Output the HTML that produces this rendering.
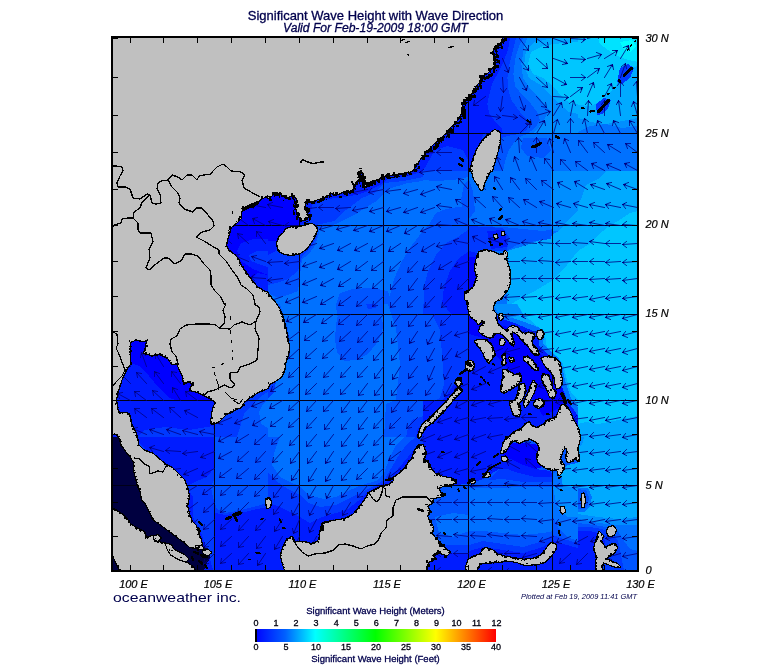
<!DOCTYPE html>
<html lang="en"><head><meta charset="utf-8"><title>Significant Wave Height with Wave Direction</title>
<style>html,body{margin:0;padding:0;background:#fff}body{width:775px;height:665px;overflow:hidden;position:relative}svg{display:block;position:absolute;left:0;top:0}text{font-family:"Liberation Sans",Arial,sans-serif}.t{fill:#00004c}.b{stroke:#00004c;stroke-width:.3px}.ax{font-size:11px;font-style:italic;fill:#000;stroke:#000;stroke-width:.2px}.lg{font-size:9.5px;fill:#00004c;stroke:#00004c;stroke-width:.3px}.ln{font-size:9px;fill:#000010;stroke:#000010;stroke-width:.3px}</style></head><body>
<svg width="775" height="665" viewBox="0 0 775 665">
<defs><clipPath id="mc"><rect x="113" y="38" width="524" height="532"/></clipPath>
<linearGradient id="cb" x1="0" x2="1" y1="0" y2="0">
<stop offset="0" stop-color="#0000ff"/>
<stop offset="0.125" stop-color="#0060ff"/>
<stop offset="0.25" stop-color="#00ffff"/>
<stop offset="0.5" stop-color="#00ff00"/>
<stop offset="0.75" stop-color="#ffff00"/>
<stop offset="1" stop-color="#ff0000"/>
</linearGradient></defs>
<rect width="775" height="665" fill="#fff"/>
<g clip-path="url(#mc)" shape-rendering="crispEdges">
<rect x="111" y="36" width="528" height="536" fill="#0055ff"/>
<svg x="113" y="38" width="155" height="133" viewBox="0 0 775 665" preserveAspectRatio="none">
<rect width="775" height="665" fill="#001cff"/>
</svg>
<svg x="113" y="171" width="155" height="133" viewBox="0 0 775 665" preserveAspectRatio="none">
<rect width="775" height="665" fill="#0000ff"/>
<path d="M775 340L700 340L640 360L620 400L640 450L700 490L775 520Z" fill="#001cff"/>
<path d="M775 400L720 400L680 420L690 450L740 470L775 480Z" fill="#0039ff"/>
<path d="M775 520L720 510L690 545L720 580L775 610Z" fill="#001cff"/>
</svg>
<svg x="113" y="304" width="155" height="133" viewBox="0 0 775 665" preserveAspectRatio="none">
<rect width="775" height="665" fill="#0000ff"/>
<path d="M0 300L85 295L130 310L180 360L230 420L280 470L330 485L510 485L510 665L0 665Z" fill="#001cff"/>
<path d="M120 665L160 630L260 615L380 630L500 610L510 665Z" fill="#0039ff"/>
<path d="M510 420L775 420L775 665L510 665Z" fill="#0039ff"/>
<path d="M775 440L740 460L700 500L660 540L640 600L620 665L775 665Z" fill="#0055ff"/>
<path d="M775 480L750 500L730 540L740 600L775 620Z" fill="#0071ff"/>
</svg>
<svg x="113" y="437" width="155" height="133" viewBox="0 0 775 665" preserveAspectRatio="none">
<rect width="775" height="665" fill="#0039ff"/>
<path d="M100 0L510 0L510 150L470 200L420 220L380 240L300 200L200 100Z" fill="#001cff"/>
<path d="M510 0L775 0L775 330L700 350L620 370L560 380L520 360L500 300L490 250L510 200Z" fill="#0055ff"/>
<path d="M510 380L560 390L640 380L720 360L775 350L775 665L510 665Z" fill="#001cff"/>
<path d="M370 250L400 300L400 400L440 480L470 560L500 665L400 665L380 400Z" fill="#001cff"/>
<path d="M0 0L120 0L130 100L150 250L200 400L300 480L400 550L440 545L480 560L488 600L465 640L455 665L0 665Z" fill="#000040"/>
</svg>
<svg x="268" y="38" width="155" height="133" viewBox="0 0 775 665" preserveAspectRatio="none">
<rect width="775" height="665" fill="#001cff"/>
</svg>
<svg x="268" y="171" width="155" height="133" viewBox="0 0 775 665" preserveAspectRatio="none">
<rect width="775" height="665" fill="#0071ff"/>
<path d="M0 0L775 0L775 50L700 60L600 90L550 145L440 215L340 265L260 285L250 330L230 380L200 420L170 440L160 520L150 600L100 620L0 640Z" fill="#0055ff"/>
<path d="M0 0L775 0L775 30L680 50L580 60L530 110L470 135L390 195L330 250L250 268L245 330L210 390L170 425L150 500L100 540L40 560L0 570Z" fill="#0039ff"/>
<path d="M0 0L775 0L700 25L600 40L560 70L500 100L440 120L380 130L300 140L220 170L210 250L160 270L100 300L60 330L40 400L0 420Z" fill="#001cff"/>
<path d="M0 100L150 100L175 250L150 270L100 290L60 330L40 350L0 350Z" fill="#0000ff"/>
<path d="M775 300L720 370L670 450L630 540L610 620L605 665L775 665Z" fill="#0055ff"/>
<path d="M340 665L360 610L420 590L520 585L600 600L620 665Z" fill="#0055ff"/>
<path d="M0 665L0 610L40 630L60 665Z" fill="#0071ff"/>
</svg>
<svg x="268" y="304" width="155" height="133" viewBox="0 0 775 665" preserveAspectRatio="none">
<rect width="775" height="665" fill="#0071ff"/>
<path d="M350 55L420 50L500 40L560 50L575 100L570 150L540 200L500 250L440 280L380 285L345 240L335 180L340 100Z" fill="#0055ff"/>
<path d="M345 60L340 0L575 0L575 50Z" fill="#0055ff"/>
<path d="M490 0L540 0L540 20L500 25Z" fill="#0039ff"/>
<path d="M600 0L775 0L775 665L580 665L590 500L640 480L660 300L640 120Z" fill="#0055ff"/>
<path d="M775 560L720 580L700 620L690 665L775 665Z" fill="#0039ff"/>
<path d="M775 600L750 620L740 665L775 665Z" fill="#001cff"/>
<path d="M0 380L60 360L90 300L110 220L100 120L80 60L60 0L0 0Z" fill="#0055ff"/>
<path d="M0 400L40 390L30 440L0 470Z" fill="#0039ff"/>
</svg>
<svg x="268" y="437" width="155" height="133" viewBox="0 0 775 665" preserveAspectRatio="none">
<rect width="775" height="665" fill="#0071ff"/>
<path d="M0 0L60 0L30 80L20 140L60 200L120 230L160 245L200 290L280 310L340 300L400 270L470 240L540 220L580 180L610 100L640 40L680 0L775 0L775 665L0 665Z" fill="#0055ff"/>
<path d="M0 180L40 220L100 260L160 290L200 330L260 350L340 340L400 310L460 280L520 250L580 215L620 150L660 80L700 30L740 0L775 0L775 665L0 665Z" fill="#0039ff"/>
<path d="M0 330L60 350L120 380L160 400L210 430L270 400L340 380L400 360L450 320L490 280L540 250L600 220L650 160L700 100L740 50L775 665L0 665Z" fill="#001cff"/>
</svg>
<svg x="423" y="38" width="155" height="133" viewBox="0 0 775 665" preserveAspectRatio="none">
<rect width="775" height="665" fill="#008eff"/>
<path d="M515 60L560 20L650 0L775 0L775 380L730 370L680 330L630 280L580 230L530 200L505 140Z" fill="#00aaff"/>
<path d="M540 70L600 40L650 30L775 20L775 330L740 330L700 300L650 240L600 200L550 180L525 130Z" fill="#00c6ff"/>
<path d="M0 0L520 0L505 50L492 130L500 200L540 260L590 310L630 360L600 420L560 470L520 500L500 560L510 620L530 665L0 665Z" fill="#0071ff"/>
<path d="M380 480L775 480L775 665L380 665Z" fill="#0071ff"/>
<path d="M0 0L500 0L480 40L462 100L452 180L460 240L500 290L540 330L570 370L585 410L560 450L520 480L470 500L430 560L410 620L400 665L0 665Z" fill="#0055ff"/>
<path d="M500 500L620 500L640 560L600 600L520 590L490 550Z" fill="#0055ff"/>
<path d="M0 0L465 0L450 60L432 130L422 200L427 260L442 310L470 350L500 390L530 420L520 460L480 480L420 490L390 500L0 665Z" fill="#0039ff"/>
<path d="M0 0L435 0L425 60L402 120L372 180L345 230L332 280L322 330L332 380L362 420L392 450L400 480L300 480L280 560L250 665L0 665Z" fill="#001cff"/>
<path d="M0 665L60 560L120 540L200 560L230 620L230 665Z" fill="#0039ff"/>
</svg>
<svg x="423" y="171" width="155" height="133" viewBox="0 0 775 665" preserveAspectRatio="none">
<rect width="775" height="665" fill="#0071ff"/>
<path d="M640 0L775 0L775 300L640 300Z" fill="#008eff"/>
<path d="M420 400L520 370L600 340L680 300L740 230L775 200L775 665L420 665Z" fill="#00aaff"/>
<path d="M775 400L720 470L650 545L560 600L475 645L440 665L775 665Z" fill="#00c6ff"/>
<path d="M230 275L300 275L400 280L500 290L600 300L650 290L640 340L560 350L470 370L420 400L230 400Z" fill="#0055ff"/>
<path d="M230 180L175 180L115 190L65 210L35 260L0 300L0 665L230 665Z" fill="#0055ff"/>
<path d="M230 40L205 70L190 140L200 200L230 240L260 200L250 100Z" fill="#0055ff"/>
<path d="M0 0L230 0L230 30L150 45L60 50L0 45Z" fill="#0055ff"/>
<path d="M230 290L175 330L115 360L65 420L25 500L5 580L5 665L230 665Z" fill="#0039ff"/>
<path d="M230 275L400 285L430 330L420 400L280 405L230 420Z" fill="#0039ff"/>
<path d="M230 400L175 440L135 500L105 580L95 665L270 665L270 410Z" fill="#001cff"/>
<path d="M225 430L265 430L265 620L225 620Z" fill="#0000ff"/>
<path d="M320 300L410 295L420 380L340 390Z" fill="#001cff"/>
</svg>
<svg x="423" y="304" width="155" height="133" viewBox="0 0 775 665" preserveAspectRatio="none">
<rect width="775" height="665" fill="#001cff"/>
<path d="M0 0L225 0L225 300L160 400L100 480L0 480Z" fill="#0039ff"/>
<path d="M0 50L45 50L85 130L95 250L105 400L85 470L60 485L0 485Z" fill="#0055ff"/>
<path d="M100 0L230 0L230 50L140 50Z" fill="#001cff"/>
<path d="M100 480L225 300L225 665L0 665L0 600Z" fill="#001cff"/>
<path d="M230 60L440 120L600 260L700 400L720 500L600 560L500 400L400 300L300 170L230 150Z" fill="#0000ff"/>
<path d="M350 0L775 0L775 520L740 470L710 380L690 280L640 240L600 200L610 130L560 110L480 80L420 60L370 40Z" fill="#00aaff"/>
<path d="M350 0L400 0L420 60L480 80L560 110L610 130L600 200L640 240L690 280L710 380L740 470L775 520L775 560L720 480L690 400L670 300L620 250L580 210L585 150L540 130L470 100L410 80L360 50Z" fill="#0071ff"/>
<path d="M350 0L470 0L500 50L440 70L380 50Z" fill="#008eff"/>
<path d="M470 -5L775 -5L775 480L740 440L720 380L700 300L660 250L620 220L610 150L570 110L500 50Z" fill="#00c6ff"/>
</svg>
<svg x="423" y="437" width="155" height="133" viewBox="0 0 775 665" preserveAspectRatio="none">
<rect width="775" height="665" fill="#0055ff"/>
<path d="M0 0L420 0L400 80L420 110L380 160L300 210L230 235L150 240L0 240Z" fill="#001cff"/>
<path d="M400 40L440 30L520 30L580 40L600 150L560 160L500 140L440 110L400 100Z" fill="#0000ff"/>
<path d="M400 100L440 110L500 140L560 160L640 170L650 200L560 200L480 180L420 160L380 160Z" fill="#001cff"/>
<path d="M380 160L420 160L480 180L560 200L650 200L650 225L500 225L400 210L330 215Z" fill="#0039ff"/>
<path d="M230 255L650 250L650 470L600 480L500 490L400 480L300 470L230 470Z" fill="#0071ff"/>
<path d="M60 400L150 380L230 390L230 470L150 500L80 480Z" fill="#0071ff"/>
<path d="M650 180L775 150L775 520L720 500L680 460L650 400Z" fill="#0071ff"/>
<path d="M650 250L775 250L775 400L720 400L670 350Z" fill="#008eff"/>
<path d="M690 180L720 140L775 130L775 250L700 250Z" fill="#00aaff"/>
<path d="M230 540L300 520L400 535L500 550L600 520L650 490L700 510L775 530L775 665L230 665Z" fill="#0039ff"/>
<path d="M230 570L300 550L400 565L500 580L600 550L650 515L700 535L775 555L775 665L230 665Z" fill="#001cff"/>
<path d="M0 540L230 540L230 665L0 665Z" fill="#0039ff"/>
<path d="M0 580L230 580L230 665L0 665Z" fill="#001cff"/>
</svg>
<svg x="578" y="38" width="155" height="133" viewBox="0 0 775 665" preserveAspectRatio="none">
<rect width="775" height="665" fill="#00aaff"/>
<path d="M0 0L300 0L300 140L260 150L220 200L170 260L110 320L60 340L0 335Z" fill="#00c6ff"/>
<path d="M100 0L300 0L300 120L250 110L200 90L150 60L110 30Z" fill="#00e3ff"/>
<path d="M210 20L270 10L290 40L260 70L230 60Z" fill="#00ffff"/>
<path d="M0 400L60 420L140 430L200 420L300 400L300 665L0 665Z" fill="#008eff"/>
<path d="M0 470L60 440L140 430L220 450L300 440L300 665L0 665Z" fill="#0071ff"/>
<path d="M210 150L250 130L280 150L260 200L220 230L195 220Z" fill="#0039ff"/>
<path d="M90 330L130 300L165 310L150 350L120 380L95 385Z" fill="#0039ff"/>
</svg>
<svg x="578" y="171" width="155" height="133" viewBox="0 0 775 665" preserveAspectRatio="none">
<rect width="775" height="665" fill="#00aaff"/>
<path d="M0 0L140 0L100 40L40 70L20 130L0 170Z" fill="#008eff"/>
<path d="M300 200L260 210L200 250L150 280L100 320L50 370L0 400L0 665L300 665Z" fill="#00c6ff"/>
</svg>
<svg x="578" y="304" width="155" height="133" viewBox="0 0 775 665" preserveAspectRatio="none">
<rect width="775" height="665" fill="#00c6ff"/>
<path d="M0 600L40 590L100 600L200 580L300 560L300 665L0 665Z" fill="#00aaff"/>
</svg>
<svg x="578" y="437" width="155" height="133" viewBox="0 0 775 665" preserveAspectRatio="none">
<rect width="775" height="665" fill="#00aaff"/>
<path d="M0 385L100 400L200 410L300 400L300 665L0 665Z" fill="#008eff"/>
<path d="M0 410L100 430L200 440L300 440L300 665L0 665Z" fill="#0071ff"/>
<path d="M0 430L80 440L140 450L200 470L230 520L260 560L300 570L300 665L0 665Z" fill="#0055ff"/>
<path d="M0 450L60 450L120 460L170 480L200 520L210 560L220 620L230 665L0 665Z" fill="#0039ff"/>
<path d="M0 470L60 470L100 480L130 500L140 560L120 620L100 665L0 665Z" fill="#001cff"/>
<path d="M-40 250L-10 255L50 255L70 300L60 350L30 375L-40 380Z" fill="#0071ff"/>
<path d="M-10 260L40 265L55 300L50 340L30 360L-10 360Z" fill="#0055ff"/>
<path d="M0 0L30 0L20 40L0 50Z" fill="#008eff"/>
</svg>
<path d="M214.5 38V570M299.5 38V570M383.5 38V570M468.5 38V570M552.5 38V570M113 485.5H637M113 400.5H637M113 314.5H637M113 225.5H637M113 133.5H637" stroke="#000018" stroke-width="1" fill="none"/>
</g>
<g clip-path="url(#mc)" shape-rendering="crispEdges">
<path d="M119.5 398.5L117.5 393.5M122.5 392.5L117.5 393.5M130.5 400.5L117.5 393.5M120.5 377.5L119.5 372.5M124.5 373.5L119.5 372.5M130.5 383.5L119.5 372.5M123.5 357.5L124.5 352.5M128.5 354.5L124.5 352.5M130.5 366.5L124.5 352.5M134.5 432.5L132.5 428.5M137.5 427.5L132.5 428.5M146.5 434.5L132.5 428.5M135.5 413.5L134.5 408.5M139.5 408.5L134.5 408.5M146.5 417.5L134.5 408.5M135.5 396.5L134.5 391.5M139.5 391.5L134.5 391.5M146.5 400.5L134.5 391.5M137.5 377.5L136.5 372.5M141.5 373.5L136.5 372.5M146.5 383.5L136.5 372.5M140.5 357.5L141.5 352.5M145.5 355.5L141.5 352.5M146.5 366.5L141.5 352.5M152.5 451.5L149.5 447.5M154.5 445.5L149.5 447.5M163.5 451.5L149.5 447.5M152.5 433.5L149.5 429.5M154.5 428.5L149.5 429.5M163.5 434.5L149.5 429.5M152.5 413.5L151.5 408.5M156.5 408.5L151.5 408.5M163.5 417.5L151.5 408.5M153.5 395.5L152.5 390.5M157.5 391.5L152.5 390.5M163.5 400.5L152.5 390.5M154.5 376.5L154.5 371.5M159.5 373.5L154.5 371.5M163.5 383.5L154.5 371.5M155.5 358.5L155.5 353.5M160.5 355.5L155.5 353.5M163.5 366.5L155.5 353.5M169.5 472.5L165.5 470.5M169.5 467.5L165.5 470.5M180.5 468.5L165.5 470.5M169.5 453.5L165.5 450.5M169.5 447.5L165.5 450.5M180.5 451.5L165.5 450.5M169.5 433.5L166.5 429.5M171.5 427.5L166.5 429.5M180.5 434.5L166.5 429.5M170.5 412.5L169.5 407.5M174.5 407.5L169.5 407.5M180.5 417.5L169.5 407.5M172.5 392.5L172.5 387.5M177.5 389.5L172.5 387.5M180.5 400.5L172.5 387.5M171.5 376.5L171.5 371.5M176.5 372.5L171.5 371.5M180.5 383.5L171.5 371.5M191.5 529.5L186.5 529.5M187.5 524.5L186.5 529.5M197.5 519.5L186.5 529.5M190.5 511.5L185.5 511.5M187.5 506.5L185.5 511.5M197.5 502.5L185.5 511.5M189.5 493.5L184.5 493.5M186.5 488.5L184.5 493.5M197.5 485.5L184.5 493.5M188.5 475.5L183.5 474.5M186.5 470.5L183.5 474.5M197.5 468.5L183.5 474.5M186.5 455.5L182.5 453.5M186.5 450.5L182.5 453.5M197.5 451.5L182.5 453.5M185.5 434.5L182.5 430.5M187.5 428.5L182.5 430.5M197.5 434.5L182.5 430.5M186.5 414.5L184.5 410.5M189.5 409.5L184.5 410.5M197.5 417.5L184.5 410.5M186.5 396.5L185.5 391.5M190.5 391.5L185.5 391.5M197.5 400.5L185.5 391.5M208.5 580.5L203.5 581.5M204.5 576.5L203.5 581.5M214.5 570.5L203.5 581.5M208.5 563.5L203.5 564.5M204.5 559.5L203.5 564.5M214.5 553.5L203.5 564.5M208.5 546.5L203.5 547.5M204.5 542.5L203.5 547.5M214.5 536.5L203.5 547.5M208.5 528.5L203.5 529.5M204.5 524.5L203.5 529.5M214.5 519.5L203.5 529.5M208.5 511.5L203.5 512.5M204.5 507.5L203.5 512.5M214.5 502.5L203.5 512.5M207.5 494.5L202.5 494.5M204.5 489.5L202.5 494.5M214.5 485.5L202.5 494.5M206.5 476.5L201.5 475.5M203.5 471.5L201.5 475.5M214.5 468.5L201.5 475.5M205.5 458.5L200.5 457.5M203.5 453.5L200.5 457.5M214.5 451.5L200.5 457.5M202.5 435.5L199.5 431.5M204.5 429.5L199.5 431.5M214.5 434.5L199.5 431.5M225.5 580.5L220.5 581.5M221.5 576.5L220.5 581.5M231.5 570.5L220.5 581.5M225.5 562.5L220.5 563.5M221.5 558.5L220.5 563.5M231.5 553.5L220.5 563.5M225.5 545.5L220.5 546.5M221.5 541.5L220.5 546.5M231.5 536.5L220.5 546.5M225.5 528.5L220.5 529.5M221.5 524.5L220.5 529.5M231.5 519.5L220.5 529.5M225.5 511.5L220.5 512.5M221.5 507.5L220.5 512.5M231.5 502.5L220.5 512.5M225.5 494.5L220.5 495.5M221.5 490.5L220.5 495.5M231.5 485.5L220.5 495.5M224.5 477.5L219.5 477.5M220.5 472.5L219.5 477.5M231.5 468.5L219.5 477.5M223.5 459.5L218.5 458.5M220.5 453.5L218.5 458.5M231.5 451.5L218.5 458.5M223.5 442.5L218.5 441.5M220.5 436.5L218.5 441.5M231.5 434.5L218.5 441.5M222.5 424.5L217.5 423.5M220.5 419.5L217.5 423.5M231.5 417.5L217.5 423.5M221.5 238.5L220.5 233.5M225.5 234.5L220.5 233.5M231.5 243.5L220.5 233.5M243.5 580.5L238.5 581.5M238.5 576.5L238.5 581.5M248.5 570.5L238.5 581.5M243.5 563.5L238.5 564.5M238.5 559.5L238.5 564.5M248.5 553.5L238.5 564.5M243.5 546.5L238.5 547.5M238.5 542.5L238.5 547.5M248.5 536.5L238.5 547.5M243.5 529.5L238.5 530.5M239.5 525.5L238.5 530.5M248.5 519.5L238.5 530.5M242.5 512.5L237.5 513.5M238.5 508.5L237.5 513.5M248.5 502.5L237.5 513.5M242.5 494.5L237.5 495.5M238.5 490.5L237.5 495.5M248.5 485.5L237.5 495.5M241.5 478.5L236.5 478.5M237.5 473.5L236.5 478.5M248.5 468.5L236.5 478.5M242.5 461.5L237.5 461.5M238.5 456.5L237.5 461.5M248.5 451.5L237.5 461.5M240.5 442.5L235.5 442.5M237.5 437.5L235.5 442.5M248.5 434.5L235.5 442.5M239.5 424.5L234.5 423.5M237.5 419.5L234.5 423.5M248.5 417.5L234.5 423.5M239.5 407.5L234.5 406.5M237.5 402.5L234.5 406.5M248.5 400.5L234.5 406.5M237.5 259.5L234.5 255.5M239.5 254.5L234.5 255.5M248.5 261.5L234.5 255.5M238.5 238.5L237.5 233.5M242.5 234.5L237.5 233.5M248.5 243.5L237.5 233.5M238.5 221.5L236.5 216.5M241.5 216.5L236.5 216.5M248.5 225.5L236.5 216.5M261.5 580.5L256.5 582.5M256.5 577.5L256.5 582.5M265.5 570.5L256.5 582.5M262.5 563.5L257.5 565.5M257.5 560.5L257.5 565.5M265.5 553.5L257.5 565.5M261.5 547.5L256.5 548.5M256.5 543.5L256.5 548.5M265.5 536.5L256.5 548.5M260.5 529.5L255.5 530.5M256.5 525.5L255.5 530.5M265.5 519.5L255.5 530.5M259.5 495.5L254.5 496.5M255.5 491.5L254.5 496.5M265.5 485.5L254.5 496.5M259.5 478.5L254.5 479.5M255.5 474.5L254.5 479.5M265.5 468.5L254.5 479.5M260.5 461.5L255.5 462.5M256.5 457.5L255.5 462.5M265.5 451.5L255.5 462.5M259.5 444.5L254.5 444.5M255.5 439.5L254.5 444.5M265.5 434.5L254.5 444.5M257.5 426.5L252.5 425.5M254.5 420.5L252.5 425.5M265.5 417.5L252.5 425.5M256.5 407.5L251.5 406.5M254.5 402.5L251.5 406.5M265.5 400.5L251.5 406.5M254.5 280.5L250.5 277.5M254.5 274.5L250.5 277.5M265.5 278.5L250.5 277.5M254.5 260.5L251.5 256.5M256.5 255.5L251.5 256.5M265.5 261.5L251.5 256.5M256.5 236.5L256.5 231.5M261.5 232.5L256.5 231.5M265.5 243.5L256.5 231.5M254.5 223.5L252.5 218.5M257.5 217.5L252.5 218.5M265.5 225.5L252.5 218.5M253.5 208.5L250.5 204.5M255.5 202.5L250.5 204.5M265.5 207.5L250.5 204.5M278.5 580.5L273.5 582.5M273.5 577.5L273.5 582.5M282.5 570.5L273.5 582.5M279.5 547.5L274.5 549.5M274.5 544.5L274.5 549.5M282.5 536.5L274.5 549.5M279.5 529.5L274.5 531.5M274.5 526.5L274.5 531.5M282.5 519.5L274.5 531.5M278.5 512.5L273.5 514.5M273.5 509.5L273.5 514.5M282.5 502.5L273.5 514.5M278.5 496.5L273.5 497.5M273.5 492.5L273.5 497.5M282.5 485.5L273.5 497.5M277.5 478.5L272.5 479.5M272.5 474.5L272.5 479.5M282.5 468.5L272.5 479.5M277.5 461.5L272.5 462.5M273.5 457.5L272.5 462.5M282.5 451.5L272.5 462.5M276.5 443.5L271.5 444.5M272.5 439.5L271.5 444.5M282.5 434.5L271.5 444.5M275.5 426.5L270.5 426.5M271.5 421.5L270.5 426.5M282.5 417.5L270.5 426.5M274.5 408.5L269.5 408.5M271.5 403.5L269.5 408.5M282.5 400.5L269.5 408.5M275.5 391.5L270.5 391.5M272.5 386.5L270.5 391.5M282.5 383.5L270.5 391.5M273.5 302.5L268.5 301.5M271.5 297.5L268.5 301.5M282.5 296.5L268.5 301.5M271.5 282.5L267.5 280.5M271.5 277.5L267.5 280.5M282.5 278.5L267.5 280.5M271.5 265.5L267.5 262.5M271.5 259.5L267.5 262.5M282.5 261.5L267.5 262.5M271.5 225.5L268.5 221.5M273.5 219.5L268.5 221.5M282.5 225.5L268.5 221.5M270.5 208.5L267.5 204.5M272.5 202.5L267.5 204.5M282.5 207.5L267.5 204.5M297.5 547.5L292.5 549.5M291.5 544.5L292.5 549.5M299.5 536.5L292.5 549.5M297.5 531.5L293.5 533.5M292.5 528.5L293.5 533.5M299.5 519.5L293.5 533.5M297.5 513.5L292.5 515.5M291.5 510.5L292.5 515.5M299.5 502.5L292.5 515.5M296.5 496.5L291.5 498.5M291.5 493.5L291.5 498.5M299.5 485.5L291.5 498.5M296.5 478.5L291.5 480.5M291.5 475.5L291.5 480.5M299.5 468.5L291.5 480.5M295.5 461.5L290.5 463.5M290.5 458.5L290.5 463.5M299.5 451.5L290.5 463.5M294.5 444.5L289.5 445.5M290.5 440.5L289.5 445.5M299.5 434.5L289.5 445.5M293.5 426.5L288.5 427.5M289.5 422.5L288.5 427.5M299.5 417.5L288.5 427.5M293.5 409.5L288.5 410.5M289.5 405.5L288.5 410.5M299.5 400.5L288.5 410.5M293.5 392.5L288.5 393.5M289.5 388.5L288.5 393.5M299.5 383.5L288.5 393.5M293.5 376.5L288.5 377.5M289.5 372.5L288.5 377.5M299.5 366.5L288.5 377.5M293.5 358.5L288.5 358.5M289.5 353.5L288.5 358.5M299.5 348.5L288.5 358.5M292.5 340.5L287.5 340.5M288.5 335.5L287.5 340.5M299.5 331.5L287.5 340.5M291.5 322.5L286.5 321.5M288.5 316.5L286.5 321.5M299.5 314.5L286.5 321.5M290.5 303.5L285.5 302.5M287.5 298.5L285.5 302.5M299.5 296.5L285.5 302.5M290.5 284.5L285.5 283.5M288.5 279.5L285.5 283.5M299.5 278.5L285.5 283.5M288.5 265.5L284.5 263.5M288.5 260.5L284.5 263.5M299.5 261.5L284.5 263.5M288.5 228.5L284.5 225.5M288.5 222.5L284.5 225.5M299.5 225.5L284.5 225.5M314.5 547.5L309.5 549.5M308.5 544.5L309.5 549.5M316.5 536.5L309.5 549.5M313.5 530.5L309.5 532.5M308.5 527.5L309.5 532.5M316.5 519.5L309.5 532.5M313.5 513.5L309.5 515.5M308.5 510.5L309.5 515.5M316.5 502.5L309.5 515.5M313.5 496.5L308.5 498.5M307.5 493.5L308.5 498.5M316.5 485.5L308.5 498.5M313.5 479.5L308.5 481.5M308.5 476.5L308.5 481.5M316.5 468.5L308.5 481.5M312.5 461.5L307.5 463.5M307.5 458.5L307.5 463.5M316.5 451.5L307.5 463.5M311.5 445.5L306.5 446.5M306.5 441.5L306.5 446.5M316.5 434.5L306.5 446.5M311.5 427.5L306.5 428.5M307.5 423.5L306.5 428.5M316.5 417.5L306.5 428.5M311.5 410.5L306.5 411.5M307.5 406.5L306.5 411.5M316.5 400.5L306.5 411.5M310.5 393.5L305.5 394.5M306.5 389.5L305.5 394.5M316.5 383.5L305.5 394.5M310.5 376.5L305.5 377.5M306.5 372.5L305.5 377.5M316.5 366.5L305.5 377.5M310.5 358.5L305.5 358.5M306.5 353.5L305.5 358.5M316.5 348.5L305.5 358.5M309.5 340.5L304.5 340.5M305.5 335.5L304.5 340.5M316.5 331.5L304.5 340.5M308.5 322.5L303.5 322.5M305.5 317.5L303.5 322.5M316.5 314.5L303.5 322.5M307.5 303.5L302.5 302.5M304.5 298.5L302.5 302.5M316.5 296.5L302.5 302.5M307.5 285.5L302.5 284.5M305.5 280.5L302.5 284.5M316.5 278.5L302.5 284.5M307.5 267.5L302.5 266.5M305.5 262.5L302.5 266.5M316.5 261.5L302.5 266.5M307.5 249.5L302.5 248.5M305.5 244.5L302.5 248.5M316.5 243.5L302.5 248.5M306.5 230.5L301.5 228.5M304.5 224.5L301.5 228.5M316.5 225.5L301.5 228.5M305.5 211.5L301.5 209.5M305.5 206.5L301.5 209.5M316.5 207.5L301.5 209.5M331.5 530.5L326.5 532.5M325.5 527.5L326.5 532.5M333.5 519.5L326.5 532.5M330.5 513.5L326.5 515.5M325.5 510.5L326.5 515.5M333.5 502.5L326.5 515.5M330.5 496.5L326.5 498.5M325.5 493.5L326.5 498.5M333.5 485.5L326.5 498.5M330.5 479.5L325.5 481.5M325.5 476.5L325.5 481.5M333.5 468.5L325.5 481.5M330.5 461.5L325.5 463.5M325.5 458.5L325.5 463.5M333.5 451.5L325.5 463.5M329.5 445.5L324.5 446.5M324.5 441.5L324.5 446.5M333.5 434.5L324.5 446.5M329.5 428.5L324.5 429.5M324.5 424.5L324.5 429.5M333.5 417.5L324.5 429.5M328.5 410.5L323.5 411.5M323.5 406.5L323.5 411.5M333.5 400.5L323.5 411.5M328.5 393.5L323.5 394.5M324.5 389.5L323.5 394.5M333.5 383.5L323.5 394.5M328.5 376.5L323.5 377.5M324.5 372.5L323.5 377.5M333.5 366.5L323.5 377.5M327.5 357.5L322.5 358.5M323.5 353.5L322.5 358.5M333.5 348.5L322.5 358.5M327.5 340.5L322.5 341.5M323.5 336.5L322.5 341.5M333.5 331.5L322.5 341.5M326.5 323.5L321.5 323.5M323.5 318.5L321.5 323.5M333.5 314.5L321.5 323.5M325.5 304.5L320.5 304.5M322.5 299.5L320.5 304.5M333.5 296.5L320.5 304.5M325.5 286.5L320.5 285.5M322.5 281.5L320.5 285.5M333.5 278.5L320.5 285.5M324.5 268.5L319.5 267.5M321.5 263.5L319.5 267.5M333.5 261.5L319.5 267.5M324.5 249.5L319.5 248.5M322.5 244.5L319.5 248.5M333.5 243.5L319.5 248.5M324.5 231.5L319.5 229.5M322.5 225.5L319.5 229.5M333.5 225.5L319.5 229.5M322.5 210.5L318.5 207.5M322.5 204.5L318.5 207.5M333.5 207.5L318.5 207.5M347.5 513.5L342.5 515.5M342.5 510.5L342.5 515.5M350.5 502.5L342.5 515.5M346.5 495.5L341.5 497.5M341.5 492.5L341.5 497.5M350.5 485.5L341.5 497.5M346.5 479.5L341.5 480.5M341.5 475.5L341.5 480.5M350.5 468.5L341.5 480.5M346.5 462.5L341.5 463.5M341.5 458.5L341.5 463.5M350.5 451.5L341.5 463.5M346.5 445.5L341.5 446.5M341.5 441.5L341.5 446.5M350.5 434.5L341.5 446.5M346.5 428.5L341.5 429.5M341.5 424.5L341.5 429.5M350.5 417.5L341.5 429.5M346.5 411.5L341.5 412.5M341.5 407.5L341.5 412.5M350.5 400.5L341.5 412.5M345.5 393.5L340.5 394.5M340.5 389.5L340.5 394.5M350.5 383.5L340.5 394.5M345.5 376.5L340.5 377.5M341.5 372.5L340.5 377.5M350.5 366.5L340.5 377.5M345.5 358.5L340.5 359.5M341.5 354.5L340.5 359.5M350.5 348.5L340.5 359.5M344.5 340.5L339.5 341.5M340.5 336.5L339.5 341.5M350.5 331.5L339.5 341.5M343.5 324.5L338.5 324.5M339.5 319.5L338.5 324.5M350.5 314.5L338.5 324.5M343.5 305.5L338.5 305.5M340.5 300.5L338.5 305.5M350.5 296.5L338.5 305.5M343.5 286.5L338.5 286.5M340.5 281.5L338.5 286.5M350.5 278.5L338.5 286.5M342.5 270.5L337.5 269.5M339.5 264.5L337.5 269.5M350.5 261.5L337.5 269.5M342.5 251.5L337.5 250.5M339.5 246.5L337.5 250.5M350.5 243.5L337.5 250.5M341.5 231.5L336.5 229.5M339.5 225.5L336.5 229.5M350.5 225.5L336.5 229.5M339.5 211.5L335.5 208.5M339.5 205.5L335.5 208.5M350.5 207.5L335.5 208.5M362.5 496.5L357.5 497.5M357.5 492.5L357.5 497.5M367.5 485.5L357.5 497.5M361.5 478.5L356.5 479.5M357.5 474.5L356.5 479.5M367.5 468.5L356.5 479.5M363.5 462.5L358.5 463.5M358.5 458.5L358.5 463.5M367.5 451.5L358.5 463.5M363.5 444.5L358.5 446.5M358.5 441.5L358.5 446.5M367.5 434.5L358.5 446.5M363.5 428.5L358.5 429.5M358.5 424.5L358.5 429.5M367.5 417.5L358.5 429.5M363.5 411.5L358.5 412.5M358.5 407.5L358.5 412.5M367.5 400.5L358.5 412.5M363.5 394.5L358.5 395.5M358.5 390.5L358.5 395.5M367.5 383.5L358.5 395.5M362.5 376.5L357.5 377.5M357.5 372.5L357.5 377.5M367.5 366.5L357.5 377.5M362.5 358.5L357.5 359.5M357.5 354.5L357.5 359.5M367.5 348.5L357.5 359.5M362.5 341.5L357.5 342.5M358.5 337.5L357.5 342.5M367.5 331.5L357.5 342.5M361.5 324.5L356.5 325.5M357.5 320.5L356.5 325.5M367.5 314.5L356.5 325.5M361.5 305.5L356.5 306.5M357.5 301.5L356.5 306.5M367.5 296.5L356.5 306.5M361.5 287.5L356.5 288.5M357.5 283.5L356.5 288.5M367.5 278.5L356.5 288.5M360.5 270.5L355.5 270.5M356.5 265.5L355.5 270.5M367.5 261.5L355.5 270.5M359.5 251.5L354.5 250.5M356.5 246.5L354.5 250.5M367.5 243.5L354.5 250.5M358.5 231.5L353.5 230.5M356.5 226.5L353.5 230.5M367.5 225.5L353.5 230.5M357.5 212.5L352.5 210.5M355.5 206.5L352.5 210.5M367.5 207.5L352.5 210.5M357.5 194.5L352.5 192.5M355.5 188.5L352.5 192.5M367.5 189.5L352.5 192.5M377.5 477.5L372.5 478.5M373.5 473.5L372.5 478.5M383.5 468.5L372.5 478.5M377.5 460.5L372.5 461.5M373.5 456.5L372.5 461.5M383.5 451.5L372.5 461.5M378.5 444.5L373.5 445.5M374.5 440.5L373.5 445.5M383.5 434.5L373.5 445.5M378.5 427.5L373.5 428.5M374.5 423.5L373.5 428.5M383.5 417.5L373.5 428.5M379.5 411.5L374.5 412.5M374.5 407.5L374.5 412.5M383.5 400.5L374.5 412.5M379.5 394.5L374.5 395.5M374.5 390.5L374.5 395.5M383.5 383.5L374.5 395.5M379.5 377.5L374.5 378.5M374.5 373.5L374.5 378.5M383.5 366.5L374.5 378.5M378.5 359.5L373.5 360.5M373.5 355.5L373.5 360.5M383.5 348.5L373.5 360.5M378.5 341.5L373.5 342.5M373.5 337.5L373.5 342.5M383.5 331.5L373.5 342.5M378.5 324.5L373.5 325.5M374.5 320.5L373.5 325.5M383.5 314.5L373.5 325.5M377.5 305.5L372.5 306.5M373.5 301.5L372.5 306.5M383.5 296.5L372.5 306.5M377.5 288.5L372.5 288.5M373.5 283.5L372.5 288.5M383.5 278.5L372.5 288.5M376.5 270.5L371.5 270.5M372.5 265.5L371.5 270.5M383.5 261.5L371.5 270.5M375.5 251.5L370.5 251.5M372.5 246.5L370.5 251.5M383.5 243.5L370.5 251.5M374.5 232.5L369.5 231.5M371.5 227.5L369.5 231.5M383.5 225.5L369.5 231.5M374.5 213.5L369.5 211.5M372.5 207.5L369.5 211.5M383.5 207.5L369.5 211.5M373.5 194.5L368.5 192.5M371.5 188.5L368.5 192.5M383.5 189.5L368.5 192.5M393.5 477.5L388.5 477.5M390.5 472.5L388.5 477.5M400.5 468.5L388.5 477.5M393.5 460.5L388.5 460.5M390.5 455.5L388.5 460.5M400.5 451.5L388.5 460.5M394.5 444.5L389.5 444.5M390.5 439.5L389.5 444.5M400.5 434.5L389.5 444.5M394.5 427.5L389.5 428.5M390.5 423.5L389.5 428.5M400.5 417.5L389.5 428.5M396.5 410.5L391.5 412.5M391.5 407.5L391.5 412.5M400.5 400.5L391.5 412.5M396.5 394.5L391.5 395.5M391.5 390.5L391.5 395.5M400.5 383.5L391.5 395.5M397.5 377.5L392.5 379.5M392.5 374.5L392.5 379.5M400.5 366.5L392.5 379.5M396.5 358.5L391.5 360.5M391.5 355.5L391.5 360.5M400.5 348.5L391.5 360.5M396.5 341.5L391.5 343.5M391.5 338.5L391.5 343.5M400.5 331.5L391.5 343.5M396.5 325.5L391.5 326.5M391.5 321.5L391.5 326.5M400.5 314.5L391.5 326.5M395.5 306.5L390.5 307.5M390.5 302.5L390.5 307.5M400.5 296.5L390.5 307.5M395.5 288.5L390.5 289.5M390.5 284.5L390.5 289.5M400.5 278.5L390.5 289.5M394.5 270.5L389.5 271.5M390.5 266.5L389.5 271.5M400.5 261.5L389.5 271.5M393.5 251.5L388.5 251.5M390.5 246.5L388.5 251.5M400.5 243.5L388.5 251.5M391.5 232.5L386.5 231.5M388.5 227.5L386.5 231.5M400.5 225.5L386.5 231.5M391.5 213.5L386.5 211.5M389.5 207.5L386.5 211.5M400.5 207.5L386.5 211.5M389.5 193.5L385.5 191.5M389.5 188.5L385.5 191.5M400.5 189.5L385.5 191.5M411.5 427.5L406.5 428.5M407.5 423.5L406.5 428.5M417.5 417.5L406.5 428.5M412.5 410.5L407.5 411.5M408.5 406.5L407.5 411.5M417.5 400.5L407.5 411.5M412.5 393.5L407.5 394.5M408.5 389.5L407.5 394.5M417.5 383.5L407.5 394.5M413.5 376.5L408.5 378.5M408.5 373.5L408.5 378.5M417.5 366.5L408.5 378.5M414.5 358.5L409.5 360.5M409.5 355.5L409.5 360.5M417.5 348.5L409.5 360.5M414.5 341.5L409.5 343.5M409.5 338.5L409.5 343.5M417.5 331.5L409.5 343.5M413.5 325.5L408.5 326.5M408.5 321.5L408.5 326.5M417.5 314.5L408.5 326.5M412.5 306.5L407.5 307.5M407.5 302.5L407.5 307.5M417.5 296.5L407.5 307.5M413.5 289.5L408.5 290.5M408.5 285.5L408.5 290.5M417.5 278.5L408.5 290.5M412.5 271.5L407.5 272.5M408.5 267.5L407.5 272.5M417.5 261.5L407.5 272.5M410.5 252.5L405.5 252.5M406.5 247.5L405.5 252.5M417.5 243.5L405.5 252.5M409.5 234.5L404.5 233.5M406.5 228.5L404.5 233.5M417.5 225.5L404.5 233.5M408.5 213.5L403.5 212.5M406.5 208.5L403.5 212.5M417.5 207.5L403.5 212.5M408.5 195.5L403.5 193.5M406.5 189.5L403.5 193.5M417.5 189.5L403.5 193.5M407.5 175.5L402.5 173.5M405.5 169.5L402.5 173.5M417.5 170.5L402.5 173.5M423.5 573.5L419.5 570.5M423.5 567.5L419.5 570.5M434.5 570.5L419.5 570.5M423.5 523.5L419.5 520.5M423.5 517.5L419.5 520.5M434.5 519.5L419.5 520.5M423.5 505.5L419.5 502.5M423.5 499.5L419.5 502.5M434.5 502.5L419.5 502.5M425.5 475.5L420.5 473.5M423.5 469.5L420.5 473.5M434.5 468.5L420.5 473.5M425.5 457.5L420.5 456.5M423.5 452.5L420.5 456.5M434.5 451.5L420.5 456.5M425.5 441.5L420.5 440.5M423.5 436.5L420.5 440.5M434.5 434.5L420.5 440.5M428.5 410.5L423.5 410.5M424.5 405.5L423.5 410.5M434.5 400.5L423.5 410.5M430.5 393.5L425.5 395.5M425.5 390.5L425.5 395.5M434.5 383.5L425.5 395.5M432.5 378.5L428.5 380.5M427.5 375.5L428.5 380.5M434.5 366.5L428.5 380.5M432.5 359.5L427.5 361.5M426.5 356.5L427.5 361.5M434.5 348.5L427.5 361.5M432.5 342.5L427.5 344.5M426.5 339.5L427.5 344.5M434.5 331.5L427.5 344.5M430.5 325.5L425.5 326.5M425.5 321.5L425.5 326.5M434.5 314.5L425.5 326.5M429.5 306.5L424.5 307.5M425.5 302.5L424.5 307.5M434.5 296.5L424.5 307.5M428.5 288.5L423.5 289.5M424.5 284.5L423.5 289.5M434.5 278.5L423.5 289.5M427.5 270.5L422.5 270.5M424.5 265.5L422.5 270.5M434.5 261.5L422.5 270.5M426.5 252.5L421.5 251.5M423.5 246.5L421.5 251.5M434.5 243.5L421.5 251.5M425.5 232.5L420.5 231.5M423.5 227.5L420.5 231.5M434.5 225.5L420.5 231.5M425.5 213.5L420.5 212.5M423.5 208.5L420.5 212.5M434.5 207.5L420.5 212.5M425.5 196.5L420.5 194.5M423.5 190.5L420.5 194.5M434.5 189.5L420.5 194.5M423.5 174.5L419.5 172.5M423.5 169.5L419.5 172.5M434.5 170.5L419.5 172.5M423.5 156.5L419.5 153.5M423.5 150.5L419.5 153.5M434.5 152.5L419.5 153.5M440.5 573.5L436.5 570.5M440.5 567.5L436.5 570.5M451.5 570.5L436.5 570.5M440.5 556.5L436.5 553.5M440.5 550.5L436.5 553.5M451.5 553.5L436.5 553.5M440.5 538.5L436.5 535.5M440.5 532.5L436.5 535.5M451.5 536.5L436.5 535.5M440.5 522.5L436.5 519.5M440.5 516.5L436.5 519.5M451.5 519.5L436.5 519.5M440.5 505.5L436.5 502.5M440.5 499.5L436.5 502.5M451.5 502.5L436.5 502.5M440.5 488.5L436.5 485.5M440.5 482.5L436.5 485.5M451.5 485.5L436.5 485.5M442.5 474.5L437.5 473.5M440.5 469.5L437.5 473.5M451.5 468.5L437.5 473.5M442.5 458.5L437.5 457.5M440.5 453.5L437.5 457.5M451.5 451.5L437.5 457.5M442.5 440.5L437.5 439.5M440.5 435.5L437.5 439.5M451.5 434.5L437.5 439.5M442.5 423.5L437.5 422.5M440.5 418.5L437.5 422.5M451.5 417.5L437.5 422.5M449.5 394.5L444.5 396.5M443.5 391.5L444.5 396.5M451.5 383.5L444.5 396.5M448.5 377.5L444.5 379.5M443.5 374.5L444.5 379.5M451.5 366.5L444.5 379.5M447.5 358.5L442.5 360.5M442.5 355.5L442.5 360.5M451.5 348.5L442.5 360.5M444.5 340.5L439.5 340.5M441.5 335.5L439.5 340.5M451.5 331.5L439.5 340.5M445.5 324.5L440.5 325.5M441.5 320.5L440.5 325.5M451.5 314.5L440.5 325.5M446.5 306.5L441.5 307.5M442.5 302.5L441.5 307.5M451.5 296.5L441.5 307.5M445.5 287.5L440.5 288.5M441.5 283.5L440.5 288.5M451.5 278.5L440.5 288.5M443.5 269.5L438.5 269.5M440.5 264.5L438.5 269.5M451.5 261.5L438.5 269.5M441.5 248.5L436.5 246.5M439.5 242.5L436.5 246.5M451.5 243.5L436.5 246.5M440.5 227.5L436.5 224.5M440.5 221.5L436.5 224.5M451.5 225.5L436.5 224.5M440.5 209.5L436.5 205.5M440.5 203.5L436.5 205.5M451.5 207.5L436.5 205.5M439.5 190.5L436.5 186.5M441.5 184.5L436.5 186.5M451.5 189.5L436.5 186.5M440.5 173.5L436.5 170.5M440.5 167.5L436.5 170.5M451.5 170.5L436.5 170.5M440.5 155.5L436.5 152.5M440.5 149.5L436.5 152.5M451.5 152.5L436.5 152.5M440.5 137.5L436.5 135.5M440.5 131.5L436.5 135.5M451.5 133.5L436.5 135.5M457.5 556.5L453.5 553.5M457.5 550.5L453.5 553.5M468.5 553.5L453.5 553.5M457.5 537.5L453.5 534.5M457.5 532.5L453.5 534.5M468.5 536.5L453.5 534.5M457.5 522.5L453.5 519.5M457.5 516.5L453.5 519.5M468.5 519.5L453.5 519.5M457.5 505.5L453.5 502.5M457.5 499.5L453.5 502.5M468.5 502.5L453.5 502.5M459.5 474.5L454.5 472.5M457.5 468.5L454.5 472.5M468.5 468.5L454.5 472.5M459.5 458.5L454.5 457.5M457.5 453.5L454.5 457.5M468.5 451.5L454.5 457.5M459.5 440.5L454.5 439.5M457.5 435.5L454.5 439.5M468.5 434.5L454.5 439.5M459.5 423.5L454.5 421.5M457.5 417.5L454.5 421.5M468.5 417.5L454.5 421.5M460.5 408.5L455.5 407.5M457.5 402.5L455.5 407.5M468.5 400.5L455.5 407.5M459.5 390.5L454.5 389.5M457.5 385.5L454.5 389.5M468.5 383.5L454.5 389.5M460.5 357.5L455.5 356.5M457.5 351.5L455.5 356.5M468.5 348.5L455.5 356.5M459.5 337.5L454.5 335.5M457.5 331.5L454.5 335.5M468.5 331.5L454.5 335.5M462.5 288.5L457.5 289.5M458.5 284.5L457.5 289.5M468.5 278.5L457.5 289.5M459.5 267.5L454.5 266.5M457.5 262.5L454.5 266.5M468.5 261.5L454.5 266.5M456.5 244.5L453.5 240.5M458.5 238.5L453.5 240.5M468.5 243.5L453.5 240.5M457.5 223.5L454.5 219.5M459.5 218.5L454.5 219.5M468.5 225.5L454.5 219.5M457.5 204.5L455.5 199.5M460.5 199.5L455.5 199.5M468.5 207.5L455.5 199.5M458.5 183.5L458.5 178.5M463.5 179.5L458.5 178.5M468.5 189.5L458.5 178.5M474.5 573.5L470.5 570.5M474.5 567.5L470.5 570.5M485.5 570.5L470.5 570.5M474.5 538.5L470.5 535.5M474.5 532.5L470.5 535.5M485.5 536.5L470.5 535.5M474.5 522.5L470.5 519.5M474.5 516.5L470.5 519.5M485.5 519.5L470.5 519.5M474.5 505.5L470.5 502.5M474.5 499.5L470.5 502.5M485.5 502.5L470.5 502.5M474.5 489.5L470.5 486.5M474.5 483.5L470.5 486.5M485.5 485.5L470.5 486.5M475.5 473.5L470.5 471.5M473.5 467.5L470.5 471.5M485.5 468.5L470.5 471.5M476.5 458.5L471.5 457.5M474.5 453.5L471.5 457.5M485.5 451.5L471.5 457.5M476.5 441.5L471.5 439.5M474.5 435.5L471.5 439.5M485.5 434.5L471.5 439.5M475.5 422.5L470.5 420.5M473.5 416.5L470.5 420.5M485.5 417.5L470.5 420.5M476.5 406.5L471.5 405.5M474.5 401.5L471.5 405.5M485.5 400.5L471.5 405.5M476.5 390.5L471.5 389.5M474.5 385.5L471.5 389.5M485.5 383.5L471.5 389.5M477.5 374.5L472.5 373.5M474.5 369.5L472.5 373.5M485.5 366.5L472.5 373.5M474.5 241.5L472.5 236.5M477.5 235.5L472.5 236.5M485.5 243.5L472.5 236.5M474.5 223.5L471.5 219.5M476.5 218.5L471.5 219.5M485.5 225.5L471.5 219.5M475.5 202.5L474.5 197.5M479.5 197.5L474.5 197.5M485.5 207.5L474.5 197.5M476.5 183.5L475.5 178.5M480.5 179.5L475.5 178.5M485.5 189.5L475.5 178.5M494.5 139.5L495.5 144.5M490.5 143.5L495.5 144.5M485.5 133.5L495.5 144.5M496.5 114.5L500.5 117.5M496.5 119.5L500.5 117.5M485.5 115.5L500.5 117.5M478.5 105.5L473.5 105.5M474.5 100.5L473.5 105.5M485.5 96.5L473.5 105.5M491.5 573.5L487.5 570.5M491.5 567.5L487.5 570.5M502.5 570.5L487.5 570.5M491.5 555.5L487.5 552.5M491.5 549.5L487.5 552.5M502.5 553.5L487.5 552.5M491.5 537.5L487.5 534.5M491.5 532.5L487.5 534.5M502.5 536.5L487.5 534.5M491.5 521.5L487.5 518.5M491.5 515.5L487.5 518.5M502.5 519.5L487.5 518.5M491.5 505.5L487.5 502.5M491.5 499.5L487.5 502.5M502.5 502.5L487.5 502.5M491.5 488.5L487.5 485.5M491.5 482.5L487.5 485.5M502.5 485.5L487.5 485.5M491.5 470.5L487.5 466.5M491.5 464.5L487.5 466.5M502.5 468.5L487.5 466.5M491.5 439.5L487.5 437.5M490.5 433.5L487.5 437.5M502.5 434.5L487.5 437.5M491.5 421.5L487.5 418.5M491.5 415.5L487.5 418.5M502.5 417.5L487.5 418.5M493.5 406.5L488.5 404.5M491.5 400.5L488.5 404.5M502.5 400.5L488.5 404.5M493.5 373.5L488.5 372.5M491.5 368.5L488.5 372.5M502.5 366.5L488.5 372.5M493.5 355.5L488.5 354.5M491.5 350.5L488.5 354.5M502.5 348.5L488.5 354.5M491.5 242.5L488.5 238.5M493.5 237.5L488.5 238.5M502.5 243.5L488.5 238.5M491.5 223.5L489.5 218.5M494.5 217.5L489.5 218.5M502.5 225.5L489.5 218.5M493.5 201.5L492.5 196.5M497.5 197.5L492.5 196.5M502.5 207.5L492.5 196.5M494.5 181.5L494.5 176.5M499.5 178.5L494.5 176.5M502.5 189.5L494.5 176.5M495.5 161.5L496.5 156.5M500.5 159.5L496.5 156.5M502.5 170.5L496.5 156.5M497.5 141.5L499.5 137.5M503.5 140.5L499.5 137.5M502.5 152.5L499.5 137.5M513.5 114.5L517.5 117.5M513.5 119.5L517.5 117.5M502.5 115.5L517.5 117.5M503.5 107.5L500.5 111.5M498.5 107.5L500.5 111.5M502.5 96.5L500.5 111.5M506.5 88.5L503.5 92.5M500.5 88.5L503.5 92.5M502.5 77.5L503.5 92.5M509.5 67.5L508.5 72.5M504.5 70.5L508.5 72.5M502.5 58.5L508.5 72.5M508.5 574.5L504.5 572.5M508.5 568.5L504.5 572.5M519.5 570.5L504.5 572.5M508.5 556.5L504.5 553.5M508.5 550.5L504.5 553.5M519.5 553.5L504.5 553.5M508.5 538.5L504.5 535.5M508.5 532.5L504.5 535.5M519.5 536.5L504.5 535.5M508.5 522.5L504.5 519.5M508.5 516.5L504.5 519.5M519.5 519.5L504.5 519.5M508.5 505.5L504.5 502.5M508.5 499.5L504.5 502.5M519.5 502.5L504.5 502.5M508.5 487.5L504.5 483.5M508.5 481.5L504.5 483.5M519.5 485.5L504.5 483.5M508.5 465.5L506.5 461.5M511.5 460.5L506.5 461.5M519.5 468.5L506.5 461.5M508.5 449.5L506.5 444.5M511.5 443.5L506.5 444.5M519.5 451.5L506.5 444.5M508.5 421.5L504.5 419.5M508.5 416.5L504.5 419.5M519.5 417.5L504.5 419.5M510.5 389.5L505.5 387.5M508.5 383.5L505.5 387.5M519.5 383.5L505.5 387.5M510.5 373.5L505.5 371.5M508.5 367.5L505.5 371.5M519.5 366.5L505.5 371.5M509.5 354.5L504.5 352.5M507.5 348.5L504.5 352.5M519.5 348.5L504.5 352.5M508.5 319.5L504.5 316.5M508.5 313.5L504.5 316.5M519.5 314.5L504.5 316.5M508.5 300.5L504.5 297.5M508.5 294.5L504.5 297.5M519.5 296.5L504.5 297.5M508.5 282.5L504.5 279.5M508.5 276.5L504.5 279.5M519.5 278.5L504.5 279.5M508.5 264.5L504.5 261.5M508.5 258.5L504.5 261.5M519.5 261.5L504.5 261.5M507.5 244.5L504.5 240.5M509.5 238.5L504.5 240.5M519.5 243.5L504.5 240.5M508.5 223.5L505.5 219.5M510.5 218.5L505.5 219.5M519.5 225.5L505.5 219.5M509.5 202.5L508.5 197.5M513.5 198.5L508.5 197.5M519.5 207.5L508.5 197.5M510.5 182.5L510.5 177.5M515.5 179.5L510.5 177.5M519.5 189.5L510.5 177.5M513.5 161.5L514.5 156.5M518.5 159.5L514.5 156.5M519.5 170.5L514.5 156.5M515.5 141.5L518.5 137.5M521.5 141.5L518.5 137.5M519.5 152.5L518.5 137.5M525.5 123.5L530.5 122.5M529.5 127.5L530.5 122.5M519.5 133.5L530.5 122.5M530.5 119.5L531.5 124.5M526.5 124.5L531.5 124.5M519.5 115.5L531.5 124.5M525.5 105.5L524.5 110.5M520.5 107.5L524.5 110.5M519.5 96.5L524.5 110.5M527.5 85.5L526.5 90.5M522.5 88.5L526.5 90.5M519.5 77.5L526.5 90.5M528.5 65.5L528.5 70.5M523.5 68.5L528.5 70.5M519.5 58.5L528.5 70.5M528.5 45.5L528.5 50.5M523.5 49.5L528.5 50.5M519.5 38.5L528.5 50.5M527.5 577.5L522.5 576.5M525.5 572.5L522.5 576.5M536.5 570.5L522.5 576.5M527.5 559.5L522.5 557.5M525.5 553.5L522.5 557.5M536.5 553.5L522.5 557.5M525.5 538.5L521.5 535.5M525.5 532.5L521.5 535.5M536.5 536.5L521.5 535.5M525.5 521.5L521.5 518.5M525.5 515.5L521.5 518.5M536.5 519.5L521.5 518.5M525.5 505.5L521.5 502.5M525.5 499.5L521.5 502.5M536.5 502.5L521.5 502.5M525.5 488.5L521.5 485.5M525.5 482.5L521.5 485.5M536.5 485.5L521.5 485.5M526.5 463.5L525.5 458.5M530.5 459.5L525.5 458.5M536.5 468.5L525.5 458.5M526.5 446.5L525.5 441.5M530.5 442.5L525.5 441.5M536.5 451.5L525.5 441.5M525.5 420.5L521.5 417.5M525.5 414.5L521.5 417.5M536.5 417.5L521.5 417.5M525.5 335.5L521.5 333.5M525.5 330.5L521.5 333.5M536.5 331.5L521.5 333.5M525.5 318.5L521.5 316.5M525.5 313.5L521.5 316.5M536.5 314.5L521.5 316.5M525.5 300.5L521.5 297.5M525.5 294.5L521.5 297.5M536.5 296.5L521.5 297.5M525.5 281.5L521.5 278.5M525.5 275.5L521.5 278.5M536.5 278.5L521.5 278.5M525.5 263.5L521.5 260.5M525.5 257.5L521.5 260.5M536.5 261.5L521.5 260.5M525.5 245.5L521.5 242.5M525.5 239.5L521.5 242.5M536.5 243.5L521.5 242.5M525.5 225.5L522.5 221.5M527.5 219.5L522.5 221.5M536.5 225.5L522.5 221.5M525.5 204.5L523.5 199.5M528.5 199.5L523.5 199.5M536.5 207.5L523.5 199.5M526.5 183.5L525.5 178.5M530.5 179.5L525.5 178.5M536.5 189.5L525.5 178.5M529.5 161.5L530.5 156.5M534.5 158.5L530.5 156.5M536.5 170.5L530.5 156.5M533.5 141.5L536.5 137.5M539.5 141.5L536.5 137.5M536.5 152.5L536.5 137.5M539.5 122.5L544.5 120.5M545.5 125.5L544.5 120.5M536.5 133.5L544.5 120.5M545.5 109.5L550.5 111.5M547.5 115.5L550.5 111.5M536.5 115.5L550.5 111.5M545.5 102.5L546.5 107.5M541.5 106.5L546.5 107.5M536.5 96.5L546.5 107.5M546.5 82.5L547.5 87.5M542.5 86.5L547.5 87.5M536.5 77.5L547.5 87.5M546.5 63.5L547.5 68.5M542.5 68.5L547.5 68.5M536.5 58.5L547.5 68.5M547.5 42.5L548.5 47.5M543.5 47.5L548.5 47.5M536.5 38.5L548.5 47.5M545.5 578.5L540.5 578.5M542.5 573.5L540.5 578.5M553.5 570.5L540.5 578.5M544.5 542.5L539.5 541.5M542.5 537.5L539.5 541.5M553.5 536.5L539.5 541.5M542.5 523.5L538.5 521.5M542.5 518.5L538.5 521.5M553.5 519.5L538.5 521.5M542.5 506.5L538.5 503.5M542.5 500.5L538.5 503.5M553.5 502.5L538.5 503.5M542.5 488.5L538.5 485.5M542.5 482.5L538.5 485.5M553.5 485.5L538.5 485.5M542.5 404.5L538.5 402.5M542.5 398.5L538.5 402.5M553.5 400.5L538.5 402.5M543.5 388.5L538.5 386.5M541.5 382.5L538.5 386.5M553.5 383.5L538.5 386.5M542.5 352.5L538.5 350.5M542.5 346.5L538.5 350.5M553.5 348.5L538.5 350.5M542.5 335.5L538.5 333.5M542.5 329.5L538.5 333.5M553.5 331.5L538.5 333.5M542.5 319.5L538.5 317.5M541.5 313.5L538.5 317.5M553.5 314.5L538.5 317.5M542.5 300.5L538.5 298.5M542.5 295.5L538.5 298.5M553.5 296.5L538.5 298.5M542.5 281.5L538.5 278.5M542.5 275.5L538.5 278.5M553.5 278.5L538.5 278.5M542.5 263.5L538.5 260.5M542.5 257.5L538.5 260.5M553.5 261.5L538.5 260.5M542.5 245.5L538.5 242.5M542.5 239.5L538.5 242.5M553.5 243.5L538.5 242.5M541.5 226.5L538.5 222.5M543.5 220.5L538.5 222.5M553.5 225.5L538.5 222.5M542.5 205.5L539.5 201.5M544.5 200.5L539.5 201.5M553.5 207.5L539.5 201.5M542.5 185.5L541.5 180.5M546.5 180.5L541.5 180.5M553.5 189.5L541.5 180.5M544.5 163.5L544.5 158.5M549.5 159.5L544.5 158.5M553.5 170.5L544.5 158.5M547.5 143.5L549.5 138.5M553.5 141.5L549.5 138.5M553.5 152.5L549.5 138.5M553.5 122.5L557.5 119.5M559.5 124.5L557.5 119.5M553.5 133.5L557.5 119.5M556.5 104.5L561.5 102.5M562.5 107.5L561.5 102.5M553.5 115.5L561.5 102.5M564.5 94.5L568.5 97.5M564.5 100.5L568.5 97.5M553.5 96.5L568.5 97.5M564.5 80.5L566.5 84.5M561.5 85.5L566.5 84.5M553.5 77.5L566.5 84.5M564.5 59.5L567.5 63.5M562.5 64.5L567.5 63.5M553.5 58.5L567.5 63.5M564.5 39.5L567.5 43.5M562.5 44.5L567.5 43.5M553.5 38.5L567.5 43.5M563.5 579.5L558.5 579.5M559.5 574.5L558.5 579.5M570.5 570.5L558.5 579.5M564.5 562.5L559.5 563.5M560.5 558.5L559.5 563.5M570.5 553.5L559.5 563.5M561.5 543.5L556.5 542.5M558.5 538.5L556.5 542.5M570.5 536.5L556.5 542.5M560.5 525.5L555.5 523.5M558.5 519.5L555.5 523.5M570.5 519.5L555.5 523.5M559.5 506.5L555.5 503.5M559.5 500.5L555.5 503.5M570.5 502.5L555.5 503.5M559.5 489.5L555.5 486.5M559.5 483.5L555.5 486.5M570.5 485.5L555.5 486.5M559.5 472.5L555.5 469.5M559.5 466.5L555.5 469.5M570.5 468.5L555.5 469.5M559.5 404.5L555.5 402.5M559.5 398.5L555.5 402.5M570.5 400.5L555.5 402.5M560.5 388.5L555.5 386.5M558.5 382.5L555.5 386.5M570.5 383.5L555.5 386.5M560.5 371.5L555.5 369.5M558.5 365.5L555.5 369.5M570.5 366.5L555.5 369.5M560.5 353.5L555.5 351.5M558.5 347.5L555.5 351.5M570.5 348.5L555.5 351.5M559.5 336.5L555.5 334.5M558.5 330.5L555.5 334.5M570.5 331.5L555.5 334.5M559.5 319.5L555.5 317.5M558.5 313.5L555.5 317.5M570.5 314.5L555.5 317.5M559.5 300.5L555.5 298.5M559.5 294.5L555.5 298.5M570.5 296.5L555.5 298.5M559.5 281.5L555.5 278.5M559.5 275.5L555.5 278.5M570.5 278.5L555.5 278.5M559.5 265.5L555.5 262.5M559.5 259.5L555.5 262.5M570.5 261.5L555.5 262.5M559.5 246.5L555.5 243.5M559.5 240.5L555.5 243.5M570.5 243.5L555.5 243.5M558.5 226.5L555.5 222.5M560.5 220.5L555.5 222.5M570.5 225.5L555.5 222.5M559.5 207.5L556.5 203.5M561.5 201.5L556.5 203.5M570.5 207.5L556.5 203.5M559.5 187.5L557.5 182.5M562.5 181.5L557.5 182.5M570.5 189.5L557.5 182.5M560.5 164.5L560.5 159.5M565.5 160.5L560.5 159.5M570.5 170.5L560.5 159.5M563.5 143.5L564.5 138.5M568.5 140.5L564.5 138.5M570.5 152.5L564.5 138.5M567.5 122.5L570.5 118.5M573.5 122.5L570.5 118.5M570.5 133.5L570.5 118.5M569.5 103.5L573.5 100.5M575.5 105.5L573.5 100.5M570.5 115.5L573.5 100.5M577.5 87.5L582.5 87.5M580.5 92.5L582.5 87.5M570.5 96.5L582.5 87.5M581.5 74.5L585.5 77.5M581.5 80.5L585.5 77.5M570.5 77.5L585.5 77.5M581.5 56.5L585.5 59.5M581.5 62.5L585.5 59.5M570.5 58.5L585.5 59.5M581.5 36.5L585.5 39.5M581.5 42.5L585.5 39.5M570.5 38.5L585.5 39.5M581.5 580.5L576.5 580.5M577.5 575.5L576.5 580.5M587.5 570.5L576.5 580.5M581.5 563.5L576.5 564.5M577.5 559.5L576.5 564.5M587.5 553.5L576.5 564.5M579.5 544.5L574.5 543.5M576.5 539.5L574.5 543.5M587.5 536.5L574.5 543.5M576.5 523.5L572.5 521.5M576.5 518.5L572.5 521.5M587.5 519.5L572.5 521.5M576.5 506.5L572.5 504.5M576.5 501.5L572.5 504.5M587.5 502.5L572.5 504.5M576.5 490.5L572.5 487.5M576.5 484.5L572.5 487.5M587.5 485.5L572.5 487.5M576.5 472.5L572.5 470.5M576.5 467.5L572.5 470.5M587.5 468.5L572.5 470.5M576.5 455.5L572.5 453.5M576.5 449.5L572.5 453.5M587.5 451.5L572.5 453.5M576.5 438.5L572.5 436.5M576.5 432.5L572.5 436.5M587.5 434.5L572.5 436.5M576.5 421.5L572.5 419.5M576.5 415.5L572.5 419.5M587.5 417.5L572.5 419.5M577.5 405.5L572.5 403.5M575.5 399.5L572.5 403.5M587.5 400.5L572.5 403.5M577.5 388.5L572.5 386.5M575.5 382.5L572.5 386.5M587.5 383.5L572.5 386.5M577.5 371.5L572.5 369.5M575.5 365.5L572.5 369.5M587.5 366.5L572.5 369.5M577.5 353.5L572.5 351.5M575.5 347.5L572.5 351.5M587.5 348.5L572.5 351.5M577.5 336.5L572.5 334.5M575.5 330.5L572.5 334.5M587.5 331.5L572.5 334.5M577.5 319.5L572.5 317.5M575.5 313.5L572.5 317.5M587.5 314.5L572.5 317.5M576.5 300.5L572.5 298.5M576.5 294.5L572.5 298.5M587.5 296.5L572.5 298.5M576.5 281.5L572.5 278.5M576.5 275.5L572.5 278.5M587.5 278.5L572.5 278.5M576.5 264.5L572.5 261.5M576.5 258.5L572.5 261.5M587.5 261.5L572.5 261.5M576.5 245.5L572.5 242.5M576.5 239.5L572.5 242.5M587.5 243.5L572.5 242.5M576.5 226.5L572.5 223.5M576.5 221.5L572.5 223.5M587.5 225.5L572.5 223.5M576.5 207.5L573.5 203.5M578.5 201.5L573.5 203.5M587.5 207.5L573.5 203.5M576.5 186.5L574.5 181.5M579.5 180.5L574.5 181.5M587.5 189.5L574.5 181.5M576.5 166.5L575.5 161.5M580.5 161.5L575.5 161.5M587.5 170.5L575.5 161.5M578.5 145.5L578.5 140.5M583.5 141.5L578.5 140.5M587.5 152.5L578.5 140.5M582.5 123.5L584.5 118.5M588.5 121.5L584.5 118.5M587.5 133.5L584.5 118.5M585.5 104.5L588.5 100.5M591.5 104.5L588.5 100.5M587.5 115.5L588.5 100.5M589.5 84.5L593.5 82.5M594.5 87.5L593.5 82.5M587.5 96.5L593.5 82.5M594.5 68.5L599.5 68.5M597.5 73.5L599.5 68.5M587.5 77.5L599.5 68.5M596.5 52.5L601.5 54.5M598.5 58.5L601.5 54.5M587.5 58.5L601.5 54.5M596.5 32.5L601.5 34.5M598.5 38.5L601.5 34.5M587.5 38.5L601.5 34.5M596.5 578.5L591.5 577.5M593.5 573.5L591.5 577.5M604.5 570.5L591.5 577.5M595.5 543.5L590.5 541.5M593.5 537.5L590.5 541.5M604.5 536.5L590.5 541.5M594.5 524.5L589.5 522.5M592.5 518.5L589.5 522.5M604.5 519.5L589.5 522.5M593.5 506.5L589.5 504.5M593.5 501.5L589.5 504.5M604.5 502.5L589.5 504.5M593.5 489.5L589.5 487.5M593.5 484.5L589.5 487.5M604.5 485.5L589.5 487.5M593.5 472.5L589.5 470.5M593.5 467.5L589.5 470.5M604.5 468.5L589.5 470.5M593.5 455.5L589.5 453.5M593.5 449.5L589.5 453.5M604.5 451.5L589.5 453.5M593.5 438.5L589.5 436.5M593.5 432.5L589.5 436.5M604.5 434.5L589.5 436.5M593.5 422.5L589.5 420.5M592.5 416.5L589.5 420.5M604.5 417.5L589.5 420.5M594.5 405.5L589.5 403.5M592.5 399.5L589.5 403.5M604.5 400.5L589.5 403.5M594.5 388.5L589.5 386.5M592.5 382.5L589.5 386.5M604.5 383.5L589.5 386.5M594.5 371.5L589.5 369.5M592.5 365.5L589.5 369.5M604.5 366.5L589.5 369.5M594.5 353.5L589.5 351.5M592.5 347.5L589.5 351.5M604.5 348.5L589.5 351.5M594.5 336.5L589.5 334.5M592.5 330.5L589.5 334.5M604.5 331.5L589.5 334.5M594.5 319.5L589.5 317.5M592.5 313.5L589.5 317.5M604.5 314.5L589.5 317.5M594.5 301.5L589.5 299.5M592.5 295.5L589.5 299.5M604.5 296.5L589.5 299.5M593.5 282.5L589.5 279.5M593.5 276.5L589.5 279.5M604.5 278.5L589.5 279.5M593.5 264.5L589.5 261.5M593.5 258.5L589.5 261.5M604.5 261.5L589.5 261.5M593.5 244.5L589.5 241.5M593.5 239.5L589.5 241.5M604.5 243.5L589.5 241.5M592.5 226.5L589.5 222.5M594.5 220.5L589.5 222.5M604.5 225.5L589.5 222.5M592.5 208.5L589.5 204.5M594.5 202.5L589.5 204.5M604.5 207.5L589.5 204.5M593.5 188.5L590.5 184.5M595.5 183.5L590.5 184.5M604.5 189.5L590.5 184.5M593.5 168.5L591.5 163.5M596.5 162.5L591.5 163.5M604.5 170.5L591.5 163.5M594.5 147.5L593.5 142.5M598.5 142.5L593.5 142.5M604.5 152.5L593.5 142.5M596.5 125.5L597.5 120.5M601.5 122.5L597.5 120.5M604.5 133.5L597.5 120.5M601.5 104.5L604.5 100.5M607.5 104.5L604.5 100.5M604.5 115.5L604.5 100.5M607.5 85.5L611.5 83.5M612.5 88.5L611.5 83.5M604.5 96.5L611.5 83.5M607.5 66.5L612.5 64.5M613.5 69.5L612.5 64.5M604.5 77.5L612.5 64.5M612.5 50.5L617.5 50.5M615.5 55.5L617.5 50.5M604.5 58.5L617.5 50.5M611.5 29.5L616.5 29.5M614.5 34.5L616.5 29.5M604.5 38.5L616.5 29.5M611.5 576.5L606.5 574.5M609.5 570.5L606.5 574.5M620.5 570.5L606.5 574.5M611.5 559.5L606.5 557.5M609.5 553.5L606.5 557.5M620.5 553.5L606.5 557.5M609.5 540.5L605.5 538.5M609.5 534.5L605.5 538.5M620.5 536.5L605.5 538.5M609.5 523.5L605.5 521.5M609.5 517.5L605.5 521.5M620.5 519.5L605.5 521.5M609.5 506.5L605.5 504.5M609.5 500.5L605.5 504.5M620.5 502.5L605.5 504.5M609.5 489.5L605.5 487.5M609.5 484.5L605.5 487.5M620.5 485.5L605.5 487.5M609.5 472.5L605.5 470.5M609.5 466.5L605.5 470.5M620.5 468.5L605.5 470.5M609.5 455.5L605.5 453.5M609.5 449.5L605.5 453.5M620.5 451.5L605.5 453.5M609.5 438.5L605.5 436.5M609.5 432.5L605.5 436.5M620.5 434.5L605.5 436.5M610.5 422.5L605.5 420.5M608.5 416.5L605.5 420.5M620.5 417.5L605.5 420.5M610.5 405.5L605.5 403.5M608.5 399.5L605.5 403.5M620.5 400.5L605.5 403.5M610.5 388.5L605.5 386.5M608.5 382.5L605.5 386.5M620.5 383.5L605.5 386.5M610.5 371.5L605.5 369.5M608.5 365.5L605.5 369.5M620.5 366.5L605.5 369.5M610.5 353.5L605.5 351.5M608.5 347.5L605.5 351.5M620.5 348.5L605.5 351.5M610.5 336.5L605.5 334.5M608.5 330.5L605.5 334.5M620.5 331.5L605.5 334.5M610.5 319.5L605.5 317.5M608.5 313.5L605.5 317.5M620.5 314.5L605.5 317.5M609.5 300.5L605.5 298.5M609.5 294.5L605.5 298.5M620.5 296.5L605.5 298.5M609.5 282.5L605.5 279.5M609.5 276.5L605.5 279.5M620.5 278.5L605.5 279.5M609.5 265.5L605.5 262.5M609.5 259.5L605.5 262.5M620.5 261.5L605.5 262.5M609.5 246.5L605.5 243.5M609.5 240.5L605.5 243.5M620.5 243.5L605.5 243.5M609.5 226.5L605.5 223.5M609.5 221.5L605.5 223.5M620.5 225.5L605.5 223.5M608.5 208.5L605.5 204.5M610.5 202.5L605.5 204.5M620.5 207.5L605.5 204.5M609.5 187.5L606.5 183.5M611.5 182.5L606.5 183.5M620.5 189.5L606.5 183.5M608.5 168.5L606.5 164.5M611.5 163.5L606.5 164.5M620.5 170.5L606.5 164.5M609.5 149.5L607.5 144.5M612.5 144.5L607.5 144.5M620.5 152.5L607.5 144.5M612.5 125.5L613.5 120.5M618.5 122.5L613.5 120.5M620.5 133.5L613.5 120.5M616.5 104.5L618.5 100.5M621.5 104.5L618.5 100.5M620.5 115.5L618.5 100.5M617.5 85.5L620.5 81.5M623.5 85.5L620.5 81.5M620.5 96.5L620.5 81.5M621.5 66.5L625.5 63.5M626.5 68.5L625.5 63.5M620.5 77.5L625.5 63.5M623.5 47.5L628.5 45.5M629.5 50.5L628.5 45.5M620.5 58.5L628.5 45.5M624.5 28.5L629.5 26.5M629.5 31.5L629.5 26.5M620.5 38.5L629.5 26.5M627.5 575.5L622.5 573.5M625.5 569.5L622.5 573.5M637.5 570.5L622.5 573.5M627.5 558.5L622.5 556.5M625.5 552.5L622.5 556.5M637.5 553.5L622.5 556.5M626.5 540.5L622.5 538.5M626.5 534.5L622.5 538.5M637.5 536.5L622.5 538.5M626.5 523.5L622.5 521.5M626.5 517.5L622.5 521.5M637.5 519.5L622.5 521.5M626.5 506.5L622.5 504.5M626.5 500.5L622.5 504.5M637.5 502.5L622.5 504.5M626.5 489.5L622.5 487.5M626.5 484.5L622.5 487.5M637.5 485.5L622.5 487.5M626.5 472.5L622.5 470.5M626.5 466.5L622.5 470.5M637.5 468.5L622.5 470.5M626.5 455.5L622.5 453.5M626.5 449.5L622.5 453.5M637.5 451.5L622.5 453.5M627.5 439.5L622.5 437.5M625.5 433.5L622.5 437.5M637.5 434.5L622.5 437.5M627.5 422.5L622.5 420.5M625.5 416.5L622.5 420.5M637.5 417.5L622.5 420.5M627.5 405.5L622.5 403.5M625.5 399.5L622.5 403.5M637.5 400.5L622.5 403.5M627.5 389.5L622.5 387.5M625.5 383.5L622.5 387.5M637.5 383.5L622.5 387.5M627.5 372.5L622.5 370.5M625.5 366.5L622.5 370.5M637.5 366.5L622.5 370.5M627.5 354.5L622.5 352.5M625.5 348.5L622.5 352.5M637.5 348.5L622.5 352.5M627.5 337.5L622.5 335.5M625.5 331.5L622.5 335.5M637.5 331.5L622.5 335.5M627.5 320.5L622.5 318.5M625.5 314.5L622.5 318.5M637.5 314.5L622.5 318.5M626.5 300.5L622.5 298.5M626.5 295.5L622.5 298.5M637.5 296.5L622.5 298.5M626.5 283.5L622.5 280.5M626.5 277.5L622.5 280.5M637.5 278.5L622.5 280.5M626.5 265.5L622.5 262.5M626.5 259.5L622.5 262.5M637.5 261.5L622.5 262.5M626.5 247.5L622.5 244.5M626.5 241.5L622.5 244.5M637.5 243.5L622.5 244.5M626.5 227.5L622.5 224.5M626.5 221.5L622.5 224.5M637.5 225.5L622.5 224.5M625.5 208.5L622.5 204.5M626.5 202.5L622.5 204.5M637.5 207.5L622.5 204.5M626.5 188.5L623.5 184.5M628.5 182.5L623.5 184.5M637.5 189.5L623.5 184.5M626.5 167.5L624.5 163.5M629.5 162.5L624.5 163.5M637.5 170.5L624.5 163.5M627.5 148.5L625.5 143.5M630.5 143.5L625.5 143.5M637.5 152.5L625.5 143.5M629.5 125.5L629.5 120.5M634.5 122.5L629.5 120.5M637.5 133.5L629.5 120.5M631.5 106.5L633.5 101.5M637.5 104.5L633.5 101.5M637.5 115.5L633.5 101.5M633.5 85.5L636.5 81.5M639.5 85.5L636.5 81.5M637.5 96.5L636.5 81.5M637.5 66.5L641.5 63.5M643.5 68.5L641.5 63.5M637.5 77.5L641.5 63.5M640.5 47.5L644.5 45.5M645.5 50.5L644.5 45.5M637.5 58.5L644.5 45.5M640.5 27.5L645.5 25.5M645.5 30.5L645.5 25.5M637.5 38.5L645.5 25.5" stroke="#000080" stroke-width="0.8" stroke-linecap="square" fill="none"/>
<path d="M117.5 393.5L118.5 395.7L119.9 393.2ZM119.5 372.5L119.9 374.9L121.9 372.9ZM124.5 352.5L124.0 354.9L126.6 353.7ZM132.5 428.5L133.7 430.6L134.9 428.0ZM134.5 408.5L135.2 410.8L136.9 408.5ZM134.5 391.5L135.2 393.8L136.9 391.5ZM136.5 372.5L136.8 374.9L138.9 373.0ZM141.5 352.5L140.8 354.8L143.5 353.8ZM149.5 447.5L150.9 449.4L151.8 446.7ZM149.5 429.5L150.8 431.5L151.8 428.9ZM151.5 408.5L152.2 410.8L153.9 408.5ZM152.5 390.5L152.9 392.9L154.9 390.8ZM154.5 371.5L154.5 373.9L156.8 372.3ZM155.5 353.5L155.3 355.9L157.7 354.4ZM165.5 470.5L167.6 471.6L167.2 468.8ZM165.5 450.5L167.4 452.0L167.5 449.2ZM166.5 429.5L167.9 431.4L168.8 428.8ZM169.5 407.5L170.1 409.8L171.9 407.7ZM172.5 387.5L172.3 389.9L174.7 388.4ZM171.5 371.5L171.6 373.9L173.8 372.2ZM186.5 529.5L188.9 529.3L187.1 527.2ZM185.5 511.5L187.9 511.5L186.3 509.2ZM184.5 493.5L186.9 493.7L185.4 491.3ZM183.5 474.5L185.8 475.0L184.7 472.4ZM182.5 453.5L184.6 454.7L184.3 451.9ZM182.5 430.5L184.0 432.3L184.7 429.6ZM184.5 410.5L185.6 412.7L186.9 410.2ZM185.5 391.5L186.2 393.8L187.9 391.6ZM203.5 581.5L205.9 581.1L203.9 579.1ZM203.5 564.5L205.9 564.1L203.9 562.1ZM203.5 547.5L205.9 547.1L203.9 545.1ZM203.5 529.5L205.9 529.2L203.9 527.1ZM203.5 512.5L205.9 512.2L204.0 510.2ZM202.5 494.5L204.9 494.5L203.3 492.2ZM201.5 475.5L203.9 475.9L202.6 473.4ZM200.5 457.5L202.8 458.1L201.8 455.5ZM199.5 431.5L201.1 433.3L201.7 430.5ZM220.5 581.5L222.9 581.1L220.9 579.1ZM220.5 563.5L222.9 563.2L220.9 561.1ZM220.5 546.5L222.9 546.2L220.9 544.1ZM220.5 529.5L222.9 529.2L220.9 527.1ZM220.5 512.5L222.9 512.2L220.9 510.1ZM220.5 495.5L222.9 495.2L221.0 493.2ZM219.5 477.5L221.9 477.4L220.2 475.2ZM218.5 458.5L220.9 458.8L219.5 456.3ZM218.5 441.5L220.9 441.8L219.5 439.3ZM217.5 423.5L219.8 424.0L218.7 421.4ZM220.5 233.5L220.9 235.9L222.9 233.8ZM238.5 581.5L240.8 580.9L238.7 579.1ZM238.5 564.5L240.8 563.9L238.7 562.1ZM238.5 547.5L240.8 547.0L238.7 545.1ZM238.5 530.5L240.9 530.1L238.8 528.1ZM237.5 513.5L239.9 513.1L237.9 511.1ZM237.5 495.5L239.9 495.2L238.0 493.1ZM236.5 478.5L238.9 478.3L237.1 476.2ZM237.5 461.5L239.9 461.3L238.1 459.2ZM235.5 442.5L237.9 442.7L236.4 440.3ZM234.5 423.5L236.8 424.0L235.7 421.4ZM234.5 406.5L236.8 407.0L235.7 404.4ZM234.5 255.5L235.7 257.6L236.8 255.0ZM237.5 233.5L237.9 235.9L239.9 233.8ZM236.5 216.5L237.3 218.8L238.9 216.5ZM256.5 582.5L258.8 581.8L256.5 580.1ZM257.5 565.5L259.8 564.7L257.4 563.1ZM256.5 548.5L258.8 547.8L256.6 546.1ZM255.5 530.5L257.8 530.0L255.8 528.1ZM254.5 496.5L256.9 496.1L254.9 494.1ZM254.5 479.5L256.9 479.1L254.9 477.1ZM255.5 462.5L257.9 462.1L255.8 460.1ZM254.5 444.5L256.9 444.3L255.1 442.2ZM252.5 425.5L254.9 425.8L253.5 423.3ZM251.5 406.5L253.8 407.0L252.7 404.4ZM250.5 277.5L252.3 279.1L252.6 276.3ZM251.5 256.5L252.8 258.5L253.8 255.8ZM256.5 231.5L256.6 233.9L258.8 232.2ZM252.5 218.5L253.5 220.7L254.9 218.2ZM250.5 204.5L252.1 206.3L252.7 203.5ZM273.5 582.5L275.8 581.8L273.5 580.1ZM274.5 549.5L276.7 548.6L274.3 547.1ZM274.5 531.5L276.8 530.7L274.4 529.1ZM273.5 514.5L275.8 513.8L273.5 512.1ZM273.5 497.5L275.8 496.9L273.6 495.1ZM272.5 479.5L274.8 478.9L272.7 477.1ZM272.5 462.5L274.9 462.0L272.8 460.1ZM271.5 444.5L273.9 444.2L271.9 442.1ZM270.5 426.5L272.9 426.4L271.1 424.2ZM269.5 408.5L271.9 408.7L270.4 406.3ZM270.5 391.5L272.9 391.6L271.3 389.2ZM268.5 301.5L270.8 302.2L269.8 299.5ZM267.5 280.5L269.6 281.6L269.2 278.8ZM267.5 262.5L269.6 263.7L269.3 260.9ZM268.5 221.5L270.0 223.4L270.7 220.6ZM267.5 204.5L269.1 206.3L269.7 203.5ZM292.5 549.5L294.7 548.5L292.2 547.1ZM293.5 533.5L295.6 532.3L293.0 531.2ZM292.5 515.5L294.7 514.5L292.2 513.1ZM291.5 498.5L293.7 497.6L291.3 496.1ZM291.5 480.5L293.8 479.7L291.4 478.1ZM290.5 463.5L292.8 462.8L290.5 461.1ZM289.5 445.5L291.8 445.0L289.8 443.1ZM288.5 427.5L290.9 427.2L289.0 425.1ZM288.5 410.5L290.9 410.2L288.9 408.1ZM288.5 393.5L290.9 393.2L289.0 391.1ZM288.5 377.5L290.9 377.1L288.9 375.1ZM288.5 358.5L290.9 358.3L289.0 356.2ZM287.5 340.5L289.9 340.4L288.2 338.2ZM286.5 321.5L288.9 321.8L287.5 319.3ZM285.5 302.5L287.9 303.0L286.7 300.4ZM285.5 283.5L287.8 284.2L286.9 281.5ZM284.5 263.5L286.6 264.6L286.2 261.8ZM284.5 225.5L286.4 226.9L286.5 224.1ZM309.5 549.5L311.7 548.5L309.2 547.1ZM309.5 532.5L311.6 531.4L309.1 530.1ZM309.5 515.5L311.6 514.4L309.1 513.1ZM308.5 498.5L310.7 497.5L308.3 496.1ZM308.5 481.5L310.7 480.7L308.4 479.1ZM307.5 463.5L309.8 462.8L307.5 461.1ZM306.5 446.5L308.8 445.9L306.6 444.1ZM306.5 428.5L308.9 428.0L306.8 426.1ZM306.5 411.5L308.9 411.1L306.8 409.1ZM305.5 394.5L307.9 394.1L305.9 392.1ZM305.5 377.5L307.9 377.1L305.9 375.1ZM305.5 358.5L307.9 358.3L306.0 356.2ZM304.5 340.5L306.9 340.4L305.1 338.2ZM303.5 322.5L305.9 322.7L304.4 320.3ZM302.5 302.5L304.9 302.9L303.6 300.4ZM302.5 284.5L304.8 285.1L303.8 282.5ZM302.5 266.5L304.8 267.1L303.8 264.5ZM302.5 248.5L304.8 249.2L303.8 246.5ZM301.5 228.5L303.7 229.5L303.1 226.7ZM301.5 209.5L303.6 210.7L303.3 207.9ZM326.5 532.5L328.7 531.5L326.2 530.1ZM326.5 515.5L328.6 514.4L326.1 513.1ZM326.5 498.5L328.7 497.4L326.2 496.1ZM325.5 481.5L327.7 480.6L325.3 479.1ZM325.5 463.5L327.8 462.7L325.4 461.1ZM324.5 446.5L326.8 445.8L324.5 444.1ZM324.5 429.5L326.8 428.9L324.6 427.1ZM323.5 411.5L325.8 410.9L323.7 409.1ZM323.5 394.5L325.8 394.0L323.8 392.1ZM323.5 377.5L325.9 377.0L323.8 375.1ZM322.5 358.5L324.9 358.2L322.9 356.1ZM322.5 341.5L324.9 341.2L323.0 339.2ZM321.5 323.5L323.9 323.5L322.2 321.2ZM320.5 304.5L322.9 304.7L321.4 302.3ZM320.5 285.5L322.9 285.9L321.6 283.4ZM319.5 267.5L321.9 268.0L320.7 265.4ZM319.5 248.5L321.8 249.1L320.8 246.5ZM319.5 229.5L321.7 230.4L321.0 227.6ZM318.5 207.5L320.4 208.9L320.4 206.1ZM342.5 515.5L344.7 514.6L342.3 513.1ZM341.5 497.5L343.8 496.7L341.5 495.1ZM341.5 480.5L343.8 479.8L341.5 478.1ZM341.5 463.5L343.8 462.8L341.5 461.1ZM341.5 446.5L343.8 445.8L341.6 444.1ZM341.5 429.5L343.8 428.9L341.6 427.1ZM341.5 412.5L343.8 411.9L341.6 410.1ZM340.5 394.5L342.8 394.0L340.7 392.1ZM340.5 377.5L342.8 377.0L340.7 375.1ZM340.5 359.5L342.9 359.1L340.8 357.1ZM339.5 341.5L341.9 341.2L339.9 339.1ZM338.5 324.5L340.9 324.3L339.1 322.2ZM338.5 305.5L340.9 305.5L339.3 303.2ZM338.5 286.5L340.9 286.6L339.3 284.2ZM337.5 269.5L339.9 269.8L338.5 267.3ZM337.5 250.5L339.9 250.9L338.6 248.4ZM336.5 229.5L338.8 230.3L337.9 227.6ZM335.5 208.5L337.6 209.7L337.3 206.9ZM357.5 497.5L359.8 496.9L357.7 495.1ZM356.5 479.5L358.9 479.1L356.9 477.1ZM358.5 463.5L360.8 462.9L358.6 461.1ZM358.5 446.5L360.8 445.8L358.5 444.1ZM358.5 429.5L360.8 428.8L358.6 427.1ZM358.5 412.5L360.8 411.8L358.5 410.1ZM358.5 395.5L360.8 394.9L358.6 393.1ZM357.5 377.5L359.8 376.9L357.7 375.1ZM357.5 359.5L359.8 359.0L357.7 357.1ZM357.5 342.5L359.8 342.0L357.8 340.1ZM356.5 325.5L358.9 325.1L356.9 323.1ZM356.5 306.5L358.9 306.2L356.9 304.1ZM356.5 288.5L358.9 288.2L357.0 286.2ZM355.5 270.5L357.9 270.4L356.1 268.2ZM354.5 250.5L356.9 250.9L355.6 248.4ZM353.5 230.5L355.8 231.1L354.8 228.5ZM352.5 210.5L354.7 211.5L354.1 208.7ZM352.5 192.5L354.7 193.5L354.1 190.7ZM372.5 478.5L374.9 478.2L372.9 476.1ZM372.5 461.5L374.9 461.2L372.9 459.1ZM373.5 445.5L375.9 445.1L373.9 443.1ZM373.5 428.5L375.8 428.0L373.8 426.1ZM374.5 412.5L376.8 411.8L374.6 410.1ZM374.5 395.5L376.8 394.9L374.6 393.1ZM374.5 378.5L376.8 377.8L374.6 376.1ZM373.5 360.5L375.8 359.9L373.6 358.1ZM373.5 342.5L375.8 341.9L373.7 340.1ZM373.5 325.5L375.8 325.0L373.7 323.1ZM372.5 306.5L374.9 306.2L372.9 304.1ZM372.5 288.5L374.9 288.3L373.1 286.2ZM371.5 270.5L373.9 270.4L372.2 268.2ZM370.5 251.5L372.9 251.7L371.4 249.3ZM369.5 231.5L371.9 232.0L370.7 229.4ZM369.5 211.5L371.8 212.3L371.0 209.6ZM368.5 192.5L370.7 193.4L370.1 190.7ZM388.5 477.5L390.9 477.6L389.3 475.2ZM388.5 460.5L390.9 460.5L389.3 458.2ZM389.5 444.5L391.9 444.3L390.1 442.2ZM389.5 428.5L391.9 428.1L389.9 426.1ZM391.5 412.5L393.8 411.7L391.5 410.1ZM391.5 395.5L393.8 394.8L391.6 393.1ZM392.5 379.5L394.7 378.6L392.4 377.1ZM391.5 360.5L393.8 359.7L391.5 358.1ZM391.5 343.5L393.8 342.7L391.5 341.1ZM391.5 326.5L393.8 325.9L391.6 324.1ZM390.5 307.5L392.8 306.9L390.7 305.1ZM390.5 289.5L392.8 289.0L390.7 287.1ZM389.5 271.5L391.9 271.2L390.0 269.1ZM388.5 251.5L390.9 251.6L389.3 249.2ZM386.5 231.5L388.9 232.0L387.7 229.4ZM386.5 211.5L388.8 212.3L388.0 209.6ZM385.5 191.5L387.6 192.7L387.3 189.9ZM406.5 428.5L408.9 428.1L406.9 426.1ZM407.5 411.5L409.9 411.0L407.8 409.1ZM407.5 394.5L409.9 394.0L407.8 392.1ZM408.5 378.5L410.8 377.7L408.5 376.1ZM409.5 360.5L411.8 359.7L409.4 358.1ZM409.5 343.5L411.8 342.7L409.4 341.1ZM408.5 326.5L410.8 325.8L408.6 324.1ZM407.5 307.5L409.8 307.0L407.7 305.1ZM408.5 290.5L410.8 289.9L408.6 288.1ZM407.5 272.5L409.9 272.1L407.8 270.1ZM405.5 252.5L407.9 252.5L406.2 250.2ZM404.5 233.5L406.9 233.8L405.5 231.3ZM403.5 212.5L405.8 213.2L404.9 210.5ZM403.5 193.5L405.7 194.4L405.0 191.6ZM402.5 173.5L404.7 174.5L404.1 171.7ZM419.5 570.5L421.5 571.9L421.4 569.1ZM419.5 520.5L421.5 521.8L421.4 519.0ZM419.5 502.5L421.5 503.9L421.4 501.0ZM420.5 473.5L422.8 474.2L421.9 471.6ZM420.5 456.5L422.8 457.2L421.8 454.5ZM420.5 440.5L422.8 441.1L421.8 438.5ZM423.5 410.5L425.9 410.3L424.0 408.2ZM425.5 395.5L427.8 394.8L425.5 393.1ZM428.5 380.5L430.6 379.3L428.0 378.1ZM427.5 361.5L429.7 360.5L427.2 359.1ZM427.5 344.5L429.7 343.5L427.2 342.1ZM425.5 326.5L427.8 325.8L425.5 324.1ZM424.5 307.5L426.8 307.0L424.8 305.1ZM423.5 289.5L425.9 289.1L423.9 287.1ZM422.5 270.5L424.9 270.5L423.3 268.2ZM421.5 251.5L423.9 251.7L422.5 249.3ZM420.5 231.5L422.8 232.0L421.7 229.4ZM420.5 212.5L422.8 213.2L421.8 210.5ZM420.5 194.5L422.8 195.2L421.9 192.6ZM419.5 172.5L421.6 173.6L421.2 170.8ZM419.5 153.5L421.5 154.8L421.3 152.0ZM436.5 570.5L438.4 571.9L438.4 569.1ZM436.5 553.5L438.4 554.9L438.4 552.1ZM436.5 535.5L438.3 537.0L438.5 534.2ZM436.5 519.5L438.4 520.9L438.4 518.1ZM436.5 502.5L438.4 503.9L438.4 501.1ZM436.5 485.5L438.4 486.9L438.4 484.1ZM437.5 473.5L439.8 474.2L438.8 471.5ZM437.5 457.5L439.8 458.1L438.8 455.5ZM437.5 439.5L439.8 440.2L438.8 437.5ZM437.5 422.5L439.8 423.2L438.8 420.5ZM444.5 396.5L446.7 395.5L444.2 394.1ZM444.5 379.5L446.6 378.4L444.1 377.1ZM442.5 360.5L444.8 359.8L442.5 358.1ZM439.5 340.5L441.9 340.5L440.2 338.2ZM440.5 325.5L442.9 325.1L440.9 323.1ZM441.5 307.5L443.8 307.0L441.8 305.1ZM440.5 288.5L442.9 288.2L441.0 286.1ZM438.5 269.5L440.9 269.7L439.4 267.3ZM436.5 246.5L438.7 247.5L438.1 244.7ZM436.5 224.5L438.4 226.0L438.5 223.2ZM436.5 205.5L438.2 207.2L438.6 204.4ZM436.5 186.5L438.1 188.3L438.7 185.5ZM436.5 170.5L438.4 171.9L438.4 169.1ZM436.5 152.5L438.4 153.9L438.4 151.1ZM436.5 135.5L438.6 136.6L438.2 133.8ZM453.5 553.5L455.4 554.9L455.4 552.1ZM453.5 534.5L455.3 536.1L455.6 533.3ZM453.5 519.5L455.4 520.9L455.4 518.1ZM453.5 502.5L455.4 503.9L455.4 501.1ZM454.5 472.5L456.7 473.4L456.0 470.6ZM454.5 457.5L456.8 458.1L455.8 455.5ZM454.5 439.5L456.8 440.2L455.8 437.5ZM454.5 421.5L456.8 422.3L456.0 419.6ZM455.5 407.5L457.9 407.8L456.5 405.3ZM454.5 389.5L456.8 390.0L455.7 387.4ZM455.5 356.5L457.9 356.8L456.5 354.3ZM454.5 335.5L456.8 336.3L455.9 333.6ZM457.5 289.5L459.9 289.1L457.9 287.1ZM454.5 266.5L456.8 267.2L455.8 264.5ZM453.5 240.5L455.1 242.3L455.7 239.5ZM454.5 219.5L455.7 221.6L456.8 219.0ZM455.5 199.5L456.4 201.7L457.9 199.4ZM458.5 178.5L458.7 180.9L460.8 179.1ZM470.5 570.5L472.4 571.9L472.4 569.1ZM470.5 535.5L472.3 537.0L472.5 534.2ZM470.5 519.5L472.4 521.0L472.5 518.1ZM470.5 502.5L472.4 503.9L472.4 501.1ZM470.5 486.5L472.5 487.8L472.4 485.0ZM470.5 471.5L472.7 472.4L472.1 469.7ZM471.5 457.5L473.8 458.1L472.8 455.5ZM471.5 439.5L473.8 440.2L472.9 437.6ZM470.5 420.5L472.7 421.5L472.1 418.7ZM471.5 405.5L473.8 406.2L472.9 403.5ZM471.5 389.5L473.8 390.0L472.7 387.4ZM472.5 373.5L474.9 373.9L473.6 371.4ZM472.5 236.5L473.5 238.7L474.9 236.2ZM471.5 219.5L472.7 221.6L473.8 219.0ZM474.5 197.5L475.0 199.8L476.9 197.7ZM475.5 178.5L475.8 180.9L477.9 178.9ZM495.5 144.5L495.2 142.1L493.1 144.0ZM500.5 117.5L498.7 115.9L498.4 118.7ZM473.5 105.5L475.9 105.5L474.2 103.2ZM487.5 570.5L489.5 571.9L489.4 569.0ZM487.5 552.5L489.3 554.0L489.5 551.2ZM487.5 534.5L489.3 536.1L489.6 533.3ZM487.5 518.5L489.4 520.0L489.5 517.2ZM487.5 502.5L489.4 503.9L489.4 501.1ZM487.5 485.5L489.4 486.9L489.4 484.1ZM487.5 466.5L489.2 468.2L489.6 465.4ZM487.5 437.5L489.7 438.6L489.2 435.8ZM487.5 418.5L489.5 419.8L489.3 417.0ZM488.5 404.5L490.7 405.4L490.0 402.6ZM488.5 372.5L490.8 373.0L489.7 370.4ZM488.5 354.5L490.8 355.0L489.7 352.4ZM488.5 238.5L489.8 240.5L490.8 237.9ZM489.5 218.5L490.5 220.7L491.9 218.2ZM492.5 196.5L492.8 198.9L494.8 197.0ZM494.5 176.5L494.4 178.9L496.7 177.4ZM496.5 156.5L495.9 158.8L498.5 157.8ZM499.5 137.5L498.4 139.7L501.2 139.2ZM517.5 117.5L515.7 115.9L515.4 118.7ZM500.5 111.5L502.1 109.7L499.3 109.4ZM503.5 92.5L504.8 90.5L502.0 90.6ZM508.5 72.5L509.0 70.1L506.4 71.3ZM504.5 572.5L506.6 573.6L506.2 570.8ZM504.5 553.5L506.5 554.9L506.4 552.0ZM504.5 535.5L506.4 537.0L506.5 534.2ZM504.5 519.5L506.4 521.0L506.5 518.1ZM504.5 502.5L506.4 503.9L506.5 501.1ZM504.5 483.5L506.2 485.2L506.6 482.4ZM506.5 461.5L507.6 463.6L508.9 461.1ZM506.5 444.5L507.5 446.7L508.9 444.2ZM504.5 419.5L506.6 420.7L506.3 417.9ZM505.5 387.5L507.8 388.3L507.0 385.6ZM505.5 371.5L507.8 372.3L506.9 369.6ZM504.5 352.5L506.7 353.4L506.0 350.7ZM504.5 316.5L506.6 317.7L506.3 314.9ZM504.5 297.5L506.5 298.8L506.4 296.0ZM504.5 279.5L506.5 280.8L506.4 278.0ZM504.5 261.5L506.4 262.9L506.4 260.1ZM504.5 240.5L506.1 242.3L506.7 239.5ZM505.5 219.5L506.7 221.6L507.8 219.0ZM508.5 197.5L509.0 199.8L510.9 197.8ZM510.5 177.5L510.5 179.9L512.8 178.3ZM514.5 156.5L513.8 158.8L516.5 157.8ZM518.5 137.5L517.3 139.6L520.1 139.3ZM530.5 122.5L528.1 122.9L530.1 124.9ZM531.5 124.5L530.8 122.2L529.1 124.4ZM524.5 110.5L525.1 108.2L522.5 109.2ZM526.5 90.5L526.9 88.1L524.4 89.4ZM528.5 70.5L528.5 68.1L526.2 69.8ZM528.5 50.5L528.4 48.1L526.2 49.8ZM522.5 576.5L524.8 577.0L523.7 574.4ZM522.5 557.5L524.7 558.3L524.0 555.6ZM521.5 535.5L523.3 537.0L523.5 534.2ZM521.5 518.5L523.4 520.0L523.5 517.2ZM521.5 502.5L523.4 503.9L523.4 501.1ZM521.5 485.5L523.4 486.9L523.4 484.1ZM525.5 458.5L526.0 460.9L527.9 458.8ZM525.5 441.5L526.0 443.9L527.9 441.8ZM521.5 417.5L523.4 418.9L523.5 416.1ZM521.5 333.5L523.6 334.6L523.2 331.8ZM521.5 316.5L523.6 317.6L523.2 314.8ZM521.5 297.5L523.6 298.7L523.3 295.9ZM521.5 278.5L523.5 279.9L523.4 277.1ZM521.5 260.5L523.3 262.0L523.5 259.2ZM521.5 242.5L523.3 244.0L523.5 241.2ZM522.5 221.5L524.0 223.4L524.7 220.6ZM523.5 199.5L524.4 201.7L525.9 199.3ZM525.5 178.5L525.9 180.9L527.9 178.9ZM530.5 156.5L530.0 158.9L532.6 157.7ZM536.5 137.5L535.1 139.4L537.9 139.4ZM544.5 120.5L542.3 121.5L544.8 122.9ZM550.5 111.5L548.2 110.7L549.0 113.4ZM546.5 107.5L546.2 105.1L544.1 107.0ZM547.5 87.5L547.0 85.1L545.1 87.2ZM547.5 68.5L547.0 66.2L545.1 68.3ZM548.5 47.5L547.9 45.2L546.1 47.4ZM540.5 578.5L542.9 578.6L541.4 576.3ZM539.5 541.5L541.8 542.2L540.8 539.5ZM538.5 521.5L540.6 522.6L540.2 519.8ZM538.5 503.5L540.5 504.8L540.4 502.0ZM538.5 485.5L540.4 486.9L540.5 484.1ZM538.5 402.5L540.6 403.6L540.2 400.8ZM538.5 386.5L540.7 387.5L540.1 384.8ZM538.5 350.5L540.6 351.6L540.2 348.8ZM538.5 333.5L540.6 334.6L540.2 331.8ZM538.5 317.5L540.7 318.6L540.2 315.8ZM538.5 298.5L540.6 299.6L540.2 296.8ZM538.5 278.5L540.5 279.9L540.4 277.1ZM538.5 260.5L540.4 262.0L540.5 259.2ZM538.5 242.5L540.3 244.0L540.5 241.2ZM538.5 222.5L540.1 224.3L540.7 221.5ZM539.5 201.5L540.7 203.6L541.8 201.0ZM541.5 180.5L542.2 182.8L543.9 180.5ZM544.5 158.5L544.6 160.9L546.8 159.2ZM549.5 138.5L548.6 140.7L551.4 140.0ZM557.5 119.5L555.6 121.0L558.4 121.7ZM561.5 102.5L559.3 103.5L561.8 104.9ZM568.5 97.5L566.6 96.0L566.5 98.8ZM566.5 84.5L565.4 82.3L564.1 84.8ZM567.5 63.5L566.2 61.5L565.2 64.1ZM567.5 43.5L566.2 41.5L565.2 44.2ZM558.5 579.5L560.9 579.4L559.1 577.2ZM559.5 563.5L561.9 563.2L560.0 561.1ZM556.5 542.5L558.9 543.0L557.7 540.4ZM555.5 523.5L557.7 524.4L557.0 521.7ZM555.5 503.5L557.6 504.7L557.3 501.9ZM555.5 486.5L557.5 487.8L557.3 485.0ZM555.5 469.5L557.5 470.8L557.4 468.0ZM555.5 402.5L557.6 403.6L557.2 400.8ZM555.5 386.5L557.7 387.5L557.1 384.7ZM555.5 369.5L557.7 370.5L557.1 367.7ZM555.5 351.5L557.7 352.5L557.2 349.8ZM555.5 334.5L557.7 335.6L557.2 332.8ZM555.5 317.5L557.7 318.6L557.2 315.8ZM555.5 298.5L557.6 299.6L557.2 296.8ZM555.5 278.5L557.5 279.9L557.4 277.0ZM555.5 262.5L557.5 263.8L557.4 261.0ZM555.5 243.5L557.4 244.9L557.4 242.1ZM555.5 222.5L557.2 224.2L557.7 221.5ZM556.5 203.5L558.0 205.4L558.8 202.7ZM557.5 182.5L558.5 184.7L559.9 182.2ZM560.5 159.5L560.7 161.9L562.8 160.1ZM564.5 138.5L564.0 140.9L566.6 139.7ZM570.5 118.5L569.1 120.4L571.9 120.4ZM573.5 100.5L571.7 102.1L574.4 102.7ZM582.5 87.5L580.1 87.5L581.7 89.8ZM585.5 77.5L583.6 76.1L583.6 78.9ZM585.5 59.5L583.7 57.9L583.4 60.7ZM585.5 39.5L583.6 38.0L583.5 40.8ZM576.5 580.5L578.9 580.3L577.1 578.2ZM576.5 564.5L578.9 564.1L576.9 562.1ZM574.5 543.5L576.9 543.9L575.6 541.4ZM572.5 521.5L574.6 522.6L574.2 519.8ZM572.5 504.5L574.6 505.6L574.2 502.8ZM572.5 487.5L574.6 488.7L574.3 485.9ZM572.5 470.5L574.6 471.7L574.2 468.9ZM572.5 453.5L574.6 454.6L574.2 451.8ZM572.5 436.5L574.6 437.6L574.2 434.8ZM572.5 419.5L574.6 420.6L574.2 417.8ZM572.5 403.5L574.7 404.5L574.2 401.8ZM572.5 386.5L574.7 387.5L574.1 384.7ZM572.5 369.5L574.7 370.5L574.1 367.7ZM572.5 351.5L574.7 352.5L574.1 349.7ZM572.5 334.5L574.7 335.5L574.1 332.7ZM572.5 317.5L574.7 318.5L574.1 315.7ZM572.5 298.5L574.6 299.6L574.2 296.8ZM572.5 278.5L574.5 279.9L574.4 277.0ZM572.5 261.5L574.4 262.9L574.4 260.1ZM572.5 242.5L574.3 244.0L574.5 241.2ZM572.5 223.5L574.3 225.1L574.6 222.3ZM573.5 203.5L575.0 205.4L575.7 202.7ZM574.5 181.5L575.5 183.7L576.9 181.2ZM575.5 161.5L576.2 163.8L577.9 161.6ZM578.5 140.5L578.5 142.9L580.8 141.2ZM584.5 118.5L583.5 120.7L586.3 120.1ZM588.5 100.5L586.9 102.3L589.7 102.6ZM593.5 82.5L591.4 83.7L594.0 84.9ZM599.5 68.5L597.1 68.5L598.7 70.8ZM601.5 54.5L599.3 53.6L600.0 56.4ZM601.5 34.5L599.2 33.7L600.1 36.4ZM591.5 577.5L593.9 577.9L592.6 575.4ZM590.5 541.5L592.8 542.3L591.9 539.6ZM589.5 522.5L591.7 523.5L591.2 520.8ZM589.5 504.5L591.6 505.6L591.2 502.8ZM589.5 487.5L591.6 488.7L591.3 485.9ZM589.5 470.5L591.6 471.6L591.2 468.8ZM589.5 453.5L591.6 454.6L591.2 451.8ZM589.5 436.5L591.6 437.6L591.2 434.8ZM589.5 420.5L591.7 421.6L591.2 418.8ZM589.5 403.5L591.7 404.5L591.1 401.7ZM589.5 386.5L591.7 387.4L591.1 384.7ZM589.5 369.5L591.7 370.5L591.1 367.7ZM589.5 351.5L591.7 352.5L591.1 349.7ZM589.5 334.5L591.7 335.5L591.1 332.7ZM589.5 317.5L591.7 318.4L591.1 315.7ZM589.5 299.5L591.7 300.5L591.1 297.7ZM589.5 279.5L591.5 280.8L591.3 278.0ZM589.5 261.5L591.4 263.0L591.5 260.1ZM589.5 241.5L591.3 243.1L591.6 240.3ZM589.5 222.5L591.2 224.2L591.7 221.5ZM589.5 204.5L591.1 206.3L591.7 203.5ZM590.5 184.5L591.8 186.5L592.8 183.8ZM591.5 163.5L592.5 165.7L593.9 163.2ZM593.5 142.5L594.1 144.8L595.9 142.7ZM597.5 120.5L597.1 122.9L599.6 121.6ZM604.5 100.5L603.1 102.4L605.9 102.4ZM611.5 83.5L609.4 84.6L611.9 85.9ZM612.5 64.5L610.3 65.5L612.8 66.9ZM617.5 50.5L615.1 50.4L616.6 52.7ZM616.5 29.5L614.1 29.5L615.7 31.8ZM606.5 574.5L608.7 575.4L608.0 572.6ZM606.5 557.5L608.7 558.4L608.0 555.6ZM605.5 538.5L607.6 539.6L607.2 536.8ZM605.5 521.5L607.6 522.6L607.2 519.8ZM605.5 504.5L607.6 505.6L607.2 502.8ZM605.5 487.5L607.6 488.6L607.2 485.8ZM605.5 470.5L607.6 471.6L607.2 468.8ZM605.5 453.5L607.6 454.6L607.2 451.8ZM605.5 436.5L607.6 437.6L607.2 434.8ZM605.5 420.5L607.7 421.5L607.1 418.7ZM605.5 403.5L607.7 404.5L607.1 401.7ZM605.5 386.5L607.7 387.4L607.1 384.7ZM605.5 369.5L607.7 370.4L607.1 367.7ZM605.5 351.5L607.7 352.4L607.1 349.7ZM605.5 334.5L607.7 335.4L607.1 332.7ZM605.5 317.5L607.7 318.5L607.1 315.7ZM605.5 298.5L607.6 299.6L607.2 296.8ZM605.5 279.5L607.6 280.7L607.3 277.9ZM605.5 262.5L607.5 263.8L607.4 261.0ZM605.5 243.5L607.4 244.9L607.5 242.1ZM605.5 223.5L607.3 225.1L607.6 222.3ZM605.5 204.5L607.1 206.3L607.7 203.6ZM606.5 183.5L607.8 185.5L608.8 182.9ZM606.5 164.5L607.7 166.6L608.9 164.0ZM607.5 144.5L608.4 146.7L609.9 144.3ZM613.5 120.5L613.2 122.9L615.7 121.5ZM618.5 100.5L617.3 102.6L620.1 102.3ZM620.5 81.5L619.1 83.4L621.9 83.4ZM625.5 63.5L623.5 64.8L626.2 65.8ZM628.5 45.5L626.3 46.5L628.8 47.9ZM629.5 26.5L627.2 27.3L629.5 28.9ZM622.5 573.5L624.7 574.4L624.1 571.7ZM622.5 556.5L624.7 557.4L624.1 554.7ZM622.5 538.5L624.6 539.6L624.2 536.8ZM622.5 521.5L624.6 522.6L624.2 519.8ZM622.5 504.5L624.6 505.6L624.2 502.8ZM622.5 487.5L624.6 488.6L624.2 485.8ZM622.5 470.5L624.6 471.6L624.2 468.8ZM622.5 453.5L624.6 454.6L624.2 451.8ZM622.5 437.5L624.7 438.5L624.2 435.8ZM622.5 420.5L624.7 421.5L624.1 418.7ZM622.5 403.5L624.7 404.4L624.1 401.7ZM622.5 387.5L624.7 388.4L624.0 385.7ZM622.5 370.5L624.7 371.4L624.0 368.7ZM622.5 352.5L624.7 353.4L624.0 350.7ZM622.5 335.5L624.7 336.4L624.1 333.7ZM622.5 318.5L624.7 319.4L624.0 316.7ZM622.5 298.5L624.6 299.6L624.2 296.8ZM622.5 280.5L624.6 281.7L624.3 278.9ZM622.5 262.5L624.5 263.8L624.3 261.0ZM622.5 244.5L624.5 245.8L624.4 243.0ZM622.5 224.5L624.3 226.0L624.5 223.2ZM622.5 204.5L624.2 206.2L624.7 203.4ZM623.5 184.5L624.9 186.4L625.8 183.8ZM624.5 163.5L625.6 165.7L626.9 163.2ZM625.5 143.5L626.2 145.8L627.9 143.5ZM629.5 120.5L629.4 122.9L631.7 121.4ZM633.5 101.5L632.7 103.8L635.4 102.9ZM636.5 81.5L635.3 83.5L638.1 83.3ZM641.5 63.5L639.6 64.9L642.3 65.8ZM644.5 45.5L642.3 46.6L644.8 47.9ZM645.5 25.5L643.3 26.4L645.7 27.9Z" fill="#000080"/>
</g>
<g clip-path="url(#mc)" shape-rendering="crispEdges">
<path d="M500 30 L503 35 L500 43 L494 46 L492 53 L494 59 L495 64 L491 69 L487 73 L481 76 L479 82 L475 87 L471 94 L466 98 L462 103 L461 111 L460 117 L455 122 L451 126 L447 131 L441 137 L435 142 L429 148 L424 154 L421 157 L417 164 L412 171 L404 173 L396 174 L388 175 L382 176 L377 180 L370 182 L366 187 L363 184 L364 177 L361 169 L359 171 L359.6 177 L356 182 L353 189 L348 192 L344 191 L338 194 L330 193 L326 197 L318 199 L312 201 L308 200 L305 203 L304 209 L308 215 L307 219 L302 220 L299 216 L296 208 L298 201 L296 197 L292 195 L286 198 L280 193 L275 192 L270 197 L268 198 L268 196 L262 198 L257 202 L253 207 L243 207 L241 213 L241 218 L236 223 L231 227 L229 233 L227 240 L226 245 L228 250 L233 254 L238 259 L241 266 L246 273 L251 280 L257 287 L263 291 L268 293 L268 294 L272 299 L276 304 L280 310 L283 318 L285 326 L287 336 L289 347 L288 355 L285 364 L284 372 L281 377 L275 381 L269 384 L268 388 L265 389 L258 392 L250 397 L244 402 L241 407 L234 410 L226 414 L219 421 L214 424 L211 423 L212 416 L213 409 L216 402 L213 400 L206 396 L198 392 L190 390 L193 384 L189 381 L184 384 L183 376 L180 370 L177 363 L172 364 L168 358 L160 354 L152 355 L144 353 L146 348 L147 341 L135 340 L130 342 L130 350 L130 364 L126 370 L122 378 L119 388 L117 394 L116 400 L117 408 L119 413 L124 413 L129 414 L130 420 L132 426 L135 432 L137 437 L138 445 L143 450 L153 454 L160 460 L166 465 L172 468 L178 474 L184 480 L187 487 L189 496 L187 506 L189 514 L192 522 L196 526 L198 533 L201 540 L202 546 L198 548 L190 547 L184 542 L176 536 L168 530 L160 524 L153 519 L150 512 L146 504 L142 500 L141 492 L138 486 L136 478 L134 470 L134 462 L130 456 L126 451 L122 445 L119 437 L116 434 L109 433 L100 400 L100 30Z" fill="#c0c0c0" stroke="#000" stroke-width="2.4" paint-order="stroke" stroke-linejoin="round"/>
<path d="M286 229 L292 227 L300 227 L306 225 L312 224 L317 228 L316 234 L313 239 L309 245 L306 249 L300 253 L292 255 L285 254 L279 251 L277 244 L279 237 L284 233Z" fill="#c0c0c0" stroke="#000" stroke-width="2.4" paint-order="stroke" stroke-linejoin="round"/>
<path d="M495 130 L500 133 L500 142 L498 150 L495 160 L492 171 L490 171 L487 177 L484 183 L483 189 L481 190 L478 185 L474 179 L472 171 L470 171 L473 160 L477 150 L483 140 L492 132Z" fill="#c0c0c0" stroke="#000" stroke-width="2.4" paint-order="stroke" stroke-linejoin="round"/>
<path d="M109 507 L113 509 L120 513 L126 518 L130 524 L136 528 L144 532 L146 538 L152 536 L158 542 L166 544 L170 550 L176 554 L182 558 L186 562 L194 568 L196 573 L122 573 L119 568 L116 562 L113 555 L109 555Z" fill="#c0c0c0" stroke="#000" stroke-width="2.4" paint-order="stroke" stroke-linejoin="round"/>
<path d="M286 573 L283 564 L281 556 L283 548 L287 540 L292 537 L295 542 L303 542 L311 544 L318 542 L320 536 L321 528 L323 523 L333 521 L345 519 L353 515 L359 508 L365 500 L369 493 L375 490 L383 486 L389 485 L394 481 L393 478 L399 474 L405 468 L409 462 L413 458 L414 452 L417 448 L423 445 L423 446 L426 453 L423 459 L428 463 L431 469 L435 474 L443 477 L453 479 L456 482 L451 485 L443 486 L438 488 L441 493 L445 495 L439 497 L433 498 L432 503 L427 506 L430 512 L427 516 L429 521 L433 527 L432 534 L435 538 L440 543 L445 549 L450 552 L447 555 L437 552 L433 554 L435 559 L429 561 L427 567 L425 573Z" fill="#c0c0c0" stroke="#000" stroke-width="2.4" paint-order="stroke" stroke-linejoin="round"/>
<path d="M479 252 L485 250 L493 252 L499 255 L503 254 L505 251 L507 253 L506 259 L508 265 L510 273 L510 283 L507 291 L503 295 L501 299 L495 301 L494 304 L493.3 305.6 L492.6 309.9 L495.5 313.4 L496.2 318.4 L497.6 324.1 L501.8 328.3 L506.1 331.2 L509.6 327.2 L513.2 326.2 L517.5 327.6 L520.3 331.9 L524.6 334 L528.8 332.6 L533.8 334 L534.5 336.8 L531.7 340.4 L532.4 344.6 L537.3 349.6 L538 354.6 L535.9 355.3 L532.4 351.7 L528.8 346.8 L525.3 343.2 L521.7 339.7 L518.9 335.4 L515.3 332.6 L512.5 331.2 L511.1 334 L512.5 338.3 L513.9 342.5 L513.2 345.4 L511.1 343.9 L508.2 339.7 L504.7 336.1 L500.4 333.3 L496.2 332.6 L493.3 335.4 L489.8 337.6 L486.2 336.1 L482 334 L479.1 331.2 L480.6 326.9 L484.1 323.4 L482.7 320.5 L478.4 324.1 L476.3 320.5 L472 317.7 L469.2 314.1 L468.5 308.5 L467.1 301.4 L465 299 L465 292 L469 291 L474 287 L477 277 L475 269 L476 261Z" fill="#c0c0c0" stroke="#000" stroke-width="2.4" paint-order="stroke" stroke-linejoin="round"/>
<path d="M538 331.2 L541.6 330.5 L543.7 334 L542.3 338.3 L538.7 339 L537 335.4Z" fill="#c0c0c0" stroke="#000" stroke-width="2.4" paint-order="stroke" stroke-linejoin="round"/>
<path d="M499.7 314.1 L501.8 313.8 L502.6 317.7 L500.7 320.1 L499.3 317.7Z" fill="#c0c0c0" stroke="#000" stroke-width="2.4" paint-order="stroke" stroke-linejoin="round"/>
<path d="M474.9 341.1 L479.8 339.7 L485.5 340.4 L490.5 343.9 L493.3 349.6 L494 355.3 L491.2 359.6 L488.4 362.4 L485.5 358.1 L483.4 353.2 L480.6 348.2 L477 344.6Z" fill="#c0c0c0" stroke="#000" stroke-width="2.4" paint-order="stroke" stroke-linejoin="round"/>
<path d="M499.7 339.7 L503.3 339 L504.7 341.8 L503.3 344.6 L500.4 344.6Z" fill="#c0c0c0" stroke="#000" stroke-width="2.4" paint-order="stroke" stroke-linejoin="round"/>
<path d="M503 370 L508 371 L514 375 L520 374 L521 379 L517 385 L510 389 L504 393 L501 391 L502 383 L503 377Z" fill="#c0c0c0" stroke="#000" stroke-width="2.4" paint-order="stroke" stroke-linejoin="round"/>
<path d="M520 385 L524 384 L525.4 391 L522.4 399 L518.4 403 L520.4 411 L519 416 L514 415 L511 407 L510 402 L516 400 L518 393Z" fill="#c0c0c0" stroke="#000" stroke-width="2.4" paint-order="stroke" stroke-linejoin="round"/>
<path d="M533.6 381 L536.4 385 L533.4 393 L529.4 401 L525.4 407 L523.6 403 L527.6 395 L530.6 387Z" fill="#c0c0c0" stroke="#000" stroke-width="2.4" paint-order="stroke" stroke-linejoin="round"/>
<path d="M535 401 L540 399 L544 402 L543 406 L538 408 L534 405Z" fill="#c0c0c0" stroke="#000" stroke-width="2.4" paint-order="stroke" stroke-linejoin="round"/>
<path d="M523.8 357.4 L527.4 356.7 L531.7 360.3 L535.2 365.2 L538 369.5 L535.9 370.2 L531.7 366.7 L527.4 362.4 L524.6 360.3Z" fill="#c0c0c0" stroke="#000" stroke-width="2.4" paint-order="stroke" stroke-linejoin="round"/>
<path d="M541.6 358.1 L547.3 356.7 L554.4 358.1 L559.3 362.4 L560.7 368.1 L560 373.7 L562.2 379.4 L561.5 383.7 L559.3 387.9 L556.5 387.9 L555.1 382.3 L554.4 376.6 L551.5 372.3 L547.3 368.1 L543.7 363.1Z" fill="#c0c0c0" stroke="#000" stroke-width="2.4" paint-order="stroke" stroke-linejoin="round"/>
<path d="M543 374 L548 376 L551 383 L552 389 L556 392 L554 398 L550 397 L548 391 L545 385 L542 379Z" fill="#c0c0c0" stroke="#000" stroke-width="2.4" paint-order="stroke" stroke-linejoin="round"/>
<path d="M509 357.6 L513 358 L514 361 L511 362Z" fill="#c0c0c0" stroke="#000" stroke-width="2.4" paint-order="stroke" stroke-linejoin="round"/>
<path d="M502.6 355 L505 354 L505.4 364 L503 365Z" fill="#c0c0c0" stroke="#000" stroke-width="2.4" paint-order="stroke" stroke-linejoin="round"/>
<path d="M417.9 437.3 L419.9 437.3 L421.4 433.7 L421.4 433.7 L421.4 433.6 L425.8 427 L425.9 426.9 L425.9 426.9 L426 426.8 L433.9 420.9 L441.9 412.9 L449.1 404.5 L455.1 397.5 L455.1 397.5 L460.5 392.5 L462.1 390 L460.7 388.4 L457.4 389 L452.5 394.5 L446.5 402 L446.5 402.1 L430.5 418.1 L430.4 418.1 L422.6 424.4 L419.1 432.2 L417.9 437.3Z" fill="#c0c0c0" stroke="#000" stroke-width="2.4" paint-order="stroke" stroke-linejoin="round"/>
<path d="M466 362 L471 361 L474 364 L473 369 L469 371 L466 368Z" fill="#c0c0c0" stroke="#000" stroke-width="2.4" paint-order="stroke" stroke-linejoin="round"/>
<path d="M456.6 379 L460 378 L461 383 L458.6 386 L456 384Z" fill="#c0c0c0" stroke="#000" stroke-width="2.4" paint-order="stroke" stroke-linejoin="round"/>
<path d="M507 439 L513 433 L521 429 L526 424 L529 422 L531 426 L537 428 L543 425 L548 420 L553 419 L557 416 L560 409 L562 405 L566 406 L570 412 L573 420 L578 428 L580 437 L579 443 L577 449 L579 457 L578 461 L575 457 L572 461 L568 462 L566 457 L568 452 L566 447 L563 450 L560 459 L564 466 L562 472 L559 475 L557 469 L552 470 L544 467 L538 462 L537 455 L540 448 L537 442 L531 439 L525 440 L519 443 L515 440 L511 442 L508 447 L505 452 L501 453 L502 449 L504 443 L507 437Z" fill="#c0c0c0" stroke="#000" stroke-width="2.4" paint-order="stroke" stroke-linejoin="round"/>
<path d="M465.5 575.3 L466.3 566 L468.6 559.8 L473.3 556.7 L480.3 554.4 L483.4 549 L486.5 548.2 L492.6 550.5 L497.3 554.4 L505 556.7 L514.3 558.3 L523.6 559.8 L532.9 559 L540.7 555.9 L545.3 550.5 L548.4 545.9 L551.5 542.8 L555.4 544.3 L556.1 547.4 L553.8 552.1 L549.9 556.7 L545.3 561.4 L539.1 563.7 L531.4 564.5 L523.6 564.5 L517.4 562.1 L509.7 560.6 L501.9 561.4 L494.2 562.1 L486.5 562.9 L482.6 562.6 L479.5 564.5 L477.5 567.6 L476.4 570.7 L475.9 575.3Z" fill="#c0c0c0" stroke="#000" stroke-width="2.4" paint-order="stroke" stroke-linejoin="round"/>
<path d="M599 532 L603 536 L601 541 L604 546 L603.6 549 L610 545 L615 544 L617 548 L614 553 L609 556 L606 559 L612 562 L617 564 L620 567 L616 567 L608 564 L603 562 L602 567 L603 573 L597 573 L596 563 L597 557 L596 553 L594 549 L596 541 L598 536Z" fill="#c0c0c0" stroke="#000" stroke-width="2.4" paint-order="stroke" stroke-linejoin="round"/>
<path d="M608 528 L613 526 L616 530 L614 535 L609 536 L607 532Z" fill="#c0c0c0" stroke="#000" stroke-width="2.4" paint-order="stroke" stroke-linejoin="round"/>
<path d="M582 494 L584 493.6 L584.8 500 L584 507 L582.4 507 L581.6 500Z" fill="#c0c0c0" stroke="#000" stroke-width="2.4" paint-order="stroke" stroke-linejoin="round"/>
<path d="M561 507 L564 507.4 L565 511.4 L562.6 513.4 L560.6 510.6Z" fill="#c0c0c0" stroke="#000" stroke-width="2.4" paint-order="stroke" stroke-linejoin="round"/>
<path d="M266 499 L269 498 L271 501 L270 506 L267 506.6Z" fill="#c0c0c0" stroke="#000" stroke-width="2.4" paint-order="stroke" stroke-linejoin="round"/>
<path d="M266 500 L269 499 L271 502 L270 507 L267 508Z" fill="#c0c0c0" stroke="#000" stroke-width="2.4" paint-order="stroke" stroke-linejoin="round"/>
<path d="M502 457 L506 456.6 L507.4 459.4 L505 461.4 L502 460.2Z" fill="#c0c0c0" stroke="#000" stroke-width="2.4" paint-order="stroke" stroke-linejoin="round"/>
<path d="M494 235 L496.6 234.6 L497.4 237.4 L495 238.6Z" fill="#c0c0c0" stroke="#000" stroke-width="2.4" paint-order="stroke" stroke-linejoin="round"/>
<path d="M502 232 L504 232 L504.4 234.6 L502.4 235Z" fill="#c0c0c0" stroke="#000" stroke-width="2.4" paint-order="stroke" stroke-linejoin="round"/>
<path d="M470 480 L474 479 L475 482 L472 483.4Z" fill="#c0c0c0" stroke="#000" stroke-width="2.4" paint-order="stroke" stroke-linejoin="round"/>
<path d="M483 474 L489 473 L490 476 L485 477Z" fill="#c0c0c0" stroke="#000" stroke-width="2.4" paint-order="stroke" stroke-linejoin="round"/>
<path d="M154 536.5 L158 535 L160.5 538 L158 541.5 L155 541Z" fill="#c0c0c0" stroke="#000" stroke-width="2.4" paint-order="stroke" stroke-linejoin="round"/>
<path d="M166 544 L171 545 L173 549 L178 552 L184 555 L188 559 L186 561.5 L181 560 L176 557.5 L171 554.5 L168 550Z" fill="#c0c0c0" stroke="#000" stroke-width="2.4" paint-order="stroke" stroke-linejoin="round"/>
<path d="M203 551 L208 550 L211 552.5 L208 555 L204 554Z" fill="#c0c0c0" stroke="#000" stroke-width="2.4" paint-order="stroke" stroke-linejoin="round"/>
<path d="M196 546.5 L202 546 L203 548.5 L198 549.5Z" fill="#c0c0c0" stroke="#000" stroke-width="2.4" paint-order="stroke" stroke-linejoin="round"/>
<path d="M598 112 L602 108 L606 103 L609 100" fill="none" stroke="#000" stroke-width="3" stroke-linejoin="round" stroke-linecap="round"/>
<path d="M590 111.6 L594 110.8" fill="none" stroke="#000" stroke-width="2" stroke-linejoin="round" stroke-linecap="round"/>
<path d="M581.6 108 L584 108.4" fill="none" stroke="#000" stroke-width="2" stroke-linejoin="round" stroke-linecap="round"/>
<path d="M603 96 L603.6 95.6" fill="none" stroke="#000" stroke-width="2" stroke-linejoin="round" stroke-linecap="round"/>
<path d="M608 94 L608.6 93.6" fill="none" stroke="#000" stroke-width="2" stroke-linejoin="round" stroke-linecap="round"/>
<path d="M613.6 88.4 L615 87.6" fill="none" stroke="#000" stroke-width="2" stroke-linejoin="round" stroke-linecap="round"/>
<path d="M624 75.2 L628 71.6 L631.6 68.4" fill="none" stroke="#000" stroke-width="3" stroke-linejoin="round" stroke-linecap="round"/>
<path d="M619.2 80.4 L620.4 82" fill="none" stroke="#000" stroke-width="2.5" stroke-linejoin="round" stroke-linecap="round"/>
<path d="M630.4 46.4 L631.6 45.2" fill="none" stroke="#000" stroke-width="1.5" stroke-linejoin="round" stroke-linecap="round"/>
<path d="M634.6 41.6 L635.6 40.4" fill="none" stroke="#000" stroke-width="1.5" stroke-linejoin="round" stroke-linecap="round"/>
<path d="M627.6 50 L628.4 49.2" fill="none" stroke="#000" stroke-width="1.5" stroke-linejoin="round" stroke-linecap="round"/>
<path d="M532 147 L537 145.6 L541 143" fill="none" stroke="#000" stroke-width="3" stroke-linejoin="round" stroke-linecap="round"/>
<path d="M556 136.4 L559 138" fill="none" stroke="#000" stroke-width="2.5" stroke-linejoin="round" stroke-linecap="round"/>
<path d="M527.4 120.4 L530 122" fill="none" stroke="#000" stroke-width="2" stroke-linejoin="round" stroke-linecap="round"/>
<path d="M460 158 L463 160.4" fill="none" stroke="#000" stroke-width="2.5" stroke-linejoin="round" stroke-linecap="round"/>
<path d="M459 164 L462 166" fill="none" stroke="#000" stroke-width="2" stroke-linejoin="round" stroke-linecap="round"/>
<path d="M494 188 L495.4 189.4" fill="none" stroke="#000" stroke-width="2" stroke-linejoin="round" stroke-linecap="round"/>
<path d="M499.6 210 L501 208.6" fill="none" stroke="#000" stroke-width="2" stroke-linejoin="round" stroke-linecap="round"/>
<path d="M499.4 219 L502 216.6" fill="none" stroke="#000" stroke-width="2.5" stroke-linejoin="round" stroke-linecap="round"/>
<path d="M489 241.4 L490.6 243" fill="none" stroke="#000" stroke-width="2" stroke-linejoin="round" stroke-linecap="round"/>
<path d="M500 244.6 L502 244" fill="none" stroke="#000" stroke-width="2.5" stroke-linejoin="round" stroke-linecap="round"/>
<path d="M490.6 245.4 L492.2 245" fill="none" stroke="#000" stroke-width="2" stroke-linejoin="round" stroke-linecap="round"/>
<path d="M477 465 L480 462" fill="none" stroke="#000" stroke-width="2.5" stroke-linejoin="round" stroke-linecap="round"/>
<path d="M483 477 L487 472" fill="none" stroke="#000" stroke-width="2.5" stroke-linejoin="round" stroke-linecap="round"/>
<path d="M488 470 L492 467" fill="none" stroke="#000" stroke-width="2.5" stroke-linejoin="round" stroke-linecap="round"/>
<path d="M494 457 L498 454" fill="none" stroke="#000" stroke-width="2" stroke-linejoin="round" stroke-linecap="round"/>
<path d="M494 466 L500 463" fill="none" stroke="#000" stroke-width="2" stroke-linejoin="round" stroke-linecap="round"/>
<path d="M468 483 L473 480" fill="none" stroke="#000" stroke-width="2.5" stroke-linejoin="round" stroke-linecap="round"/>
<path d="M458 489.4 L459 491" fill="none" stroke="#000" stroke-width="2" stroke-linejoin="round" stroke-linecap="round"/>
<path d="M464 487 L466 488.6" fill="none" stroke="#000" stroke-width="2" stroke-linejoin="round" stroke-linecap="round"/>
<path d="M442 452 L444 452.6" fill="none" stroke="#000" stroke-width="2" stroke-linejoin="round" stroke-linecap="round"/>
<path d="M444 532.6 L445.4 534" fill="none" stroke="#000" stroke-width="2" stroke-linejoin="round" stroke-linecap="round"/>
<path d="M559.4 523 L560.2 525" fill="none" stroke="#000" stroke-width="2" stroke-linejoin="round" stroke-linecap="round"/>
<path d="M559 531 L559.8 535" fill="none" stroke="#000" stroke-width="2" stroke-linejoin="round" stroke-linecap="round"/>
<path d="M561 490 L562.2 490.2" fill="none" stroke="#000" stroke-width="1.5" stroke-linejoin="round" stroke-linecap="round"/>
<path d="M559 478 L561 477" fill="none" stroke="#000" stroke-width="1.5" stroke-linejoin="round" stroke-linecap="round"/>
<path d="M467.8 363.6 L470.6 365.6" fill="none" stroke="#000" stroke-width="3.5" stroke-linejoin="round" stroke-linecap="round"/>
<path d="M457 380 L461 378.4" fill="none" stroke="#000" stroke-width="3" stroke-linejoin="round" stroke-linecap="round"/>
<path d="M460 374 L466 370" fill="none" stroke="#000" stroke-width="2.5" stroke-linejoin="round" stroke-linecap="round"/>
<path d="M481 377 L482.6 378.4" fill="none" stroke="#000" stroke-width="1.5" stroke-linejoin="round" stroke-linecap="round"/>
<path d="M484 380 L485.4 382.4" fill="none" stroke="#000" stroke-width="1.5" stroke-linejoin="round" stroke-linecap="round"/>
<path d="M488 383 L489.4 385" fill="none" stroke="#000" stroke-width="1.5" stroke-linejoin="round" stroke-linecap="round"/>
<path d="M480 384 L481.4 384.4" fill="none" stroke="#000" stroke-width="1.5" stroke-linejoin="round" stroke-linecap="round"/>
<path d="M493 364 L494.6 365" fill="none" stroke="#000" stroke-width="1.5" stroke-linejoin="round" stroke-linecap="round"/>
<path d="M562 394 L564 398 L565.4 403" fill="none" stroke="#000" stroke-width="3.5" stroke-linejoin="round" stroke-linecap="round"/>
<path d="M568 400 L571 404" fill="none" stroke="#000" stroke-width="2.5" stroke-linejoin="round" stroke-linecap="round"/>
<path d="M529 414 L531 414.4" fill="none" stroke="#000" stroke-width="2" stroke-linejoin="round" stroke-linecap="round"/>
<path d="M547 414 L549 414.6" fill="none" stroke="#000" stroke-width="2" stroke-linejoin="round" stroke-linecap="round"/>
<path d="M226 519 L231 517" fill="none" stroke="#000" stroke-width="3" stroke-linejoin="round" stroke-linecap="round"/>
<path d="M234 515 L240 513" fill="none" stroke="#000" stroke-width="4" stroke-linejoin="round" stroke-linecap="round"/>
<path d="M235.4 518 L237 521" fill="none" stroke="#000" stroke-width="2.5" stroke-linejoin="round" stroke-linecap="round"/>
<path d="M256 552.6 L260 553.4" fill="none" stroke="#000" stroke-width="2" stroke-linejoin="round" stroke-linecap="round"/>
<path d="M261 519.4 L262.6 518.6" fill="none" stroke="#000" stroke-width="2" stroke-linejoin="round" stroke-linecap="round"/>
<path d="M249 559.4 L250.6 559.4" fill="none" stroke="#000" stroke-width="1.5" stroke-linejoin="round" stroke-linecap="round"/>
<path d="M199 522 L202 525" fill="none" stroke="#000" stroke-width="2.5" stroke-linejoin="round" stroke-linecap="round"/>
<path d="M198 528 L200 531" fill="none" stroke="#000" stroke-width="2" stroke-linejoin="round" stroke-linecap="round"/>
<path d="M279.6 519 L280.8 522" fill="none" stroke="#000" stroke-width="2" stroke-linejoin="round" stroke-linecap="round"/>
<path d="M282.4 528 L284.8 528.4" fill="none" stroke="#000" stroke-width="2" stroke-linejoin="round" stroke-linecap="round"/>
<path d="M322 525 L322.6 530" fill="none" stroke="#000" stroke-width="3" stroke-linejoin="round" stroke-linecap="round"/>
<path d="M386 480 L393 479" fill="none" stroke="#000" stroke-width="2.5" stroke-linejoin="round" stroke-linecap="round"/>
<path d="M417 447 L420 445" fill="none" stroke="#000" stroke-width="2.5" stroke-linejoin="round" stroke-linecap="round"/>
<path d="M194 552 L198 553.4" fill="none" stroke="#000" stroke-width="2.5" stroke-linejoin="round" stroke-linecap="round"/>
<path d="M201 555 L204 557 L207 556.6" fill="none" stroke="#000" stroke-width="3" stroke-linejoin="round" stroke-linecap="round"/>
<path d="M199 561 L202 563.4" fill="none" stroke="#000" stroke-width="2.5" stroke-linejoin="round" stroke-linecap="round"/>
<path d="M205 565 L207 568" fill="none" stroke="#000" stroke-width="2" stroke-linejoin="round" stroke-linecap="round"/>
<path d="M192 557 L193 560" fill="none" stroke="#000" stroke-width="2" stroke-linejoin="round" stroke-linecap="round"/>
<path d="M244 209 L250 206 L257 203" fill="none" stroke="#000" stroke-width="3.5" stroke-linejoin="round" stroke-linecap="round"/>
<path d="M362 179 L365 183 L369 185 L373 182" fill="none" stroke="#000" stroke-width="4" stroke-linejoin="round" stroke-linecap="round"/>
<path d="M359 174 L360.4 178" fill="none" stroke="#000" stroke-width="3" stroke-linejoin="round" stroke-linecap="round"/>
<path d="M352 182 L354.4 186" fill="none" stroke="#000" stroke-width="2" stroke-linejoin="round" stroke-linecap="round"/>
<path d="M301 162 L303 159.6 L307 161.6 L313 163.6 L319 162.4 L323 162" fill="none" stroke="#000" stroke-width="1.5" stroke-linejoin="round" stroke-linecap="round"/>
<path d="M448.6 47.6 L453 46.4" fill="none" stroke="#000" stroke-width="1.5" stroke-linejoin="round" stroke-linecap="round"/>
<path d="M401 40.5 L404 39.5" fill="none" stroke="#000" stroke-width="1.5" stroke-linejoin="round" stroke-linecap="round"/>
<path d="M406 42.5 L409 41.5" fill="none" stroke="#000" stroke-width="1.5" stroke-linejoin="round" stroke-linecap="round"/>
<path d="M407 54 L408.5 55" fill="none" stroke="#000" stroke-width="1.2" stroke-linejoin="round" stroke-linecap="round"/>
<path d="M418 509 L423 511" fill="none" stroke="#000" stroke-width="2.5" stroke-linejoin="round" stroke-linecap="round"/>
<path d="M260 197 L251 192 L244 188 L242 180 L245 175 L241 172 L231 171 L227 167 L223 164" fill="none" stroke="#000" stroke-width="1.3" stroke-linejoin="round" stroke-linecap="round"/>
<path d="M223 164 L217 167 L213 171 L211 174 L204 175 L199 176 L197 180 L192 175 L187 175 L182 180 L178 177 L172 175 L168 180 L161 181 L158 183 L157 189 L160 194 L161 203 L156 204 L152 203 L150 195 L147 194 L140 199 L133 198 L130 189 L125 187 L118 187 L117 183 L120 176 L123 171 L122 167 L116 166 L113 166" fill="none" stroke="#000" stroke-width="1.3" stroke-linejoin="round" stroke-linecap="round"/>
<path d="M168 180 L172 187 L178 193 L180 198 L179 203 L184 209 L193 212 L196 208 L202 208 L208 215 L213 221 L214 226 L210 230 L202 232 L196 237 L204 241 L212 246 L219 250 L219 254 L226 261 L232 270 L238 278 L241 285 L247 289 L253 295 L255 304 L254 304 L259 307 L260 312 L257 319 L256 321" fill="none" stroke="#000" stroke-width="1.3" stroke-linejoin="round" stroke-linecap="round"/>
<path d="M150 195 L142 202 L140 208 L134 212 L133 218 L138 223 L138 230 L140 233 L151 233 L153 242 L149 249 L150 258 L146 268 L149 270 L156 264 L164 258 L168 258 L175 264 L182 260 L185 254 L191 254 L198 256 L204 264 L210 270 L211 276 L211 285 L215 291 L221 297 L224 304 L226 304 L223 310 L225 317 L224 324 L219 328" fill="none" stroke="#000" stroke-width="1.3" stroke-linejoin="round" stroke-linecap="round"/>
<path d="M133 218 L128 218 L122 219 L121 223 L114 225 L113 227" fill="none" stroke="#000" stroke-width="1.3" stroke-linejoin="round" stroke-linecap="round"/>
<path d="M178 364 L176 356 L172 352 L170 344 L171 339 L177 336 L180 329 L186 325 L197 324 L209 324 L216 325 L219 328 L230 329 L234 325 L242 322 L250 325 L256 321" fill="none" stroke="#000" stroke-width="1.3" stroke-linejoin="round" stroke-linecap="round"/>
<path d="M256 321 L255 329 L259 338 L258 350 L257 360 L250 364 L240 367 L238 372 L230 373 L230 379 L235 385 L231 388 L224 385 L219 388 L215 390 L207 392 L205 395" fill="none" stroke="#000" stroke-width="1.3" stroke-linejoin="round" stroke-linecap="round"/>
<path d="M113 332 L117 334 L118 344 L116 348 L119 354 L122 362 L125 370 L122 376 L116 382 L113 386" fill="none" stroke="#000" stroke-width="1.3" stroke-linejoin="round" stroke-linecap="round"/>
<path d="M134 458 L140 459 L144 464 L149 466 L150 474 L158 471 L163 472 L166 466" fill="none" stroke="#000" stroke-width="1.3" stroke-linejoin="round" stroke-linecap="round"/>
<path d="M292 538 L297 546 L302 552 L308 556 L315 554 L325 553 L334 550 L338 545 L345 544 L353 546 L361 549 L367 546 L375 544 L379 539 L381 533 L386 528 L387 520 L393 516 L393 508 L396 500 L403 497 L423 497 L427 497 L432 503" fill="none" stroke="#000" stroke-width="1.3" stroke-linejoin="round" stroke-linecap="round"/>
<path d="M369 493 L373 499 L377 502 L380 498 L382 492 L383 487" fill="none" stroke="#000" stroke-width="1.3" stroke-linejoin="round" stroke-linecap="round"/>
<path d="M385 488 L386 496 L390 497" fill="none" stroke="#000" stroke-width="1.3" stroke-linejoin="round" stroke-linecap="round"/>
<path d="M230 316 L230 320" fill="none" stroke="#000" stroke-width="1" stroke-linejoin="round" stroke-linecap="round"/>
<path d="M230.4 330 L230.8 334" fill="none" stroke="#000" stroke-width="1" stroke-linejoin="round" stroke-linecap="round"/>
<path d="M231 340 L231 343" fill="none" stroke="#000" stroke-width="1" stroke-linejoin="round" stroke-linecap="round"/>
<path d="M232 350 L232 352" fill="none" stroke="#000" stroke-width="1" stroke-linejoin="round" stroke-linecap="round"/>
<path d="M232 357 L232 360" fill="none" stroke="#000" stroke-width="1" stroke-linejoin="round" stroke-linecap="round"/>
<path d="M212 368 L215 367.6" fill="none" stroke="#000" stroke-width="1" stroke-linejoin="round" stroke-linecap="round"/>
<path d="M221 365 L224 363" fill="none" stroke="#000" stroke-width="1" stroke-linejoin="round" stroke-linecap="round"/>
<path d="M214 372 L215.4 376" fill="none" stroke="#000" stroke-width="1" stroke-linejoin="round" stroke-linecap="round"/>
<path d="M216.6 380 L218 384 L219 390" fill="none" stroke="#000" stroke-width="1" stroke-linejoin="round" stroke-linecap="round"/>
<path d="M233 400 L239 404 L243 399" fill="none" stroke="#000" stroke-width="1" stroke-linejoin="round" stroke-linecap="round"/>
<path d="M225 392 L231 398 L237 400" fill="none" stroke="#000" stroke-width="1" stroke-linejoin="round" stroke-linecap="round"/>
<path d="M232.4 212 L232.4 213.4" fill="none" stroke="#000" stroke-width="1.3" stroke-linejoin="round" stroke-linecap="round"/>
<path d="M113 509h1v1h-1zM114 433h1v1h-1zM114 509h2v2h-2zM114 559h1v2h-1zM115 403h1v2h-1zM115 434h1v1h-1zM115 509h2v2h-2zM116 393h2v2h-2zM116 394h1v1h-1zM117 391h2v2h-2zM117 407h2v1h-2zM117 408h1v2h-1zM118 390h1v2h-1zM118 411h1v2h-1zM118 412h2v1h-2zM118 565h1v2h-1zM119 385h1v1h-1zM119 411h1v2h-1zM119 412h2v2h-2zM119 436h1v1h-1zM119 439h2v2h-2zM119 512h2v2h-2zM119 513h1v1h-1zM119 569h2v1h-2zM120 444h2v2h-2zM121 441h1v1h-1zM121 445h1v2h-1zM122 374h1v2h-1zM122 377h1v1h-1zM122 413h1v1h-1zM122 513h1v2h-1zM124 515h1v2h-1zM124 517h2v2h-2zM125 369h2v1h-2zM125 369h2v2h-2zM126 367h2v1h-2zM126 453h2v1h-2zM126 519h1v1h-1zM127 414h2v1h-2zM128 520h2v2h-2zM128 522h1v1h-1zM129 340h1v2h-1zM129 346h2v1h-2zM129 348h1v2h-1zM129 351h2v2h-2zM129 354h1v1h-1zM129 455h1v2h-1zM129 455h2v2h-2zM130 344h1v2h-1zM130 346h2v1h-2zM130 350h2v2h-2zM130 362h1v1h-1zM130 362h2v1h-2zM130 363h2v2h-2zM130 415h1v2h-1zM130 419h2v2h-2zM130 524h1v2h-1zM131 421h1v2h-1zM131 425h2v2h-2zM132 426h2v1h-2zM132 428h2v2h-2zM132 461h2v1h-2zM133 432h2v1h-2zM133 462h1v1h-1zM133 462h2v1h-2zM133 465h2v2h-2zM133 466h1v2h-1zM133 470h2v1h-2zM135 339h2v2h-2zM135 432h2v1h-2zM135 435h1v1h-1zM135 472h1v1h-1zM135 477h1v2h-1zM135 528h2v1h-2zM136 340h2v1h-2zM136 436h1v2h-1zM136 476h1v1h-1zM136 479h2v1h-2zM136 528h1v2h-1zM137 445h2v1h-2zM137 482h1v1h-1zM137 485h2v2h-2zM137 486h1v1h-1zM137 528h2v1h-2zM138 445h2v1h-2zM139 488h2v2h-2zM139 530h1v1h-1zM140 497h1v1h-1zM140 530h1v2h-1zM144 531h1v1h-1zM144 532h2v1h-2zM145 340h2v1h-2zM145 349h1v2h-1zM145 352h2v2h-2zM145 535h2v2h-2zM145 537h1v2h-1zM146 345h2v2h-2zM146 451h2v1h-2zM147 339h1v2h-1zM147 354h2v1h-2zM147 509h2v1h-2zM147 536h2v2h-2zM147 537h1v2h-1zM149 353h1v2h-1zM150 511h1v1h-1zM150 515h2v1h-2zM151 355h2v2h-2zM151 535h1v1h-1zM152 517h1v2h-1zM152 519h2v1h-2zM153 518h1v1h-1zM154 354h1v2h-1zM155 353h1v2h-1zM155 538h1v1h-1zM155 540h2v1h-2zM156 522h2v1h-2zM157 522h2v1h-2zM158 540h1v2h-1zM159 353h2v2h-2zM160 353h1v2h-1zM161 354h2v1h-2zM161 543h2v1h-2zM164 464h2v1h-2zM164 528h1v1h-1zM164 542h2v2h-2zM165 355h1v2h-1zM166 357h2v1h-2zM166 465h2v2h-2zM167 358h1v1h-1zM168 359h1v2h-1zM168 530h2v1h-2zM169 360h2v1h-2zM169 530h1v2h-1zM169 549h1v2h-1zM171 362h1v2h-1zM171 532h1v1h-1zM171 550h2v1h-2zM173 469h2v1h-2zM175 535h2v2h-2zM177 474h1v2h-1zM178 364h1v1h-1zM179 369h1v2h-1zM180 477h2v1h-2zM180 540h1v1h-1zM180 557h2v1h-2zM181 541h2v1h-2zM182 378h2v1h-2zM182 380h1v1h-1zM183 541h2v2h-2zM184 382h2v2h-2zM184 383h1v2h-1zM186 488h2v1h-2zM186 488h2v2h-2zM186 503h1v1h-1zM186 505h2v1h-2zM186 505h2v2h-2zM187 381h2v1h-2zM187 382h1v1h-1zM187 498h2v1h-2zM187 511h1v2h-1zM188 495h1v2h-1zM188 513h2v1h-2zM188 515h2v2h-2zM189 381h2v1h-2zM189 388h2v1h-2zM189 389h1v2h-1zM190 381h1v2h-1zM190 389h1v2h-1zM191 520h2v2h-2zM191 522h1v1h-1zM191 566h2v2h-2zM192 382h2v1h-2zM192 383h2v2h-2zM192 384h2v2h-2zM194 567h1v1h-1zM194 569h2v1h-2zM196 529h1v1h-1zM196 529h2v1h-2zM197 391h2v1h-2zM197 534h2v1h-2zM197 547h2v2h-2zM198 532h2v1h-2zM198 546h2v2h-2zM199 537h2v1h-2zM199 546h1v2h-1zM201 542h2v1h-2zM201 544h1v1h-1zM201 545h1v1h-1zM203 393h1v2h-1zM204 394h1v1h-1zM208 396h2v2h-2zM210 398h2v1h-2zM210 420h1v1h-1zM210 421h2v2h-2zM211 418h1v1h-1zM211 418h2v1h-2zM211 424h2v1h-2zM212 417h1v1h-1zM213 407h2v1h-2zM213 422h1v2h-1zM214 402h2v2h-2zM214 422h1v2h-1zM220 418h2v1h-2zM224 413h2v2h-2zM225 246h2v1h-2zM225 414h2v1h-2zM226 413h1v2h-1zM227 241h1v1h-1zM227 246h1v1h-1zM228 230h1v1h-1zM228 232h1v2h-1zM228 250h2v1h-2zM229 226h2v2h-2zM229 228h1v2h-1zM229 231h2v2h-2zM229 233h1v1h-1zM229 251h1v1h-1zM230 227h1v1h-1zM230 411h2v2h-2zM230 412h1v2h-1zM231 252h1v1h-1zM231 411h2v2h-2zM233 409h1v1h-1zM234 254h2v1h-2zM235 408h2v1h-2zM236 221h1v1h-1zM237 258h2v2h-2zM237 259h2v1h-2zM238 218h2v1h-2zM238 219h2v2h-2zM238 408h1v1h-1zM239 216h2v2h-2zM239 218h1v1h-1zM239 263h1v1h-1zM239 265h1v1h-1zM239 408h1v1h-1zM241 208h2v1h-2zM241 213h1v1h-1zM241 214h1v1h-1zM242 206h2v2h-2zM242 207h2v2h-2zM242 266h2v2h-2zM243 404h2v2h-2zM244 269h1v2h-1zM244 401h1v2h-1zM245 206h2v2h-2zM245 271h2v2h-2zM245 272h2v2h-2zM246 274h2v1h-2zM249 396h1v2h-1zM250 207h2v1h-2zM251 278h1v2h-1zM251 396h2v2h-2zM252 205h1v2h-1zM252 206h2v2h-2zM252 282h1v1h-1zM253 206h2v1h-2zM253 395h1v2h-1zM254 204h1v2h-1zM254 282h1v2h-1zM254 393h1v2h-1zM256 201h2v2h-2zM256 286h2v2h-2zM257 201h2v1h-2zM257 202h2v1h-2zM257 392h2v1h-2zM260 288h2v1h-2zM260 391h2v1h-2zM261 196h2v2h-2zM262 290h1v2h-1zM262 290h2v1h-2zM262 389h1v2h-1zM262 390h1v2h-1zM265 196h2v2h-2zM266 293h1v1h-1zM267 195h1v2h-1zM268 196h3v1h-3zM268 295h1v1h-1zM268 295h1v2h-1zM268 382h1v2h-1zM269 199h3v2h-3zM269 295h2v2h-2zM270 197h1v2h-1zM271 196h1v1h-1zM271 298h2v1h-2zM272 192h3v3h-3zM274 193h2v1h-2zM274 194h2v2h-2zM274 196h1v1h-1zM276 193h1v2h-1zM276 194h1v2h-1zM276 245h2v1h-2zM277 194h3v1h-3zM277 195h3v1h-3zM277 250h2v1h-2zM278 238h1v2h-1zM278 250h2v2h-2zM279 192h2v2h-2zM279 193h3v2h-3zM279 195h1v3h-1zM279 310h1v1h-1zM280 234h1v2h-1zM280 310h1v2h-1zM280 312h1v2h-1zM280 552h2v2h-2zM281 195h3v2h-3zM281 313h2v2h-2zM281 316h2v1h-2zM281 376h1v2h-1zM281 550h1v1h-1zM281 555h1v1h-1zM282 316h2v2h-2zM282 319h2v2h-2zM282 320h2v2h-2zM282 372h1v1h-1zM283 200h1v1h-1zM283 253h1v2h-1zM283 371h2v2h-2zM283 373h1v2h-1zM283 549h1v1h-1zM283 564h1v1h-1zM284 195h3v3h-3zM284 230h1v1h-1zM284 254h1v1h-1zM284 321h1v2h-1zM284 322h1v2h-1zM284 323h2v2h-2zM284 325h2v2h-2zM284 327h2v2h-2zM284 363h1v2h-1zM284 544h2v2h-2zM284 567h1v1h-1zM285 197h2v2h-2zM285 228h1v1h-1zM285 324h1v2h-1zM286 228h2v1h-2zM286 336h2v2h-2zM286 356h1v1h-1zM286 358h1v1h-1zM286 538h1v2h-1zM287 228h1v1h-1zM287 338h2v2h-2zM287 340h2v2h-2zM287 539h1v2h-1zM288 198h3v2h-3zM288 227h1v1h-1zM288 341h1v2h-1zM289 537h2v2h-2zM291 193h2v2h-2zM291 194h1v3h-1zM292 195h3v1h-3zM292 196h2v3h-2zM292 227h2v1h-2zM292 253h2v2h-2zM293 198h1v2h-1zM293 199h2v1h-2zM293 204h1v3h-1zM293 210h1v2h-1zM293 212h2v3h-2zM293 254h2v1h-2zM293 537h1v2h-1zM294 199h1v2h-1zM294 201h1v1h-1zM294 201h2v3h-2zM294 201h3v3h-3zM294 205h3v3h-3zM294 209h3v1h-3zM295 202h2v3h-2zM295 227h2v2h-2zM295 253h2v1h-2zM296 200h2v2h-2zM296 204h3v3h-3zM296 207h2v1h-2zM296 212h3v3h-3zM296 216h2v1h-2zM296 216h3v2h-3zM296 217h2v3h-2zM296 227h2v1h-2zM297 213h1v3h-1zM297 213h3v3h-3zM299 218h3v2h-3zM299 225h2v2h-2zM300 217h1v1h-1zM300 218h1v3h-1zM300 219h2v3h-2zM300 253h1v1h-1zM302 542h1v1h-1zM304 202h3v1h-3zM304 218h1v3h-1zM304 222h2v2h-2zM305 201h3v2h-3zM305 205h1v3h-1zM305 207h1v2h-1zM305 217h2v3h-2zM305 224h1v2h-1zM305 541h2v2h-2zM306 199h1v2h-1zM306 202h2v2h-2zM306 207h2v1h-2zM306 208h2v1h-2zM306 208h2v3h-2zM306 212h3v1h-3zM306 214h2v1h-2zM306 221h2v1h-2zM306 223h2v2h-2zM306 542h2v1h-2zM307 199h3v3h-3zM307 204h1v1h-1zM307 208h3v2h-3zM307 209h2v2h-2zM307 210h3v2h-3zM307 215h1v1h-1zM308 199h2v2h-2zM308 201h3v2h-3zM309 214h3v3h-3zM309 217h2v3h-2zM309 219h1v2h-1zM309 543h2v1h-2zM310 544h2v1h-2zM311 201h1v3h-1zM312 201h3v3h-3zM312 202h2v2h-2zM313 201h2v1h-2zM313 236h1v1h-1zM313 542h2v2h-2zM314 235h2v1h-2zM315 200h1v2h-1zM315 233h2v2h-2zM315 235h1v1h-1zM316 227h1v2h-1zM316 227h2v2h-2zM317 201h1v1h-1zM317 201h3v2h-3zM318 534h2v1h-2zM318 541h1v2h-1zM319 200h3v2h-3zM319 201h1v1h-1zM319 536h1v1h-1zM319 537h1v1h-1zM319 538h1v2h-1zM320 199h3v2h-3zM321 529h1v1h-1zM322 196h2v3h-2zM322 200h2v1h-2zM322 525h2v2h-2zM323 198h2v2h-2zM323 523h2v1h-2zM324 521h2v2h-2zM325 196h3v2h-3zM326 195h2v3h-2zM326 199h1v1h-1zM326 521h2v2h-2zM328 522h1v1h-1zM329 193h3v1h-3zM329 194h2v2h-2zM329 195h2v2h-2zM329 197h1v1h-1zM330 192h1v1h-1zM330 196h2v1h-2zM330 520h2v1h-2zM333 192h1v2h-1zM333 195h3v1h-3zM335 192h3v2h-3zM336 194h1v2h-1zM339 196h3v2h-3zM342 518h2v1h-2zM343 192h2v1h-2zM343 192h2v2h-2zM343 193h2v1h-2zM343 519h2v2h-2zM344 192h3v3h-3zM344 518h2v1h-2zM345 191h3v3h-3zM346 190h3v3h-3zM346 194h2v2h-2zM347 516h2v2h-2zM349 192h2v2h-2zM350 191h2v2h-2zM352 190h2v3h-2zM352 192h1v1h-1zM353 184h2v3h-2zM353 186h2v3h-2zM353 188h1v3h-1zM355 182h3v3h-3zM355 184h1v3h-1zM355 188h1v2h-1zM355 511h2v2h-2zM357 172h3v3h-3zM357 177h3v1h-3zM358 171h2v1h-2zM358 179h2v3h-2zM358 506h2v2h-2zM358 507h2v2h-2zM359 168h3v1h-3zM359 175h2v2h-2zM359 176h1v1h-1zM359 181h1v2h-1zM359 181h3v1h-3zM359 183h1v1h-1zM360 170h1v3h-1zM360 170h2v1h-2zM360 173h1v2h-1zM360 175h2v2h-2zM360 178h1v3h-1zM360 185h1v2h-1zM361 175h2v3h-2zM361 176h1v3h-1zM361 178h2v2h-2zM361 179h2v3h-2zM361 505h2v1h-2zM362 172h1v1h-1zM362 172h1v2h-1zM362 175h2v2h-2zM362 181h1v3h-1zM362 182h2v3h-2zM362 184h2v2h-2zM362 185h2v3h-2zM363 173h1v1h-1zM363 174h1v2h-1zM363 176h3v2h-3zM363 177h3v2h-3zM363 500h1v2h-1zM364 186h3v2h-3zM364 187h1v3h-1zM366 497h2v1h-2zM367 492h2v2h-2zM368 182h2v1h-2zM368 184h2v2h-2zM369 184h2v2h-2zM369 184h3v1h-3zM369 186h1v1h-1zM369 493h1v1h-1zM371 181h3v2h-3zM371 182h1v3h-1zM371 184h2v2h-2zM372 182h3v1h-3zM373 490h2v2h-2zM374 180h2v1h-2zM374 182h2v3h-2zM374 489h1v1h-1zM376 179h1v1h-1zM376 488h1v2h-1zM377 179h1v3h-1zM377 488h2v1h-2zM378 179h2v1h-2zM378 180h2v3h-2zM379 178h2v1h-2zM381 174h3v3h-3zM381 175h3v2h-3zM381 177h2v2h-2zM381 179h2v1h-2zM381 486h2v1h-2zM382 485h1v1h-1zM383 485h2v2h-2zM384 177h1v2h-1zM384 177h1v3h-1zM386 174h3v2h-3zM386 175h2v3h-2zM386 484h2v2h-2zM387 173h3v3h-3zM387 176h3v3h-3zM389 485h1v1h-1zM390 177h2v1h-2zM390 178h1v1h-1zM390 482h2v1h-2zM390 483h1v1h-1zM391 481h2v2h-2zM392 177h3v1h-3zM393 172h2v3h-2zM393 478h1v1h-1zM394 175h3v2h-3zM394 476h2v1h-2zM395 174h3v3h-3zM395 175h2v1h-2zM396 177h2v1h-2zM397 474h1v1h-1zM398 173h1v3h-1zM398 176h2v1h-2zM399 173h2v1h-2zM400 174h3v1h-3zM400 470h1v2h-1zM402 174h3v2h-3zM402 175h1v2h-1zM402 469h2v1h-2zM403 173h3v3h-3zM403 175h3v2h-3zM404 172h2v2h-2zM405 466h2v2h-2zM405 468h2v1h-2zM406 173h1v2h-1zM407 463h1v2h-1zM408 171h1v3h-1zM408 460h2v1h-2zM409 172h1v3h-1zM410 173h2v2h-2zM411 457h2v2h-2zM412 171h1v1h-1zM412 457h2v2h-2zM413 452h2v1h-2zM413 453h2v1h-2zM414 164h3v3h-3zM414 169h3v3h-3zM414 451h2v2h-2zM415 169h1v1h-1zM416 163h3v2h-3zM416 447h2v2h-2zM417 168h3v1h-3zM417 435h2v2h-2zM417 447h2v1h-2zM418 166h2v2h-2zM418 432h2v1h-2zM419 431h1v1h-1zM419 447h1v2h-1zM420 428h1v1h-1zM420 432h2v1h-2zM421 155h3v1h-3zM422 156h3v1h-3zM422 157h3v2h-3zM422 159h2v1h-2zM422 453h3v2h-3zM423 155h3v2h-3zM423 429h2v2h-2zM423 430h1v1h-1zM423 431h1v1h-1zM423 458h2v2h-2zM423 459h3v3h-3zM423 460h3v3h-3zM424 151h2v3h-2zM424 154h2v3h-2zM424 159h1v1h-1zM424 427h1v2h-1zM424 446h2v1h-2zM424 452h3v2h-3zM425 151h2v1h-2zM425 155h2v2h-2zM425 420h1v2h-1zM425 423h1v1h-1zM425 426h1v1h-1zM425 455h1v3h-1zM425 504h3v1h-3zM426 150h3v3h-3zM426 427h1v1h-1zM426 451h1v2h-1zM426 460h3v1h-3zM426 560h2v3h-2zM426 566h2v2h-2zM427 155h2v2h-2zM427 420h1v2h-1zM427 420h2v2h-2zM427 426h1v1h-1zM427 461h2v2h-2zM427 510h2v1h-2zM427 515h1v1h-1zM427 564h3v2h-3zM427 567h1v3h-1zM428 419h2v2h-2zM428 464h3v1h-3zM428 465h3v3h-3zM428 512h2v1h-2zM428 513h2v1h-2zM428 518h1v1h-1zM428 566h2v1h-2zM429 148h3v1h-3zM429 149h1v3h-1zM429 149h3v1h-3zM429 149h3v3h-3zM429 416h1v2h-1zM429 422h2v1h-2zM429 469h2v1h-2zM429 508h1v1h-1zM429 511h1v3h-1zM429 520h2v1h-2zM429 520h3v3h-3zM430 146h2v3h-2zM430 149h1v1h-1zM430 417h1v2h-1zM430 417h2v1h-2zM430 498h3v1h-3zM430 511h2v2h-2zM430 524h3v2h-3zM430 532h3v2h-3zM431 150h2v2h-2zM431 558h3v2h-3zM431 560h1v1h-1zM431 561h2v1h-2zM432 416h1v1h-1zM432 422h2v2h-2zM432 525h1v1h-1zM432 527h1v1h-1zM432 555h3v1h-3zM433 146h1v2h-1zM433 146h2v3h-2zM433 148h3v2h-3zM433 415h1v2h-1zM433 501h1v2h-1zM433 528h1v3h-1zM433 555h1v2h-1zM434 413h1v2h-1zM434 419h2v1h-2zM434 475h1v1h-1zM434 554h2v2h-2zM434 558h3v2h-3zM435 143h3v3h-3zM435 146h2v3h-2zM435 537h3v3h-3zM435 557h1v1h-1zM436 141h1v2h-1zM436 143h1v2h-1zM436 144h2v2h-2zM436 144h3v3h-3zM436 145h2v3h-2zM436 416h1v2h-1zM436 473h2v3h-2zM436 497h1v1h-1zM436 537h1v3h-1zM436 552h2v3h-2zM437 138h3v3h-3zM437 140h3v2h-3zM437 143h2v2h-2zM437 411h1v2h-1zM437 473h3v1h-3zM437 486h1v3h-1zM437 495h2v1h-2zM437 550h2v3h-2zM437 551h1v2h-1zM437 552h3v2h-3zM438 140h1v3h-1zM438 142h2v2h-2zM438 415h1v2h-1zM438 415h2v2h-2zM438 541h2v1h-2zM438 542h3v2h-3zM439 139h3v3h-3zM439 413h2v1h-2zM439 544h3v3h-3zM439 551h2v2h-2zM440 138h2v2h-2zM440 139h1v2h-1zM440 407h1v1h-1zM440 476h1v1h-1zM440 485h2v1h-2zM440 487h2v1h-2zM440 492h3v1h-3zM440 494h1v2h-1zM440 541h1v3h-1zM441 137h3v3h-3zM441 138h1v3h-1zM441 142h1v1h-1zM441 405h1v2h-1zM441 412h2v1h-2zM441 493h3v3h-3zM441 495h2v2h-2zM442 136h3v1h-3zM442 137h2v2h-2zM442 138h1v1h-1zM442 139h2v2h-2zM442 410h2v2h-2zM442 544h3v3h-3zM443 137h1v2h-1zM443 412h1v2h-1zM443 549h3v1h-3zM444 136h1v2h-1zM444 484h1v2h-1zM444 493h2v3h-2zM444 495h2v1h-2zM444 547h2v1h-2zM444 555h3v3h-3zM445 134h1v1h-1zM445 484h2v2h-2zM445 484h3v2h-3zM446 130h2v1h-2zM446 131h1v2h-1zM446 131h2v3h-2zM446 136h1v2h-1zM446 137h1v1h-1zM446 401h1v2h-1zM446 406h2v1h-2zM446 407h2v1h-2zM446 548h1v1h-1zM447 130h2v3h-2zM447 134h3v3h-3zM447 398h2v2h-2zM447 485h3v1h-3zM448 130h2v3h-2zM448 135h2v3h-2zM448 552h2v1h-2zM449 484h3v3h-3zM450 128h2v3h-2zM450 130h2v3h-2zM450 395h2v1h-2zM451 126h2v1h-2zM451 130h3v3h-3zM451 131h1v3h-1zM451 394h2v2h-2zM451 479h3v2h-3zM451 485h1v3h-1zM452 126h3v1h-3zM452 129h1v2h-1zM452 399h2v1h-2zM452 400h1v2h-1zM452 401h1v1h-1zM453 124h1v3h-1zM453 124h3v1h-3zM453 127h1v1h-1zM453 128h1v2h-1zM453 129h1v1h-1zM453 392h2v2h-2zM453 397h2v1h-2zM453 480h3v1h-3zM454 121h3v3h-3zM454 382h2v2h-2zM454 479h3v3h-3zM455 121h1v3h-1zM455 123h2v1h-2zM455 379h2v2h-2zM455 380h2v1h-2zM455 383h2v2h-2zM455 391h1v1h-1zM455 395h2v1h-2zM456 122h3v2h-3zM456 125h3v2h-3zM456 379h1v2h-1zM456 383h1v2h-1zM456 388h2v1h-2zM456 389h2v2h-2zM456 482h1v2h-1zM457 117h2v3h-2zM457 122h3v2h-3zM457 386h2v2h-2zM458 393h2v1h-2zM459 116h2v2h-2zM459 121h3v1h-3zM459 122h1v1h-1zM459 377h2v1h-2zM459 377h2v2h-2zM459 385h2v1h-2zM459 389h2v1h-2zM460 118h2v2h-2zM460 120h1v1h-1zM460 122h2v1h-2zM460 379h1v2h-1zM460 381h2v1h-2zM460 383h1v2h-1zM460 387h1v2h-1zM460 389h2v2h-2zM460 392h1v1h-1zM461 102h2v3h-2zM461 107h2v3h-2zM461 110h3v2h-3zM461 116h2v1h-2zM461 382h1v2h-1zM461 383h2v2h-2zM461 389h1v2h-1zM462 105h1v2h-1zM462 106h3v3h-3zM462 108h2v1h-2zM462 110h3v2h-3zM462 111h3v1h-3zM462 112h2v1h-2zM462 112h2v3h-2zM462 114h3v3h-3zM463 99h3v3h-3zM463 102h2v2h-2zM463 102h3v2h-3zM463 102h3v3h-3zM463 104h1v1h-1zM463 106h1v1h-1zM463 109h3v3h-3zM463 111h3v3h-3zM463 116h3v3h-3zM463 117h3v2h-3zM464 114h2v1h-2zM464 114h2v3h-2zM465 97h2v1h-2zM465 99h3v2h-3zM465 100h1v1h-1zM465 103h2v1h-2zM465 104h1v1h-1zM465 105h1v1h-1zM465 109h1v2h-1zM465 110h1v3h-1zM465 291h1v2h-1zM465 292h2v2h-2zM466 102h2v1h-2zM466 290h1v2h-1zM466 300h2v2h-2zM466 301h2v1h-2zM466 361h2v2h-2zM466 368h2v1h-2zM466 566h2v1h-2zM466 569h1v1h-1zM467 97h1v1h-1zM467 98h2v3h-2zM467 98h3v1h-3zM467 291h2v2h-2zM467 301h1v2h-1zM467 302h2v2h-2zM467 303h2v2h-2zM467 361h2v1h-2zM468 94h3v3h-3zM468 99h1v2h-1zM468 99h3v2h-3zM468 306h1v1h-1zM469 94h2v1h-2zM469 96h1v2h-1zM469 96h3v1h-3zM469 311h2v1h-2zM469 314h1v2h-1zM469 362h2v1h-2zM469 369h1v2h-1zM470 95h2v2h-2zM470 97h2v3h-2zM470 169h2v1h-2zM470 170h1v1h-1zM471 95h3v2h-3zM471 165h2v2h-2zM472 90h1v3h-1zM472 90h3v2h-3zM472 95h1v3h-1zM472 159h2v2h-2zM472 170h1v2h-1zM472 288h1v1h-1zM472 317h1v1h-1zM472 361h2v2h-2zM472 365h1v1h-1zM472 368h1v2h-1zM472 557h1v1h-1zM473 88h2v3h-2zM473 88h3v2h-3zM473 90h3v3h-3zM473 92h1v2h-1zM473 95h3v3h-3zM473 159h1v1h-1zM473 319h2v1h-2zM473 363h2v2h-2zM473 364h1v1h-1zM474 86h1v1h-1zM474 94h1v3h-1zM474 153h2v2h-2zM474 266h1v2h-1zM474 269h1v1h-1zM474 285h1v1h-1zM474 341h1v1h-1zM474 555h2v2h-2zM475 88h3v2h-3zM475 260h1v1h-1zM475 263h2v2h-2zM475 268h1v1h-1zM475 281h1v2h-1zM475 340h1v1h-1zM476 88h3v1h-3zM476 89h1v3h-1zM476 150h1v1h-1zM476 255h2v2h-2zM476 265h1v1h-1zM476 274h2v1h-2zM476 276h2v1h-2zM476 280h2v1h-2zM476 320h1v1h-1zM476 320h1v2h-1zM476 343h2v2h-2zM477 84h1v1h-1zM477 86h1v3h-1zM477 86h2v1h-2zM477 87h2v3h-2zM477 88h1v2h-1zM477 147h1v2h-1zM477 256h2v2h-2zM477 324h1v1h-1zM477 567h1v1h-1zM478 184h1v1h-1zM478 185h1v2h-1zM478 252h1v2h-1zM478 254h1v2h-1zM478 331h1v1h-1zM478 566h2v2h-2zM478 567h1v2h-1zM479 75h3v3h-3zM479 82h2v3h-2zM479 83h1v2h-1zM479 85h3v2h-3zM479 189h2v1h-2zM479 339h1v1h-1zM479 553h2v2h-2zM479 554h2v1h-2zM479 563h2v2h-2zM479 564h2v1h-2zM480 80h2v2h-2zM480 81h2v3h-2zM480 84h1v2h-1zM480 85h2v3h-2zM480 86h2v3h-2zM480 347h1v2h-1zM480 553h2v2h-2zM481 78h2v3h-2zM481 78h3v1h-3zM481 81h1v3h-1zM481 141h1v2h-1zM481 250h2v2h-2zM481 320h1v2h-1zM481 320h2v1h-2zM481 333h2v1h-2zM481 549h2v1h-2zM481 550h1v1h-1zM482 75h1v3h-1zM482 75h2v3h-2zM482 77h1v3h-1zM482 78h1v1h-1zM482 78h1v3h-1zM482 81h3v1h-3zM482 140h2v1h-2zM482 321h2v2h-2zM482 325h2v1h-2zM482 353h2v1h-2zM482 548h2v2h-2zM482 563h1v1h-1zM483 76h2v3h-2zM483 140h1v1h-1zM483 185h1v2h-1zM483 249h2v1h-2zM483 321h2v2h-2zM483 333h1v1h-1zM483 354h1v2h-1zM484 73h2v2h-2zM484 75h1v2h-1zM484 77h2v3h-2zM484 249h1v1h-1zM484 250h2v1h-2zM484 322h1v2h-1zM484 352h1v1h-1zM484 356h1v1h-1zM485 336h1v1h-1zM485 339h2v1h-2zM485 340h1v2h-1zM485 358h1v1h-1zM485 562h2v2h-2zM486 76h3v3h-3zM486 136h1v2h-1zM486 176h2v2h-2zM486 177h1v1h-1zM486 179h1v1h-1zM486 339h2v2h-2zM486 359h2v1h-2zM487 135h1v1h-1zM487 173h2v1h-2zM487 359h2v2h-2zM488 68h3v3h-3zM488 74h1v2h-1zM488 74h3v3h-3zM488 75h2v3h-2zM488 134h1v2h-1zM488 173h2v1h-2zM488 251h2v1h-2zM488 362h2v2h-2zM488 549h2v2h-2zM489 74h3v3h-3zM489 75h2v2h-2zM489 133h2v2h-2zM489 343h2v1h-2zM489 561h2v2h-2zM490 52h3v2h-3zM490 70h1v3h-1zM490 170h1v2h-1zM490 344h2v1h-2zM490 561h1v2h-1zM491 73h2v2h-2zM491 73h2v3h-2zM491 347h2v1h-2zM491 360h1v1h-1zM492 51h2v3h-2zM492 166h2v1h-2zM492 310h2v1h-2zM492 335h2v1h-2zM492 336h2v2h-2zM492 348h2v1h-2zM492 349h1v2h-1zM492 350h1v2h-1zM492 355h2v1h-2zM492 356h2v2h-2zM492 358h1v2h-1zM493 53h2v1h-2zM493 54h3v1h-3zM493 58h2v3h-2zM493 62h2v3h-2zM493 66h3v3h-3zM493 69h1v1h-1zM493 70h2v1h-2zM493 70h2v3h-2zM493 71h2v1h-2zM493 310h1v1h-1zM493 333h2v2h-2zM493 550h2v1h-2zM493 562h1v2h-1zM494 46h2v1h-2zM494 47h3v3h-3zM494 53h1v1h-1zM494 55h1v3h-1zM494 56h2v2h-2zM494 57h2v3h-2zM494 68h1v3h-1zM494 158h2v1h-2zM494 353h2v2h-2zM494 355h2v1h-2zM494 552h1v1h-1zM494 561h2v1h-2zM495 45h2v1h-2zM495 46h1v2h-1zM495 47h2v3h-2zM495 48h1v2h-1zM495 49h1v2h-1zM495 51h3v1h-3zM495 59h3v1h-3zM495 65h3v2h-3zM495 67h3v1h-3zM495 158h1v1h-1zM495 252h2v1h-2zM495 301h1v1h-1zM495 302h1v2h-1zM495 317h1v2h-1zM496 46h1v3h-1zM496 46h3v3h-3zM496 47h3v2h-3zM496 48h1v2h-1zM496 49h1v3h-1zM496 51h1v3h-1zM496 51h2v1h-2zM496 52h1v2h-1zM496 54h2v2h-2zM496 55h3v3h-3zM496 60h3v1h-3zM496 62h2v1h-2zM496 65h3v3h-3zM496 70h1v1h-1zM496 320h1v1h-1zM496 553h1v2h-1zM496 560h1v2h-1zM497 43h3v2h-3zM497 45h3v1h-3zM497 60h1v3h-1zM497 60h3v3h-3zM497 67h1v1h-1zM497 130h2v2h-2zM497 321h1v1h-1zM497 322h1v2h-1zM497 553h1v2h-1zM497 555h1v1h-1zM498 47h2v1h-2zM498 56h1v2h-1zM498 66h1v2h-1zM498 146h2v1h-2zM498 147h1v2h-1zM498 299h1v1h-1zM498 324h1v2h-1zM498 561h1v2h-1zM499 43h2v3h-2zM499 63h1v1h-1zM499 132h2v1h-2zM499 140h2v1h-2zM499 142h1v1h-1zM499 144h2v1h-2zM499 254h2v1h-2zM499 313h1v2h-1zM499 317h1v1h-1zM499 339h1v2h-1zM499 343h1v1h-1zM500 47h2v1h-2zM500 298h1v2h-1zM500 298h2v1h-2zM500 332h1v2h-1zM500 339h1v1h-1zM500 339h1v2h-1zM500 389h1v1h-1zM500 390h1v1h-1zM501 42h1v3h-1zM501 44h1v3h-1zM501 46h2v3h-2zM501 253h2v2h-2zM501 297h1v1h-1zM501 297h2v1h-2zM501 315h1v1h-1zM501 319h1v1h-1zM501 334h2v1h-2zM501 361h2v2h-2zM501 363h2v2h-2zM501 380h2v1h-2zM501 382h1v1h-1zM501 384h2v2h-2zM501 387h1v2h-1zM501 389h1v1h-1zM502 39h1v3h-1zM502 39h2v2h-2zM502 41h1v1h-1zM502 41h2v2h-2zM502 253h2v2h-2zM502 318h2v1h-2zM502 359h2v1h-2zM502 375h2v2h-2zM502 384h1v1h-1zM502 386h1v1h-1zM502 442h2v2h-2zM502 555h1v2h-1zM502 561h2v1h-2zM503 40h2v2h-2zM503 42h1v2h-1zM503 335h1v1h-1zM503 344h2v1h-2zM503 354h2v2h-2zM503 355h2v1h-2zM503 360h1v1h-1zM503 364h1v2h-1zM503 372h1v2h-1zM503 376h2v2h-2zM503 378h1v1h-1zM503 391h2v2h-2zM503 443h1v1h-1zM503 450h2v2h-2zM503 451h2v2h-2zM503 452h1v2h-1zM504 38h3v3h-3zM504 39h1v1h-1zM504 250h1v2h-1zM504 258h2v2h-2zM504 291h2v2h-2zM504 344h1v1h-1zM504 358h2v1h-2zM504 451h2v1h-2zM504 556h2v2h-2zM504 560h2v1h-2zM505 252h1v2h-1zM505 290h1v2h-1zM505 358h2v1h-2zM505 362h2v1h-2zM505 390h2v1h-2zM505 392h2v1h-2zM505 436h2v2h-2zM505 438h2v2h-2zM505 449h1v1h-1zM505 556h1v1h-1zM505 560h2v2h-2zM506 258h2v1h-2zM506 290h2v2h-2zM506 330h2v2h-2zM506 338h1v1h-1zM506 339h1v1h-1zM506 370h1v1h-1zM506 449h1v1h-1zM506 556h1v2h-1zM507 253h1v1h-1zM507 261h1v1h-1zM507 262h1v2h-1zM507 266h2v1h-2zM507 285h1v1h-1zM507 329h2v2h-2zM507 369h1v2h-1zM507 370h2v2h-2zM507 556h2v1h-2zM508 357h1v1h-1zM508 372h1v1h-1zM508 389h2v1h-2zM509 269h2v2h-2zM509 273h2v2h-2zM509 274h1v2h-1zM509 277h2v2h-2zM509 282h2v1h-2zM509 284h1v2h-1zM509 438h1v1h-1zM509 443h2v2h-2zM510 280h1v1h-1zM510 333h2v2h-2zM510 342h1v2h-1zM510 357h2v2h-2zM510 360h1v2h-1zM510 360h2v1h-2zM510 362h1v1h-1zM510 389h1v2h-1zM510 403h1v1h-1zM510 407h1v2h-1zM510 435h1v2h-1zM510 441h2v2h-2zM510 443h2v1h-2zM511 335h1v2h-1zM511 338h1v2h-1zM511 343h1v1h-1zM511 372h2v1h-2zM511 386h1v2h-1zM511 401h1v2h-1zM511 401h2v2h-2zM511 408h1v2h-1zM511 411h2v1h-2zM511 441h2v2h-2zM512 327h2v1h-2zM512 331h1v1h-1zM512 338h1v2h-1zM512 341h2v1h-2zM512 342h2v1h-2zM512 343h1v1h-1zM512 344h1v2h-1zM512 345h1v1h-1zM512 360h2v1h-2zM512 361h2v1h-2zM512 373h2v1h-2zM512 375h2v1h-2zM512 387h2v2h-2zM512 400h1v1h-1zM512 411h1v2h-1zM512 413h2v2h-2zM512 440h1v1h-1zM512 558h2v1h-2zM513 361h2v1h-2zM513 374h1v1h-1zM513 385h2v1h-2zM513 387h1v1h-1zM513 432h2v2h-2zM514 399h2v2h-2zM514 557h1v2h-1zM515 440h1v1h-1zM515 440h1v2h-1zM515 558h1v2h-1zM515 562h1v1h-1zM516 332h2v1h-2zM516 383h1v2h-1zM516 397h1v1h-1zM516 397h2v2h-2zM516 415h2v2h-2zM516 440h2v1h-2zM517 374h2v1h-2zM517 381h2v1h-2zM517 393h2v2h-2zM517 395h2v1h-2zM517 402h1v2h-1zM517 403h2v2h-2zM517 442h2v1h-2zM517 558h1v2h-1zM518 327h1v1h-1zM518 329h2v2h-2zM518 335h1v1h-1zM518 336h1v1h-1zM518 374h2v1h-2zM518 385h2v1h-2zM518 387h2v2h-2zM518 392h1v2h-1zM518 393h2v1h-2zM518 403h2v1h-2zM518 405h1v1h-1zM518 406h2v2h-2zM518 409h2v1h-2zM518 414h1v1h-1zM518 429h2v2h-2zM518 442h1v1h-1zM518 559h1v1h-1zM519 372h1v2h-1zM519 375h1v2h-1zM519 381h1v1h-1zM519 384h1v2h-1zM519 388h2v2h-2zM519 389h1v2h-1zM519 405h2v1h-2zM519 410h2v1h-2zM519 414h1v2h-1zM520 374h1v2h-1zM520 378h1v2h-1zM520 380h2v2h-2zM520 383h1v1h-1zM520 399h1v1h-1zM520 411h1v2h-1zM520 429h1v1h-1zM521 332h1v1h-1zM521 339h1v2h-1zM521 383h2v1h-2zM521 428h1v2h-1zM521 429h1v2h-1zM521 560h1v1h-1zM522 333h1v1h-1zM522 339h2v2h-2zM522 398h1v2h-1zM522 399h1v2h-1zM522 427h1v1h-1zM523 342h1v1h-1zM523 383h1v1h-1zM523 396h2v1h-2zM523 402h1v1h-1zM524 333h1v1h-1zM524 343h2v2h-2zM524 357h2v1h-2zM524 388h2v1h-2zM524 391h1v2h-1zM524 392h1v2h-1zM524 401h1v2h-1zM524 423h1v2h-1zM524 560h1v1h-1zM525 333h1v2h-1zM525 387h1v1h-1zM525 390h2v2h-2zM525 399h2v1h-2zM525 558h1v2h-1zM526 333h1v1h-1zM526 344h1v2h-1zM526 394h2v2h-2zM526 395h1v1h-1zM526 563h2v1h-2zM527 344h1v2h-1zM527 356h1v2h-1zM527 361h2v2h-2zM527 363h2v1h-2zM527 402h1v1h-1zM527 404h2v1h-2zM528 390h2v2h-2zM528 400h1v2h-1zM528 421h2v2h-2zM528 438h2v1h-2zM529 357h1v2h-1zM529 390h1v1h-1zM530 333h2v1h-2zM530 351h2v1h-2zM530 358h1v1h-1zM530 387h2v2h-2zM530 559h1v1h-1zM531 340h1v1h-1zM531 340h1v2h-1zM531 351h2v2h-2zM531 359h2v2h-2zM531 367h2v2h-2zM531 397h1v1h-1zM532 336h2v2h-2zM532 338h2v2h-2zM532 339h1v1h-1zM532 342h1v1h-1zM532 343h1v1h-1zM532 345h2v1h-2zM532 360h2v1h-2zM532 425h2v2h-2zM533 334h2v1h-2zM533 346h2v2h-2zM533 364h2v1h-2zM533 382h1v1h-1zM533 393h1v2h-1zM533 393h2v1h-2zM533 441h2v1h-2zM534 353h2v2h-2zM534 363h2v1h-2zM534 381h1v1h-1zM534 382h1v1h-1zM534 385h2v1h-2zM534 386h2v1h-2zM534 400h2v2h-2zM534 401h1v1h-1zM534 441h2v1h-2zM534 564h2v2h-2zM535 347h1v2h-1zM535 348h1v1h-1zM535 353h2v1h-2zM535 355h1v1h-1zM535 364h2v2h-2zM535 366h2v2h-2zM535 369h1v2h-1zM535 399h1v2h-1zM535 405h2v2h-2zM535 426h1v2h-1zM535 557h1v2h-1zM536 350h2v2h-2zM536 354h2v2h-2zM536 384h2v1h-2zM536 405h2v2h-2zM536 407h1v1h-1zM536 455h1v2h-1zM536 557h1v2h-1zM536 564h1v1h-1zM537 349h1v1h-1zM537 367h2v2h-2zM537 368h2v2h-2zM537 407h1v2h-1zM537 426h2v2h-2zM537 454h2v2h-2zM537 456h1v2h-1zM537 557h1v1h-1zM538 338h1v2h-1zM538 353h2v2h-2zM538 400h2v1h-2zM538 406h1v1h-1zM538 443h1v1h-1zM538 449h2v2h-2zM538 557h1v1h-1zM540 330h1v1h-1zM540 339h1v1h-1zM540 406h2v2h-2zM540 562h1v2h-1zM541 330h1v1h-1zM541 337h2v2h-2zM541 357h1v2h-1zM541 360h1v1h-1zM541 378h1v2h-1zM541 399h2v2h-2zM541 405h1v2h-1zM541 465h2v1h-2zM542 331h1v2h-1zM542 331h2v1h-2zM542 335h1v1h-1zM542 336h2v2h-2zM542 376h1v2h-1zM542 381h2v2h-2zM542 382h2v2h-2zM542 400h2v2h-2zM542 404h1v2h-1zM542 405h2v2h-2zM542 424h2v1h-2zM542 466h1v1h-1zM542 562h2v2h-2zM543 333h1v2h-1zM543 363h1v1h-1zM543 374h1v2h-1zM543 384h2v2h-2zM543 402h1v1h-1zM543 403h2v2h-2zM543 466h2v1h-2zM543 467h1v1h-1zM543 550h2v2h-2zM543 552h2v2h-2zM543 562h2v1h-2zM544 356h2v1h-2zM544 385h2v1h-2zM544 386h2v1h-2zM544 422h2v2h-2zM544 424h1v2h-1zM545 367h2v1h-2zM545 375h1v1h-1zM545 386h2v1h-2zM545 388h1v1h-1zM545 420h2v2h-2zM546 368h2v1h-2zM546 390h1v1h-1zM547 356h1v2h-1zM547 374h2v2h-2zM547 390h2v2h-2zM547 468h2v1h-2zM547 546h1v1h-1zM548 355h2v2h-2zM548 368h1v2h-1zM548 375h2v2h-2zM548 419h1v1h-1zM548 420h2v2h-2zM548 469h1v1h-1zM548 545h1v1h-1zM549 357h2v1h-2zM549 370h2v2h-2zM549 392h1v1h-1zM549 468h2v1h-2zM549 556h2v2h-2zM550 384h2v1h-2zM550 389h2v2h-2zM550 556h2v1h-2zM551 374h1v1h-1zM551 383h2v1h-2zM551 420h1v1h-1zM551 420h2v1h-2zM552 385h1v2h-1zM552 396h1v2h-1zM552 418h2v1h-2zM552 469h1v1h-1zM552 543h2v1h-2zM552 551h1v2h-1zM553 375h1v1h-1zM553 377h2v1h-2zM553 397h1v1h-1zM553 397h2v1h-2zM553 551h1v2h-1zM554 358h1v2h-1zM554 359h2v2h-2zM554 381h1v1h-1zM554 391h2v1h-2zM554 418h1v2h-1zM554 468h1v2h-1zM554 469h1v1h-1zM555 392h2v2h-2zM555 416h2v2h-2zM555 543h1v1h-1zM555 544h1v1h-1zM555 548h2v2h-2zM556 388h1v2h-1zM556 469h2v1h-2zM557 412h1v1h-1zM557 469h2v1h-2zM557 474h2v2h-2zM558 363h1v1h-1zM558 364h2v1h-2zM558 409h1v2h-1zM559 365h1v2h-1zM559 369h2v2h-2zM559 408h2v2h-2zM559 412h2v1h-2zM559 459h2v1h-2zM560 371h2v2h-2zM560 377h1v1h-1zM560 380h2v1h-2zM560 454h1v1h-1zM560 456h2v1h-2zM560 461h1v1h-1zM560 462h2v2h-2zM560 472h2v1h-2zM561 376h1v1h-1zM561 382h1v2h-1zM561 383h2v2h-2zM561 464h2v1h-2zM562 449h1v1h-1zM562 467h1v2h-1zM562 471h1v1h-1zM562 472h1v1h-1zM563 404h1v1h-1zM563 468h2v2h-2zM563 469h1v2h-1zM564 404h1v2h-1zM564 404h2v2h-2zM564 446h1v2h-1zM564 448h1v2h-1zM565 406h2v1h-2zM565 454h2v2h-2zM566 407h2v2h-2zM566 456h2v1h-2zM566 458h1v2h-1zM567 407h2v2h-2zM568 453h1v1h-1zM570 411h1v2h-1zM570 414h1v1h-1zM570 460h1v1h-1zM571 420h2v1h-2zM572 418h2v1h-2zM572 420h2v1h-2zM572 459h2v2h-2zM572 461h2v1h-2zM574 421h1v1h-1zM575 457h2v2h-2zM577 428h1v2h-1zM577 448h2v1h-2zM577 448h2v2h-2zM577 450h2v1h-2zM577 461h1v1h-1zM578 431h1v1h-1zM578 431h1v2h-1zM578 452h1v1h-1zM578 455h1v2h-1zM578 460h2v1h-2zM578 460h2v2h-2zM579 436h1v1h-1zM579 440h1v1h-1zM579 457h1v2h-1zM593 548h2v2h-2zM594 546h1v1h-1zM594 550h1v2h-1zM595 540h2v2h-2zM595 554h1v1h-1zM595 556h2v2h-2zM595 562h2v2h-2zM596 537h2v2h-2zM596 538h2v2h-2zM596 555h1v2h-1zM596 557h2v1h-2zM596 565h1v2h-1zM596 568h1v1h-1zM597 536h2v2h-2zM600 532h1v1h-1zM600 540h1v1h-1zM600 540h2v2h-2zM601 534h1v2h-1zM601 541h1v2h-1zM601 565h1v2h-1zM601 566h1v2h-1zM602 566h1v2h-1zM605 558h2v2h-2zM606 547h1v2h-1zM606 558h1v2h-1zM606 563h1v1h-1zM607 557h1v1h-1zM607 559h1v1h-1zM608 545h1v1h-1zM608 555h2v2h-2zM608 559h1v1h-1zM609 544h1v2h-1zM609 544h2v2h-2zM609 561h1v1h-1zM610 553h2v2h-2zM610 555h1v2h-1zM611 543h1v1h-1zM611 565h1v2h-1zM612 561h1v2h-1zM614 544h2v2h-2zM614 550h1v1h-1zM614 562h1v1h-1zM615 549h1v1h-1zM617 547h1v2h-1zM617 548h1v1h-1zM617 566h2v1h-2z" fill="#000"/>
</g>
<g shape-rendering="crispEdges">
<rect x="112" y="37" width="526" height="534" fill="none" stroke="#000" stroke-width="2"/>
<path d="M130.5 38v5M130.5 570v-5M163.5 38v5M163.5 570v-5M197.5 38v5M197.5 570v-5M231.5 38v5M231.5 570v-5M265.5 38v5M265.5 570v-5M299.5 38v5M299.5 570v-5M333.5 38v5M333.5 570v-5M367.5 38v5M367.5 570v-5M400.5 38v5M400.5 570v-5M434.5 38v5M434.5 570v-5M468.5 38v5M468.5 570v-5M502.5 38v5M502.5 570v-5M536.5 38v5M536.5 570v-5M570.5 38v5M570.5 570v-5M604.5 38v5M604.5 570v-5M113 536.5h5M637 536.5h-5M113 502.5h5M637 502.5h-5M113 468.5h5M637 468.5h-5M113 434.5h5M637 434.5h-5M113 400.5h5M637 400.5h-5M113 366.5h5M637 366.5h-5M113 331.5h5M637 331.5h-5M113 296.5h5M637 296.5h-5M113 261.5h5M637 261.5h-5M113 225.5h5M637 225.5h-5M113 189.5h5M637 189.5h-5M113 152.5h5M637 152.5h-5M113 115.5h5M637 115.5h-5M113 77.5h5M637 77.5h-5M113 38.5h5M637 38.5h-5" stroke="#000" stroke-width="1" fill="none"/>
</g>
<text class="t b" x="375.5" y="20" font-size="13" text-anchor="middle">Significant Wave Height with Wave Direction</text>
<text class="t b" x="375.5" y="32" font-size="12" font-style="italic" text-anchor="middle" textLength="185" lengthAdjust="spacingAndGlyphs">Valid For Feb-19-2009 18:00 GMT</text>
<text class="ax" x="133.5" y="588" text-anchor="middle">100 E</text>
<text class="ax" x="218.0" y="588" text-anchor="middle">105 E</text>
<text class="ax" x="302.5" y="588" text-anchor="middle">110 E</text>
<text class="ax" x="387.0" y="588" text-anchor="middle">115 E</text>
<text class="ax" x="471.5" y="588" text-anchor="middle">120 E</text>
<text class="ax" x="556.0" y="588" text-anchor="middle">125 E</text>
<text class="ax" x="640.5" y="588" text-anchor="middle">130 E</text>
<text class="ax" x="645.5" y="573.5">0</text>
<text class="ax" x="645.5" y="488.9">5 N</text>
<text class="ax" x="645.5" y="403.6">10 N</text>
<text class="ax" x="645.5" y="317.1">15 N</text>
<text class="ax" x="645.5" y="228.4">20 N</text>
<text class="ax" x="645.5" y="136.9">25 N</text>
<text class="ax" x="645.5" y="41.6">30 N</text>
<text class="t" x="113" y="602" font-size="13" textLength="128" lengthAdjust="spacingAndGlyphs">oceanweather inc.</text>
<text class="t" x="521" y="599" font-size="7.5" font-style="italic" textLength="116" lengthAdjust="spacingAndGlyphs">Plotted at Feb 19, 2009 11:41 GMT</text>
<text class="lg" x="375.5" y="614" text-anchor="middle">Significant Wave Height (Meters)</text>
<text class="lg" x="375.5" y="662" text-anchor="middle">Significant Wave Height (Feet)</text>
<rect x="255" y="629" width="241" height="13" fill="url(#cb)" shape-rendering="crispEdges"/>
<rect x="255" y="629" width="2" height="13" fill="#000" shape-rendering="crispEdges"/>
<text class="ln" x="256.0" y="626" text-anchor="middle">0</text>
<text class="ln" x="276.1" y="626" text-anchor="middle">1</text>
<text class="ln" x="296.1" y="626" text-anchor="middle">2</text>
<text class="ln" x="316.1" y="626" text-anchor="middle">3</text>
<text class="ln" x="336.2" y="626" text-anchor="middle">4</text>
<text class="ln" x="356.2" y="626" text-anchor="middle">5</text>
<text class="ln" x="376.3" y="626" text-anchor="middle">6</text>
<text class="ln" x="396.4" y="626" text-anchor="middle">7</text>
<text class="ln" x="416.4" y="626" text-anchor="middle">8</text>
<text class="ln" x="436.5" y="626" text-anchor="middle">9</text>
<text class="ln" x="456.5" y="626" text-anchor="middle">10</text>
<text class="ln" x="476.6" y="626" text-anchor="middle">11</text>
<text class="ln" x="496.6" y="626" text-anchor="middle">12</text>
<text class="ln" x="256.0" y="650" text-anchor="middle">0</text>
<text class="ln" x="286.0" y="650" text-anchor="middle">5</text>
<text class="ln" x="316.0" y="650" text-anchor="middle">10</text>
<text class="ln" x="346.0" y="650" text-anchor="middle">15</text>
<text class="ln" x="376.0" y="650" text-anchor="middle">20</text>
<text class="ln" x="406.0" y="650" text-anchor="middle">25</text>
<text class="ln" x="436.0" y="650" text-anchor="middle">30</text>
<text class="ln" x="466.0" y="650" text-anchor="middle">35</text>
<text class="ln" x="496.0" y="650" text-anchor="middle">40</text>
</svg></body></html>
